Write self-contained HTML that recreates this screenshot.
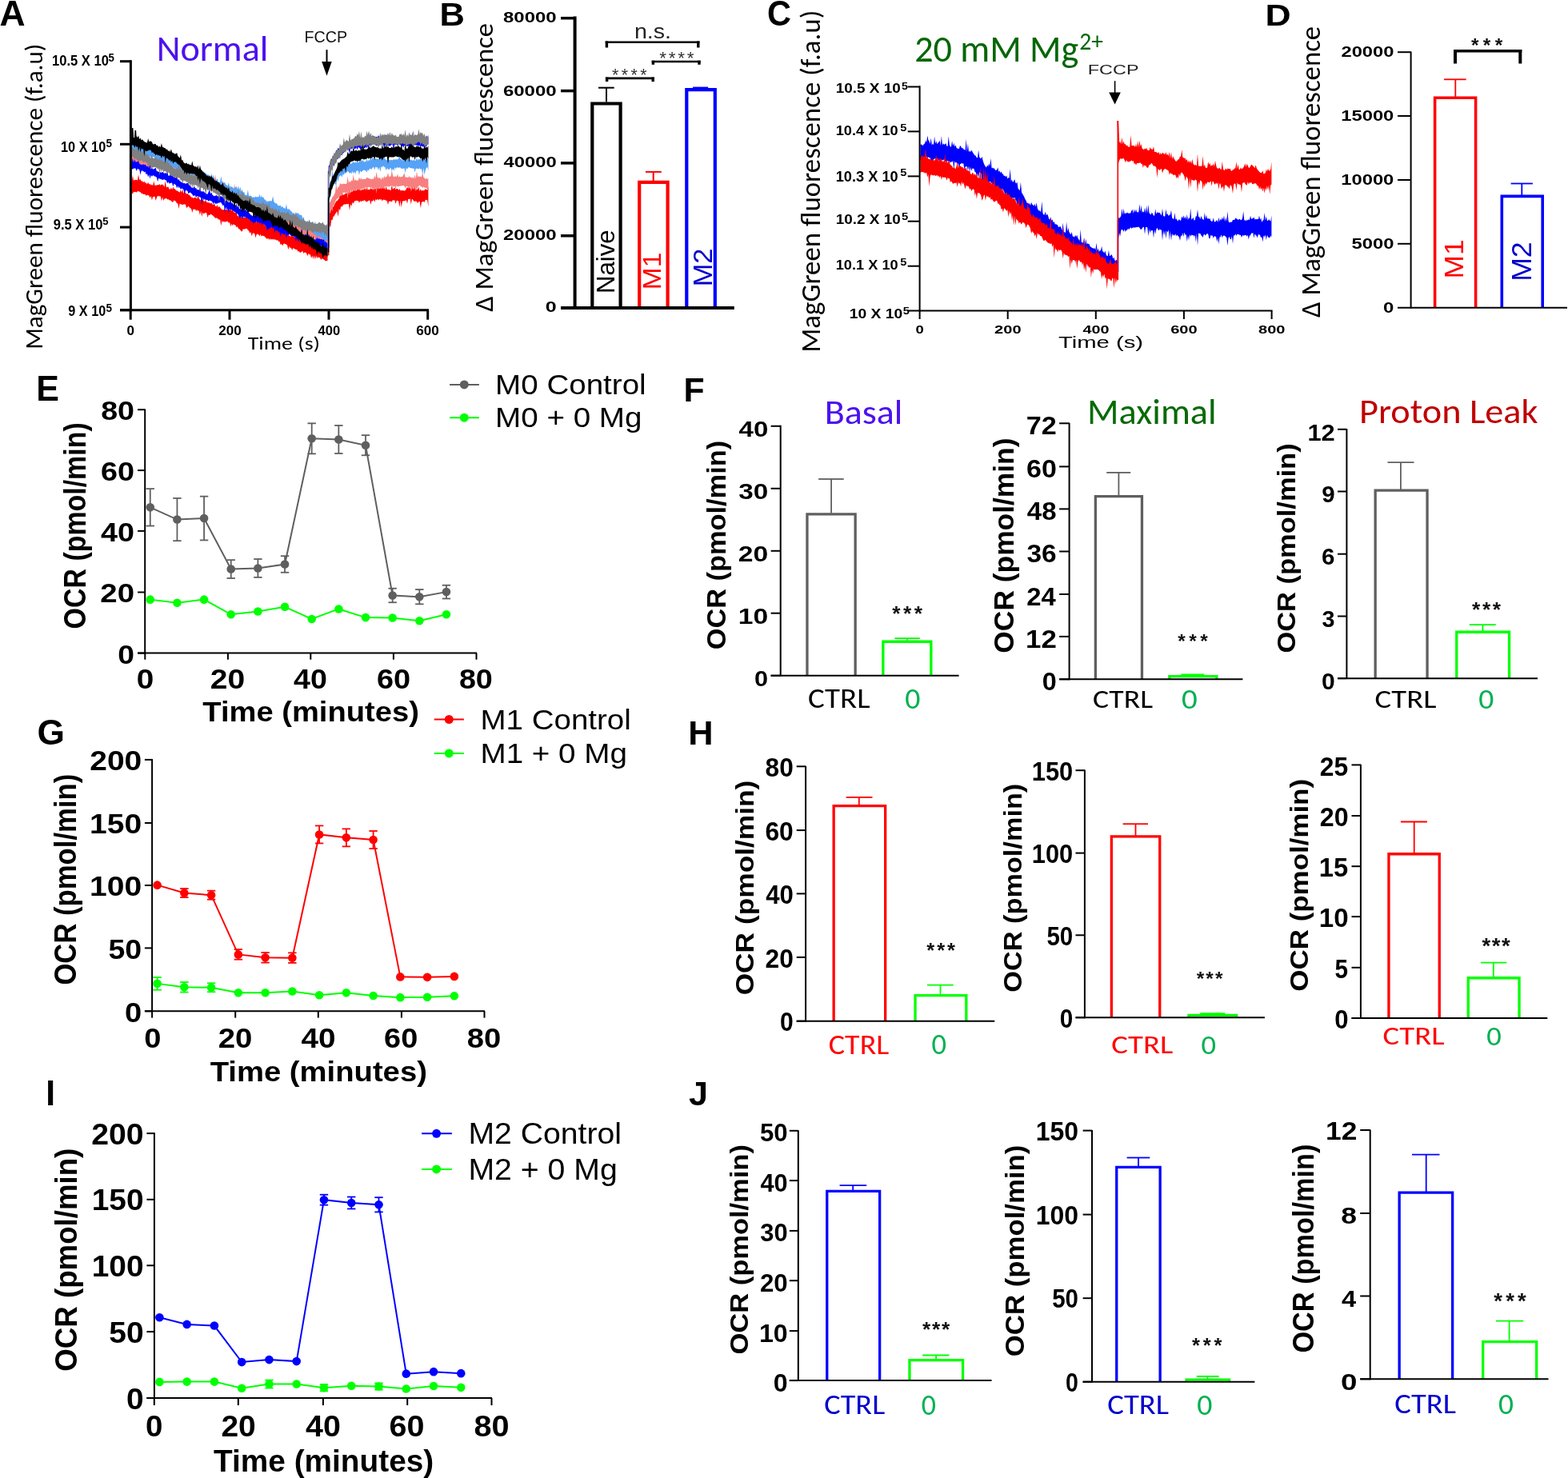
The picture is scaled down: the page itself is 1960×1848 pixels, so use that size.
<!DOCTYPE html>
<html><head><meta charset="utf-8"><title>Figure</title>
<style>html,body{margin:0;padding:0;background:#fff;}svg{display:block;}</style>
</head><body>
<svg xmlns="http://www.w3.org/2000/svg" width="1960" height="1848" viewBox="0 0 1960 1848">
<rect x="0" y="0" width="1960" height="1848" fill="#fff"/>
<text x="-0.61" y="32" style="font-family:'Liberation Sans', Arial, sans-serif;font-weight:bold;font-size:44.48px" fill="#000" textLength="32.08" lengthAdjust="spacingAndGlyphs">A</text>
<text x="195.67" y="76.16" style="font-family:Carlito, Calibri, 'Liberation Sans', sans-serif;font-weight:normal;font-size:45.89px" fill="#4c12ee" textLength="139.64" lengthAdjust="spacingAndGlyphs">Normal</text>
<text x="380.59" y="52.51" style="font-family:'Liberation Sans', Arial, sans-serif;font-weight:normal;font-size:19.92px" fill="#111" textLength="53.55" lengthAdjust="spacingAndGlyphs">FCCP</text>
<line x1="408.5" y1="62.2" x2="408.5" y2="78" stroke="#000" stroke-width="2" stroke-linecap="butt"/>
<polygon points="402.2,77 414.7,77 408.5,94.7" fill="#000"/>
<polygon points="163.5,226.23 164.7,227.24 165.9,219.4 167.1,226.1 168.3,224.82 169.5,224.93 170.7,224.86 171.9,225.62 173.1,218.13 174.3,225.05 175.5,224 176.7,226.73 177.9,226.29 179.1,228.34 180.3,226.57 181.5,228.76 182.7,228.53 183.9,230.39 185.1,227.81 186.3,230.57 187.5,229.64 188.7,231.65 189.9,230.53 191.1,232.36 192.3,226.14 193.5,231.88 194.7,231.53 195.9,231.65 197.1,231.09 198.3,231.41 199.5,230.02 200.7,232.07 201.9,230.44 203.1,230.67 204.3,231.46 205.5,233.89 206.7,225.69 207.9,234.42 209.1,233.68 210.3,233.5 211.5,236.35 212.7,236.97 213.9,234.51 215.1,237.16 216.3,233.79 217.5,236 218.7,236.16 219.9,238.07 221.1,238.54 222.3,238.78 223.5,239.89 224.7,240.51 225.9,237.25 227.1,241.02 228.3,236.48 229.5,242.34 230.7,238.03 231.9,241.21 233.1,242.41 234.3,242.08 235.5,243.22 236.7,243.82 237.9,245.02 239.1,246.71 240.3,246.66 241.5,247.77 242.7,247.61 243.9,246.39 245.1,247.83 246.3,248.51 247.5,244.58 248.7,247.84 249.9,249.61 251.1,250.4 252.3,247.59 253.5,249.46 254.7,251.49 255.9,251.88 257.1,250.36 258.3,252.7 259.5,253.26 260.7,253.27 261.9,253.46 263.1,254.42 264.3,253.54 265.5,255.29 266.7,256.08 267.9,254.17 269.1,257.45 270.3,258.61 271.5,255.9 272.7,259.59 273.9,258 275.1,259.15 276.3,261.12 277.5,261.92 278.7,262.61 279.9,262.06 281.1,261.81 282.3,262.8 283.5,262.21 284.7,262.34 285.9,261.56 287.1,263.32 288.3,257.77 289.5,263.74 290.7,262.88 291.9,264.55 293.1,265.95 294.3,266.31 295.5,264.47 296.7,269.94 297.9,270.16 299.1,270.78 300.3,271.41 301.5,272.07 302.7,268.01 303.9,272.05 305.1,272.04 306.3,271.92 307.5,272.07 308.7,269.9 309.9,269.99 311.1,273.94 312.3,275.65 313.5,274.85 314.7,274.33 315.9,277.2 317.1,275.04 318.3,277.17 319.5,277.31 320.7,277.9 321.9,276.47 323.1,278.95 324.3,270.42 325.5,276.23 326.7,274.02 327.9,279.38 329.1,276.46 330.3,281.39 331.5,280.79 332.7,283.03 333.9,281.83 335.1,283.47 336.3,281.99 337.5,282.78 338.7,280.51 339.9,284.93 341.1,283.54 342.3,285.13 343.5,283.77 344.7,286.03 345.9,285.84 347.1,285.77 348.3,281.72 349.5,288.24 350.7,285.93 351.9,289.89 353.1,288.98 354.3,290.25 355.5,289.97 356.7,291.49 357.9,288.18 359.1,291.88 360.3,292.96 361.5,294.73 362.7,295.15 363.9,295.75 365.1,289.94 366.3,295.98 367.5,295.56 368.7,296.92 369.9,297.5 371.1,298.28 372.3,293.21 373.5,299.43 374.7,300.25 375.9,300.13 377.1,296.99 378.3,299.97 379.5,299.63 380.7,301.27 381.9,293.15 383.1,301.83 384.3,302.44 385.5,303.52 386.7,298.4 387.9,304.32 389.1,303.92 390.3,305.11 391.5,302.81 392.7,304.66 393.9,304.26 395.1,306.23 396.3,305.84 397.5,306.87 398.7,308.02 399.9,307.21 401.1,309.05 402.3,308.67 403.5,310.34 404.7,311.07 405.9,308.41 407.1,312.05 408.3,312.61 409.5,312.82 409.5,326.12 408.3,326.11 407.1,326.46 405.9,325.17 404.7,324.59 403.5,323.65 402.3,323.23 401.1,325.06 399.9,321.74 398.7,322.52 397.5,320.91 396.3,323.3 395.1,319.56 393.9,324.55 392.7,319.58 391.5,323.72 390.3,319.51 389.1,322.96 387.9,318.3 386.7,318.23 385.5,316.9 384.3,320.15 383.1,316.62 381.9,315.67 380.7,315.39 379.5,317.02 378.3,313.66 377.1,314.72 375.9,315.87 374.7,315.43 373.5,314.14 372.3,314.3 371.1,311.81 369.9,312.54 368.7,311.02 367.5,311.11 366.3,310.01 365.1,312.89 363.9,309.45 362.7,310.19 361.5,307.96 360.3,312.26 359.1,306.6 357.9,305.72 356.7,305.11 355.5,304.56 354.3,304.98 353.1,307.38 351.9,304.87 350.7,306.2 349.5,302.05 348.3,301.9 347.1,300.12 345.9,300.77 344.7,299.53 343.5,299.63 342.3,298.94 341.1,299.7 339.9,298.52 338.7,300.1 337.5,297.94 336.3,299.92 335.1,297.61 333.9,298.96 332.7,297.77 331.5,296.45 330.3,295.24 329.1,295.12 327.9,294.49 326.7,295.49 325.5,292.81 324.3,295.49 323.1,292.96 321.9,292.6 320.7,293.1 319.5,297.61 318.3,292.12 317.1,291.42 315.9,291.43 314.7,295.49 313.5,289.98 312.3,291.72 311.1,288.42 309.9,287.93 308.7,285.71 307.5,285.95 306.3,285.92 305.1,287.02 303.9,285.91 302.7,289.62 301.5,289.18 300.3,287.5 299.1,286.26 297.9,285.78 296.7,283.06 295.5,284.53 294.3,281.22 293.1,281.42 291.9,280.02 290.7,282.33 289.5,279.8 288.3,283.36 287.1,277.76 285.9,279.19 284.7,276.33 283.5,277.61 282.3,276.48 281.1,278.23 279.9,276.15 278.7,277.91 277.5,275.83 276.3,282.19 275.1,274.32 273.9,275.09 272.7,273.55 271.5,273.35 270.3,271.99 269.1,272.88 267.9,271.36 266.7,270.03 265.5,268.99 264.3,268.3 263.1,267.76 261.9,269.33 260.7,268.52 259.5,272.15 258.3,266.57 257.1,265.82 255.9,266.27 254.7,267.65 253.5,265.46 252.3,271.03 251.1,263.44 249.9,268.93 248.7,263.27 247.5,263.83 246.3,262.25 245.1,263.89 243.9,261.35 242.7,261.93 241.5,261.18 240.3,266.08 239.1,261.08 237.9,260.2 236.7,259.32 235.5,257.5 234.3,258.99 233.1,260 231.9,255.58 230.7,255.51 229.5,255.58 228.3,256.06 227.1,255.71 225.9,255.13 224.7,254.46 223.5,260.91 222.3,254.33 221.1,254.62 219.9,251.77 218.7,251.32 217.5,250.37 216.3,252.85 215.1,252.61 213.9,251.06 212.7,250.27 211.5,250.29 210.3,248.98 209.1,249.61 207.9,247.75 206.7,248.52 205.5,248.4 204.3,250.95 203.1,246.31 201.9,251.21 200.7,245.39 199.5,245.22 198.3,245.4 197.1,244.79 195.9,246.99 194.7,250.9 193.5,245.41 192.3,245.9 191.1,246.04 189.9,250.45 188.7,245 187.5,247.55 186.3,244.48 185.1,244.2 183.9,243.4 182.7,245.05 181.5,242.9 180.3,242.75 179.1,243.11 177.9,241.73 176.7,242 175.5,240.09 174.3,239.81 173.1,239.32 171.9,239.04 170.7,240.69 169.5,239.86 168.3,240.31 167.1,239.65 165.9,242.55 164.7,240.91 163.5,244.54" fill="#ff0000"/>
<polygon points="410.6,267.27 411.8,265.61 413,263.9 414.2,261.89 415.4,258.85 416.6,258.66 417.8,256.44 419,253.91 420.2,251.59 421.4,251.22 422.6,249.57 423.8,248.36 425,242.64 426.2,245.71 427.4,236.55 428.6,244.08 429.8,243.4 431,242.77 432.2,241.36 433.4,242.31 434.6,239.11 435.8,241.69 437,233.72 438.2,241.58 439.4,237.5 440.6,239.9 441.8,236.21 443,239.17 444.2,234.28 445.4,238.53 446.6,237.02 447.8,236.27 449,229.92 450.2,238.28 451.4,236.9 452.6,237.67 453.8,236.21 455,237.47 456.2,234.3 457.4,238.02 458.6,233.81 459.8,237.65 461,236.38 462.2,237.39 463.4,234.97 464.6,236.41 465.8,236.45 467,236.72 468.2,235.84 469.4,236.15 470.6,233.56 471.8,235.62 473,234.74 474.2,235.88 475.4,234.47 476.6,236.78 477.8,228.86 479,236.41 480.2,233.37 481.4,237.59 482.6,232.27 483.8,237.23 485,236.67 486.2,236.98 487.4,237.6 488.6,238.17 489.8,230.86 491,237.12 492.2,235.21 493.4,235.06 494.6,236.97 495.8,236.06 497,235.91 498.2,237.92 499.4,235.89 500.6,238.19 501.8,238.23 503,238.03 504.2,238.32 505.4,238.57 506.6,238.22 507.8,236.29 509,233.73 510.2,235.8 511.4,233.32 512.6,235.67 513.8,234.54 515,236.3 516.2,233.08 517.4,237.41 518.6,230.84 519.8,238.89 521,235.55 522.2,237.62 523.4,233.3 524.6,239.3 525.8,236 527,239.01 528.2,237.81 529.4,238.49 530.6,237.72 531.8,236.05 533,236.91 534.2,237.55 535.4,233.37 535.4,258.44 534.2,250.29 533,249.99 531.8,249.81 530.6,252.94 529.4,252.03 528.2,252.16 527,252.66 525.8,260.29 524.6,251.92 523.4,251.91 522.2,254.2 521,252.08 519.8,251.47 518.6,251.65 517.4,251.77 516.2,249.7 515,248.55 513.8,255.71 512.6,248.25 511.4,249.19 510.2,248.67 509,254.83 507.8,249.9 506.6,251.23 505.4,251.31 504.2,251.33 503,251.7 501.8,259.57 500.6,250.47 499.4,258.89 498.2,251.55 497,251.05 495.8,250.67 494.6,254.96 493.4,250.33 492.2,250.71 491,249.76 489.8,252.8 488.6,251.3 487.4,252.29 486.2,251.18 485,256.32 483.8,250.63 482.6,250.97 481.4,249.85 480.2,249.93 479,249.57 477.8,251.42 476.6,249.1 475.4,249.76 474.2,248.73 473,250.45 471.8,248.6 470.6,250.56 469.4,248.92 468.2,252.7 467,249.22 465.8,251.95 464.6,250.72 463.4,256.01 462.2,250.51 461,250.65 459.8,251.54 458.6,252.19 457.4,252.29 456.2,250.6 455,250.3 453.8,251.67 452.6,250.7 451.4,252.49 450.2,250.71 449,253.74 447.8,250.93 446.6,250.88 445.4,250.87 444.2,251.37 443,251.4 441.8,254.69 440.6,252.81 439.4,258.07 438.2,254.93 437,263.05 435.8,254.47 434.6,255.58 433.4,254.72 432.2,255.74 431,255.37 429.8,255.85 428.6,256.66 427.4,258.65 426.2,257.95 425,263.48 423.8,260.8 422.6,271.02 421.4,264.07 420.2,266.05 419,267.38 417.8,270.37 416.6,270.79 415.4,275.45 414.2,274.78 413,284.74 411.8,281.29 410.6,282.88" fill="#ff0000"/>
<line x1="410.6" y1="319.29" x2="410.6" y2="275.37" stroke="#ff0000" stroke-width="1.5" stroke-linecap="butt"/>
<polygon points="163.5,193.14 164.7,191.75 165.9,192.33 167.1,193.11 168.3,193.79 169.5,194.22 170.7,195.87 171.9,194.43 173.1,191.26 174.3,196.58 175.5,195.04 176.7,195.68 177.9,195.36 179.1,197.16 180.3,197.07 181.5,198.03 182.7,199.16 183.9,199.76 185.1,197.08 186.3,199.55 187.5,197.04 188.7,198.54 189.9,196.97 191.1,198.52 192.3,198.36 193.5,196.81 194.7,192.52 195.9,199.1 197.1,198.68 198.3,201.14 199.5,200.45 200.7,201.4 201.9,200.39 203.1,200.6 204.3,200.25 205.5,199.64 206.7,198.05 207.9,201.31 209.1,196.42 210.3,201.3 211.5,199.89 212.7,204 213.9,204.64 215.1,205.51 216.3,201.4 217.5,208.56 218.7,209.97 219.9,210.68 221.1,211.63 222.3,212.24 223.5,211.23 224.7,210.81 225.9,211.72 227.1,211.53 228.3,210.33 229.5,212.28 230.7,211.72 231.9,213.62 233.1,213.75 234.3,214.83 235.5,213.46 236.7,216.47 237.9,212.54 239.1,217.81 240.3,218.26 241.5,219.52 242.7,216.97 243.9,219.98 245.1,220.59 246.3,220.51 247.5,221.44 248.7,221.9 249.9,220.59 251.1,221.84 252.3,217.21 253.5,223.66 254.7,223.3 255.9,223.79 257.1,220.69 258.3,224.86 259.5,220.36 260.7,225.13 261.9,226.32 263.1,227 264.3,226.71 265.5,226.14 266.7,218 267.9,226.91 269.1,217.92 270.3,227.35 271.5,226.71 272.7,226.61 273.9,228.76 275.1,231.16 276.3,231.71 277.5,233.1 278.7,224.91 279.9,233.7 281.1,231.86 282.3,235.51 283.5,236.01 284.7,237.46 285.9,236.92 287.1,237.1 288.3,234.87 289.5,237.32 290.7,236.18 291.9,238.15 293.1,229.65 294.3,237.89 295.5,235.55 296.7,240.45 297.9,240.93 299.1,242.53 300.3,241.37 301.5,245.06 302.7,245.65 303.9,246.51 305.1,244.66 306.3,246.38 307.5,245.85 308.7,245.95 309.9,248.67 311.1,250.09 312.3,249.8 313.5,250.55 314.7,250.2 315.9,250.83 317.1,247.05 318.3,251.8 319.5,252.37 320.7,253.05 321.9,252.3 323.1,252.26 324.3,252.99 325.5,252.51 326.7,250.39 327.9,254.6 329.1,251.71 330.3,257.07 331.5,254.31 332.7,258.42 333.9,255.52 335.1,258.63 336.3,257.82 337.5,257.22 338.7,255.32 339.9,260.31 341.1,259.93 342.3,263.93 343.5,264.82 344.7,265.7 345.9,265.33 347.1,267.02 348.3,266.59 349.5,267.27 350.7,267.98 351.9,268.64 353.1,266.38 354.3,268.9 355.5,269.65 356.7,270.48 357.9,269.16 359.1,272.29 360.3,271.12 361.5,272.6 362.7,273.39 363.9,275.35 365.1,270.47 366.3,277.49 367.5,278.76 368.7,279.64 369.9,279.16 371.1,280.83 372.3,276.8 373.5,281.45 374.7,277.49 375.9,279.95 377.1,281.98 378.3,284.98 379.5,285.72 380.7,286.16 381.9,286.51 383.1,287.27 384.3,288.44 385.5,288.59 386.7,283.59 387.9,288.95 389.1,287.83 390.3,288.96 391.5,287.28 392.7,288.62 393.9,287.18 395.1,288.56 396.3,286.76 397.5,289.71 398.7,290.07 399.9,290.24 401.1,283.87 402.3,291.93 403.5,290.35 404.7,292.69 405.9,289.61 407.1,294.33 408.3,292.4 409.5,294.34 409.5,303.94 408.3,304.52 407.1,303.51 405.9,303.9 404.7,302.18 403.5,301.83 402.3,300.69 401.1,300.71 399.9,299.98 398.7,300.08 397.5,299.07 396.3,303 395.1,298.44 393.9,300.88 392.7,297.28 391.5,298.41 390.3,298.73 389.1,301.11 387.9,298.04 386.7,302.42 385.5,298.39 384.3,298.65 383.1,298.84 381.9,296.32 380.7,295.98 379.5,296.45 378.3,293.78 377.1,293.61 375.9,291.37 374.7,293.46 373.5,290.82 372.3,290.48 371.1,290.91 369.9,291.26 368.7,289.25 367.5,288.09 366.3,286.91 365.1,287.99 363.9,285.29 362.7,284.03 361.5,283.45 360.3,281.85 359.1,283.12 357.9,280.86 356.7,280.98 355.5,280.13 354.3,278.77 353.1,278.92 351.9,277.8 350.7,277.85 349.5,277.9 348.3,278.17 347.1,276.43 345.9,275.39 344.7,275 343.5,273.95 342.3,272.88 341.1,272.32 339.9,269.96 338.7,271.66 337.5,268.58 336.3,268.73 335.1,267.39 333.9,267.51 332.7,267.33 331.5,266.89 330.3,267.68 329.1,266.34 327.9,265.63 326.7,265.88 325.5,264.24 324.3,265.07 323.1,263.97 321.9,268.48 320.7,262.12 319.5,261.8 318.3,261.99 317.1,261.3 315.9,260.16 314.7,262.36 313.5,259.51 312.3,259.42 311.1,258.71 309.9,259.55 308.7,258.05 307.5,257.48 306.3,258.63 305.1,256.72 303.9,255.93 302.7,259.74 301.5,256.14 300.3,255.3 299.1,252.67 297.9,253.06 296.7,249.43 295.5,250.46 294.3,247.94 293.1,247.41 291.9,248.32 290.7,248.1 289.5,247.13 288.3,253.04 287.1,248.8 285.9,246.76 284.7,246.35 283.5,250.96 282.3,245.89 281.1,246 279.9,244.15 278.7,246.81 277.5,241.85 276.3,241.08 275.1,242.62 273.9,245.85 272.7,237.94 271.5,238.59 270.3,236.51 269.1,235.81 267.9,235.68 266.7,237.77 265.5,235.97 264.3,240.91 263.1,236.69 261.9,236.43 260.7,235.88 259.5,236.46 258.3,234.12 257.1,233.88 255.9,233.38 254.7,234.75 253.5,233.78 252.3,233.58 251.1,233.3 249.9,233.07 248.7,231.41 247.5,236.22 246.3,230.98 245.1,230.67 243.9,229.87 242.7,230.13 241.5,228.62 240.3,230.26 239.1,226.97 237.9,235.28 236.7,226.03 235.5,226.06 234.3,224.01 233.1,225.33 231.9,222.48 230.7,222.8 229.5,221.8 228.3,223.53 227.1,221.04 225.9,221.02 224.7,221.72 223.5,222.68 222.3,221.75 221.1,223.75 219.9,220.83 218.7,222.96 217.5,217.51 216.3,221.62 215.1,215.04 213.9,218.41 212.7,213.27 211.5,215.96 210.3,211.97 209.1,216.67 207.9,210.12 206.7,210.54 205.5,209.07 204.3,214.33 203.1,209.81 201.9,210.94 200.7,210.29 199.5,210.13 198.3,211.2 197.1,211.69 195.9,209.41 194.7,208.16 193.5,208.09 192.3,208.08 191.1,208.28 189.9,209.09 188.7,209.42 187.5,210.44 186.3,211.52 185.1,217.82 183.9,210.63 182.7,216.23 181.5,207.33 180.3,210.09 179.1,206.66 177.9,207.33 176.7,207.11 175.5,207.05 174.3,206.18 173.1,213.54 171.9,206.01 170.7,208.01 169.5,204.32 168.3,208.51 167.1,202.67 165.9,202.53 164.7,201.58 163.5,203.07" fill="#f77f7f"/>
<polygon points="410.6,255.1 411.8,253.64 413,251.66 414.2,249.58 415.4,246.38 416.6,245.52 417.8,243.3 419,240.54 420.2,230.28 421.4,237.39 422.6,233.16 423.8,234.02 425,229.36 426.2,229.66 427.4,230.38 428.6,229.96 429.8,229.44 431,229.98 432.2,229.94 433.4,229.41 434.6,220.52 435.8,228.83 437,226.52 438.2,227.63 439.4,225.37 440.6,226.36 441.8,218.11 443,226.6 444.2,224.13 445.4,225.45 446.6,225.68 447.8,225.6 449,221.46 450.2,224.7 451.4,222.15 452.6,224.59 453.8,223.82 455,224.28 456.2,224.08 457.4,223.81 458.6,221.75 459.8,222.49 461,223.02 462.2,223.36 463.4,224.1 464.6,224.17 465.8,223.5 467,223.9 468.2,219.75 469.4,222.88 470.6,214.76 471.8,221.68 473,222.65 474.2,222.27 475.4,222.65 476.6,224.88 477.8,220.81 479,224.34 480.2,219.61 481.4,222.41 482.6,220.76 483.8,220.65 485,215.78 486.2,221.36 487.4,220.46 488.6,220.49 489.8,212.5 491,219.62 492.2,221.41 493.4,220.5 494.6,220.51 495.8,220.89 497,217.4 498.2,221.71 499.4,220.2 500.6,221.83 501.8,220.76 503,221.28 504.2,218.95 505.4,216.14 506.6,221.73 507.8,221.6 509,221.69 510.2,222.22 511.4,219.91 512.6,222.3 513.8,221.26 515,223.33 516.2,220.77 517.4,223.86 518.6,218.53 519.8,223.65 521,213.9 522.2,221.67 523.4,219.73 524.6,221.54 525.8,220.36 527,221.54 528.2,216.01 529.4,221.38 530.6,222.46 531.8,223.99 533,222.81 534.2,223.97 535.4,223.1 535.4,239.07 534.2,236.06 533,235.34 531.8,234.5 530.6,234.86 529.4,233.4 528.2,234.98 527,233.16 525.8,233.3 524.6,231.6 523.4,232.47 522.2,233.91 521,237.03 519.8,234.27 518.6,234.61 517.4,234.61 516.2,235.77 515,236.62 513.8,239.58 512.6,233.09 511.4,234.81 510.2,233.94 509,233 507.8,232.87 506.6,235.38 505.4,232.48 504.2,232.07 503,232.21 501.8,232.5 500.6,232.58 499.4,232.67 498.2,233.17 497,233.44 495.8,231.76 494.6,236.39 493.4,232.15 492.2,234.09 491,232.6 489.8,232.16 488.6,231.9 487.4,233.16 486.2,233.52 485,233.24 483.8,232.91 482.6,232.73 481.4,233.04 480.2,234.46 479,235.76 477.8,235.31 476.6,235.97 475.4,234.5 474.2,234.51 473,237.17 471.8,233.76 470.6,242.34 469.4,234.11 468.2,238.1 467,235.24 465.8,237.12 464.6,234.41 463.4,234.7 462.2,234.58 461,233.48 459.8,234.56 458.6,234.61 457.4,234.35 456.2,234.51 455,235.19 453.8,236.62 452.6,235.24 451.4,239.11 450.2,235.79 449,238.28 447.8,236.64 446.6,237.04 445.4,236.64 444.2,239.27 443,237.04 441.8,237.28 440.6,237.48 439.4,239.92 438.2,238.01 437,244 435.8,239.11 434.6,248.72 433.4,240.37 432.2,241.04 431,240.65 429.8,240.65 428.6,240.7 427.4,244.75 426.2,242.93 425,243.18 423.8,245.63 422.6,248.6 421.4,247.93 420.2,249.89 419,251.7 417.8,256.46 416.6,256.85 415.4,264.51 414.2,260.17 413,267.19 411.8,264.56 410.6,274.6" fill="#f77f7f"/>
<line x1="410.6" y1="299.42" x2="410.6" y2="261.79" stroke="#f77f7f" stroke-width="1.5" stroke-linecap="butt"/>
<polygon points="163.5,203.43 164.7,203.41 165.9,197.65 167.1,203.26 168.3,199.16 169.5,202.38 170.7,202.51 171.9,201.88 173.1,200.67 174.3,204.69 175.5,205.4 176.7,205.77 177.9,205.95 179.1,205.37 180.3,206.37 181.5,205.62 182.7,207.3 183.9,208.51 185.1,207.25 186.3,210.57 187.5,202.44 188.7,211.73 189.9,209.56 191.1,211.7 192.3,211.16 193.5,210.77 194.7,209.51 195.9,214.14 197.1,214.09 198.3,215.14 199.5,214.52 200.7,215.62 201.9,215.76 203.1,214.71 204.3,216.1 205.5,217.12 206.7,215.7 207.9,217.56 209.1,210.45 210.3,219.48 211.5,220.03 212.7,217.85 213.9,219.93 215.1,218.59 216.3,220.41 217.5,221.54 218.7,221.92 219.9,222.44 221.1,215.61 222.3,225.28 223.5,223.77 224.7,226.61 225.9,226.65 227.1,228.22 228.3,228.15 229.5,229.16 230.7,228.8 231.9,229.91 233.1,229.1 234.3,229.17 235.5,227.47 236.7,232.05 237.9,232.11 239.1,234.46 240.3,234.33 241.5,235.4 242.7,232.23 243.9,235.47 245.1,234.9 246.3,237.47 247.5,236.69 248.7,237.93 249.9,232.43 251.1,239.33 252.3,239.26 253.5,239.47 254.7,239.32 255.9,241.09 257.1,241.15 258.3,242.61 259.5,242.83 260.7,239.96 261.9,236.78 263.1,242.13 264.3,240.49 265.5,243.45 266.7,244.66 267.9,245.05 269.1,245.21 270.3,243.87 271.5,245.23 272.7,245.34 273.9,245 275.1,245.54 276.3,245.31 277.5,246.52 278.7,243.28 279.9,248.71 281.1,249.88 282.3,251.14 283.5,250.25 284.7,252.24 285.9,252.84 287.1,253.02 288.3,249.89 289.5,254.19 290.7,253.65 291.9,256.1 293.1,256.02 294.3,257.25 295.5,254.55 296.7,259.22 297.9,257.05 299.1,261.24 300.3,261.01 301.5,262.09 302.7,260.82 303.9,262.59 305.1,261.56 306.3,263.14 307.5,259.13 308.7,264.45 309.9,262.64 311.1,266.26 312.3,267.12 313.5,268.67 314.7,269.15 315.9,270.39 317.1,266.86 318.3,269.99 319.5,266.9 320.7,270.06 321.9,267.24 323.1,269.65 324.3,270.01 325.5,270.63 326.7,264.63 327.9,271.09 329.1,268.9 330.3,271.85 331.5,268.01 332.7,275 333.9,274.06 335.1,274.87 336.3,275.13 337.5,277.06 338.7,275.73 339.9,277.07 341.1,275.57 342.3,277.76 343.5,277.93 344.7,279.03 345.9,279.89 347.1,280.4 348.3,280.3 349.5,281.13 350.7,274.9 351.9,281.8 353.1,280.79 354.3,282.99 355.5,282.4 356.7,284 357.9,284.14 359.1,283.01 360.3,285.15 361.5,285.35 362.7,285.85 363.9,286.27 365.1,282.3 366.3,286.48 367.5,286.78 368.7,287.97 369.9,288.77 371.1,289.17 372.3,289.93 373.5,291.33 374.7,290.88 375.9,293.06 377.1,284.6 378.3,293.7 379.5,293.12 380.7,294.11 381.9,292.42 383.1,294.06 384.3,294.83 385.5,295.51 386.7,293.16 387.9,297.46 389.1,296.44 390.3,299.13 391.5,296.1 392.7,299.58 393.9,299.35 395.1,299.44 396.3,296.35 397.5,299.24 398.7,297.86 399.9,299.19 401.1,299.01 402.3,299.09 403.5,300.14 404.7,299.28 405.9,298.78 407.1,302.65 408.3,303.02 409.5,304.63 409.5,313.59 408.3,311.88 407.1,311.2 405.9,316.19 404.7,308.79 403.5,307.76 402.3,307.72 401.1,307.45 399.9,307.89 398.7,308.13 397.5,306.86 396.3,307 395.1,308.31 393.9,307.91 392.7,307.41 391.5,308.28 390.3,306.36 389.1,308.8 387.9,306.14 386.7,307.14 385.5,303.56 384.3,306.56 383.1,303.77 381.9,302.69 380.7,301.67 379.5,305.04 378.3,301.68 377.1,302.35 375.9,302.14 374.7,299.8 373.5,302.47 372.3,300.32 371.1,297.28 369.9,302.14 368.7,295.96 367.5,296.93 366.3,294.79 365.1,295.18 363.9,294.99 362.7,293.84 361.5,292.83 360.3,294.38 359.1,293.72 357.9,297.84 356.7,291.6 355.5,294.01 354.3,292.17 353.1,292.53 351.9,290.96 350.7,297.22 349.5,289.92 348.3,290.44 347.1,288.19 345.9,289.07 344.7,286.38 343.5,291.37 342.3,284.82 341.1,285.65 339.9,284.53 338.7,284.51 337.5,284.69 336.3,286.07 335.1,287.01 333.9,288.08 332.7,282.79 331.5,282 330.3,280.76 329.1,279.58 327.9,281.23 326.7,279.56 325.5,278.59 324.3,279.27 323.1,278.07 321.9,278.36 320.7,277.19 319.5,277.96 318.3,277.69 317.1,279.53 315.9,277.69 314.7,277.36 313.5,276.2 312.3,275.66 311.1,273.92 309.9,273.42 308.7,271.75 307.5,272.85 306.3,270.99 305.1,271.64 303.9,270.45 302.7,273.4 301.5,270.38 300.3,273.02 299.1,271.28 297.9,269.05 296.7,266.77 295.5,267.52 294.3,265.34 293.1,265.15 291.9,263.54 290.7,263.88 289.5,262.12 288.3,262.07 287.1,261.09 285.9,266.18 284.7,260.61 283.5,263.49 282.3,258.53 281.1,266.36 279.9,256.07 278.7,257.62 277.5,254.97 276.3,253.23 275.1,252.82 273.9,254.08 272.7,253.13 271.5,255.02 270.3,254.29 269.1,254.97 267.9,252.65 266.7,255.28 265.5,252.59 264.3,251.38 263.1,250.97 261.9,250.48 260.7,251.82 259.5,250.3 258.3,249.68 257.1,250.63 255.9,248.31 254.7,250.15 253.5,247.49 252.3,256 251.1,246.67 249.9,246.83 248.7,245.87 247.5,245.52 246.3,244.88 245.1,247.13 243.9,244.07 242.7,244.64 241.5,244.88 240.3,243.02 239.1,241.78 237.9,240.47 236.7,240.89 235.5,242.35 234.3,238.4 233.1,238.34 231.9,237.95 230.7,242.99 229.5,236.89 228.3,236.28 227.1,235.35 225.9,237.04 224.7,233.97 223.5,234.92 222.3,232.49 221.1,235.46 219.9,230.97 218.7,230.83 217.5,229.47 216.3,233.15 215.1,228.77 213.9,228.43 212.7,229.17 211.5,229.61 210.3,227.31 209.1,229.58 207.9,225.54 206.7,225.36 205.5,224.21 204.3,224.43 203.1,224.9 201.9,224.15 200.7,223.68 199.5,223.68 198.3,222.51 197.1,227.21 195.9,221.97 194.7,220.76 193.5,220.65 192.3,219.53 191.1,219.13 189.9,220.72 188.7,219.1 187.5,223.39 186.3,218.35 185.1,221.62 183.9,216.95 182.7,218.62 181.5,214.51 180.3,215.49 179.1,213.74 177.9,213.51 176.7,213.41 175.5,218.71 174.3,212.08 173.1,211.57 171.9,210.84 170.7,214.01 169.5,210.46 168.3,210.51 167.1,210.48 165.9,211.69 164.7,211.04 163.5,212.65" fill="#0000ff"/>
<polygon points="410.6,208.49 411.8,205.77 413,201.2 414.2,199.21 415.4,196.64 416.6,194.72 417.8,191.91 419,192.23 420.2,187.29 421.4,189.37 422.6,184.59 423.8,186.14 425,186.22 426.2,184.47 427.4,182.98 428.6,182.84 429.8,181.55 431,180.01 432.2,176.92 433.4,178.7 434.6,176.29 435.8,177.5 437,177.3 438.2,176.61 439.4,174.84 440.6,175.05 441.8,173.98 443,175.9 444.2,175.07 445.4,174.62 446.6,166.54 447.8,175.38 449,176.03 450.2,176.44 451.4,168.79 452.6,175.39 453.8,176.38 455,175.99 456.2,174.73 457.4,173.77 458.6,173.41 459.8,172.79 461,165.48 462.2,171.25 463.4,166.32 464.6,171.97 465.8,172.03 467,171.52 468.2,171.1 469.4,171.52 470.6,170.73 471.8,171.69 473,169.12 474.2,171.54 475.4,171.69 476.6,171.71 477.8,171.37 479,170.94 480.2,171.27 481.4,169.65 482.6,168.09 483.8,172.39 485,172.38 486.2,172.14 487.4,169.91 488.6,171.86 489.8,171.69 491,172.13 492.2,172.15 493.4,171.73 494.6,171.58 495.8,171.88 497,171.7 498.2,171.84 499.4,170.85 500.6,171.59 501.8,172.26 503,173.29 504.2,170.36 505.4,172.35 506.6,172.47 507.8,173.57 509,173.36 510.2,173.53 511.4,171.88 512.6,173.32 513.8,172.37 515,172.56 516.2,163.42 517.4,172.02 518.6,170.73 519.8,171.63 521,171.51 522.2,173.37 523.4,171.9 524.6,173.06 525.8,170.87 527,171.98 528.2,172.06 529.4,174.09 530.6,171.99 531.8,173.22 533,169.21 534.2,171.44 535.4,170.44 535.4,181.08 534.2,180.17 533,183.41 531.8,182.83 530.6,187.17 529.4,183.07 528.2,183.45 527,182.33 525.8,183.29 524.6,182.08 523.4,182.6 522.2,182.12 521,181.73 519.8,181.05 518.6,181.78 517.4,180.39 516.2,186.49 515,181.32 513.8,187.92 512.6,182.39 511.4,184.49 510.2,182 509,183.29 507.8,181.92 506.6,182.29 505.4,181.81 504.2,184.64 503,181.93 501.8,183.44 500.6,181.11 499.4,180.61 498.2,180.34 497,182.63 495.8,180.59 494.6,181.05 493.4,180.25 492.2,188.39 491,181.77 489.8,180.79 488.6,181.28 487.4,183.06 486.2,181.87 485,182.77 483.8,181.5 482.6,183.79 481.4,180.7 480.2,186.23 479,180.17 477.8,180.31 476.6,180.49 475.4,180.4 474.2,180.69 473,182.77 471.8,181.39 470.6,182.49 469.4,181.14 468.2,180.21 467,180.22 465.8,180.23 464.6,181.21 463.4,182.87 462.2,180.82 461,186.13 459.8,182.74 458.6,185.18 457.4,183.36 456.2,185.51 455,184.7 453.8,185.2 452.6,185.62 451.4,188.11 450.2,185.67 449,184.85 447.8,183.87 446.6,187.42 445.4,184.13 444.2,186.25 443,185.7 441.8,190.9 440.6,184.9 439.4,186.07 438.2,185.49 437,192.85 435.8,186.88 434.6,188.13 433.4,186.84 432.2,187.74 431,189.56 429.8,191.06 428.6,191.82 427.4,194.42 426.2,193.37 425,195.37 423.8,196.23 422.6,198.84 421.4,198.41 420.2,202.01 419,200.54 417.8,208.43 416.6,203.6 415.4,205.85 414.2,209.37 413,218.07 411.8,214.48 410.6,218.47" fill="#0000ff"/>
<line x1="410.6" y1="309.28" x2="410.6" y2="213.79" stroke="#0000ff" stroke-width="1.5" stroke-linecap="butt"/>
<polygon points="163.5,177.89 164.7,179.93 165.9,178.73 167.1,180.79 168.3,181.1 169.5,181.81 170.7,180.94 171.9,180.89 173.1,181.05 174.3,182.04 175.5,182.3 176.7,182.58 177.9,178.64 179.1,182.81 180.3,182.4 181.5,183.98 182.7,182.91 183.9,185.45 185.1,185.8 186.3,186.11 187.5,183.65 188.7,185.31 189.9,186.6 191.1,185.48 192.3,185 193.5,188.6 194.7,189.88 195.9,191.22 197.1,191.62 198.3,191.87 199.5,186.91 200.7,190.78 201.9,191.24 203.1,191.43 204.3,192.16 205.5,193.96 206.7,188.94 207.9,196.04 209.1,195.83 210.3,195.67 211.5,194.73 212.7,197.05 213.9,198.74 215.1,198.83 216.3,199.5 217.5,200.53 218.7,200.66 219.9,200.11 221.1,199.12 222.3,201.44 223.5,201.01 224.7,201.99 225.9,193.4 227.1,202.42 228.3,203.29 229.5,205.2 230.7,205.51 231.9,205.43 233.1,206.77 234.3,206.67 235.5,203.7 236.7,208.71 237.9,209.04 239.1,209.35 240.3,210.21 241.5,210.17 242.7,210.73 243.9,210.57 245.1,211.1 246.3,211.36 247.5,211.73 248.7,213.79 249.9,211.6 251.1,213.8 252.3,214.22 253.5,214.1 254.7,214.41 255.9,216.27 257.1,216.34 258.3,217.9 259.5,218.47 260.7,218.46 261.9,219.58 263.1,220.58 264.3,216.91 265.5,222.01 266.7,218.94 267.9,224.13 269.1,225.14 270.3,225.56 271.5,223.01 272.7,226.86 273.9,227.88 275.1,227.87 276.3,219.92 277.5,227.24 278.7,228.23 279.9,228.5 281.1,228.11 282.3,230.75 283.5,231.47 284.7,232.34 285.9,228.03 287.1,234.08 288.3,232.69 289.5,233.71 290.7,233.8 291.9,235.74 293.1,235.56 294.3,234.02 295.5,232.96 296.7,236.46 297.9,232.31 299.1,237.68 300.3,233.39 301.5,239.08 302.7,238.95 303.9,240.91 305.1,239.85 306.3,243.43 307.5,243.93 308.7,243.84 309.9,237.3 311.1,245.25 312.3,244.4 313.5,244.84 314.7,245.71 315.9,246.91 317.1,246.18 318.3,246.9 319.5,245.29 320.7,246.83 321.9,245.65 323.1,247.09 324.3,242.58 325.5,247.15 326.7,244.3 327.9,247.2 329.1,245.9 330.3,248.99 331.5,249.8 332.7,251.01 333.9,251.96 335.1,251.79 336.3,251.54 337.5,251.06 338.7,251.42 339.9,251.01 341.1,244.99 342.3,252.07 343.5,253.4 344.7,254.38 345.9,254 347.1,256.67 348.3,257.07 349.5,257.38 350.7,256.38 351.9,259.5 353.1,257.48 354.3,260.26 355.5,260 356.7,261.3 357.9,255 359.1,261.53 360.3,261.46 361.5,261.23 362.7,263.07 363.9,264.1 365.1,265.33 366.3,267.03 367.5,266.39 368.7,268.28 369.9,265.08 371.1,267.53 372.3,265.8 373.5,267.66 374.7,268.81 375.9,268.81 377.1,269 378.3,272.8 379.5,274.27 380.7,276.06 381.9,276.1 383.1,277.45 384.3,275.79 385.5,277.13 386.7,277.18 387.9,277.96 389.1,279.22 390.3,281.79 391.5,282.83 392.7,281.55 393.9,276.15 395.1,283.53 396.3,281.87 397.5,284.5 398.7,284.53 399.9,286.14 401.1,286.59 402.3,287.28 403.5,286.01 404.7,287.63 405.9,288.2 407.1,290.72 408.3,291.21 409.5,292.45 409.5,301.11 408.3,300.49 407.1,299.32 405.9,303.39 404.7,297.84 403.5,300.32 402.3,296.66 401.1,297.39 399.9,294.56 398.7,296.52 397.5,294.39 396.3,297.13 395.1,292.31 393.9,293.43 392.7,292.6 391.5,291.05 390.3,291.53 389.1,288.47 387.9,287.03 386.7,288.47 385.5,286.37 384.3,286.05 383.1,286.24 381.9,287.55 380.7,286.07 379.5,285.8 378.3,283.59 377.1,281.53 375.9,278.13 374.7,278.5 373.5,276.43 372.3,277.36 371.1,276.63 369.9,276.68 368.7,278.68 367.5,278.39 366.3,275.55 365.1,275.44 363.9,272.82 362.7,271.34 361.5,270.47 360.3,271.57 359.1,270.1 357.9,273.37 356.7,272.26 355.5,270.43 354.3,269.23 353.1,273.45 351.9,268.89 350.7,275.91 349.5,267.22 348.3,269.46 347.1,265.44 345.9,264.89 344.7,263.34 343.5,262.76 342.3,261.36 341.1,264.66 339.9,260.29 338.7,260.9 337.5,261.06 336.3,260.82 335.1,261.64 333.9,267.08 332.7,260.88 331.5,263.52 330.3,259.55 329.1,258.06 327.9,258.13 326.7,260.8 325.5,256.08 324.3,256.27 323.1,255.97 321.9,255.35 320.7,255.26 319.5,255.93 318.3,255.41 317.1,258.89 315.9,255.43 314.7,255.91 313.5,254.57 312.3,254.44 311.1,255.21 309.9,262.23 308.7,253.5 307.5,252.6 306.3,251.73 305.1,251.17 303.9,250.4 302.7,251.74 301.5,248.55 300.3,250.24 299.1,246.7 297.9,249.02 296.7,245.45 295.5,248.94 294.3,246.11 293.1,246.11 291.9,244.59 290.7,244.7 289.5,243.37 288.3,243.5 287.1,243.09 285.9,244.22 284.7,241.9 283.5,242.99 282.3,239.37 281.1,239.78 279.9,237.99 278.7,237.65 277.5,238.6 276.3,238.61 275.1,237.16 273.9,238.67 272.7,236.41 271.5,236.55 270.3,235.07 269.1,233.94 267.9,232.61 266.7,239.21 265.5,232.36 264.3,230.42 263.1,229.14 261.9,227.89 260.7,227.78 259.5,227.26 258.3,226.04 257.1,234.49 255.9,224.64 254.7,225.75 253.5,223.7 252.3,224.42 251.1,222.91 249.9,226 248.7,222.29 247.5,222.43 246.3,220.95 245.1,226.82 243.9,222.22 242.7,219.14 241.5,218.65 240.3,219.61 239.1,218.47 237.9,223.13 236.7,217.12 235.5,221.04 234.3,217.43 233.1,224.37 231.9,215.42 230.7,216.19 229.5,213.71 228.3,215 227.1,211.46 225.9,215.28 224.7,211.34 223.5,212.23 222.3,211.29 221.1,214.77 219.9,210.35 218.7,211.41 217.5,209.15 216.3,208.75 215.1,208.19 213.9,211.74 212.7,206.01 211.5,212.21 210.3,207.39 209.1,208.92 207.9,204.18 206.7,205.48 205.5,202.81 204.3,202.51 203.1,201.16 201.9,206.14 200.7,200.05 199.5,208.45 198.3,200.83 197.1,201.24 195.9,199.63 194.7,200.96 193.5,197.37 192.3,196.26 191.1,196.06 189.9,197.55 188.7,196.89 187.5,195.47 186.3,196.67 185.1,195.1 183.9,193.85 182.7,193.9 181.5,195.37 180.3,192.2 179.1,191.81 177.9,192.42 176.7,191.42 175.5,194.04 174.3,191.07 173.1,191.69 171.9,191.18 170.7,199 169.5,190.35 168.3,193.92 167.1,191.64 165.9,193.7 164.7,190.83 163.5,190.59" fill="#56a2f7"/>
<polygon points="410.6,234.89 411.8,231.64 413,226.45 414.2,224.7 415.4,213.86 416.6,219.78 417.8,217.6 419,216.31 420.2,214.49 421.4,213.39 422.6,208.22 423.8,211.28 425,210.57 426.2,208.86 427.4,207.9 428.6,207.63 429.8,202.89 431,205.22 432.2,201.02 433.4,205.09 434.6,202.03 435.8,204.56 437,204.46 438.2,204.96 439.4,204.59 440.6,203.21 441.8,202.21 443,203.85 444.2,202.15 445.4,204.2 446.6,197.49 447.8,203.99 449,201.39 450.2,202.58 451.4,198.61 452.6,201.85 453.8,199.67 455,202.91 456.2,201.49 457.4,202.53 458.6,198.41 459.8,202.34 461,199.49 462.2,201.22 463.4,193.43 464.6,200.22 465.8,196.26 467,198.83 468.2,198.97 469.4,198.76 470.6,198.31 471.8,198.84 473,198.88 474.2,198.75 475.4,189.91 476.6,198.15 477.8,193.74 479,197.86 480.2,191.49 481.4,199.23 482.6,199.62 483.8,200.79 485,192.1 486.2,199.71 487.4,200.4 488.6,199.63 489.8,200.17 491,200.32 492.2,199.05 493.4,199.75 494.6,199.22 495.8,199.16 497,199.57 498.2,197.91 499.4,194.39 500.6,198.97 501.8,198.67 503,200.53 504.2,200.19 505.4,200.63 506.6,191.83 507.8,200.11 509,199.21 510.2,199.73 511.4,199.8 512.6,199.87 513.8,199.62 515,200.83 516.2,200.22 517.4,200.32 518.6,200.46 519.8,201.04 521,196.95 522.2,200.78 523.4,198.48 524.6,199.85 525.8,198.37 527,199.23 528.2,192.67 529.4,200.67 530.6,197.36 531.8,200.22 533,198.79 534.2,198.34 535.4,195.65 535.4,213.37 534.2,208.99 533,209.66 531.8,212.74 530.6,218.98 529.4,210 528.2,218.8 527,210.86 525.8,212.19 524.6,210.08 523.4,211.16 522.2,211.21 521,210.52 519.8,210.87 518.6,215.55 517.4,210.34 516.2,211.02 515,210.3 513.8,210.3 512.6,209.99 511.4,209.08 510.2,209.6 509,211.8 507.8,209.81 506.6,216.16 505.4,210.31 504.2,210.84 503,210.75 501.8,211.22 500.6,209.58 499.4,209.32 498.2,209.94 497,209.2 495.8,209.27 494.6,211.37 493.4,209.2 492.2,213.85 491,210.63 489.8,214.04 488.6,210 487.4,210.5 486.2,212.21 485,211.61 483.8,210.31 482.6,213.24 481.4,208.95 480.2,208.87 479,207.33 477.8,209.21 476.6,208.07 475.4,215 474.2,208.95 473,212.89 471.8,208.95 470.6,209.57 469.4,208.38 468.2,212.44 467,208.76 465.8,209.62 464.6,211.52 463.4,211.51 462.2,210.59 461,213.65 459.8,211.68 458.6,215.71 457.4,213.13 456.2,213.37 455,212.51 453.8,212.91 452.6,214.23 451.4,215.16 450.2,213.34 449,218.88 447.8,213.21 446.6,213.76 445.4,213.54 444.2,217.94 443,214.15 441.8,217.14 440.6,213.77 439.4,217.41 438.2,215.14 437,217.28 435.8,214.84 434.6,214.32 433.4,215.06 432.2,217.11 431,216.12 429.8,218.84 428.6,217.85 427.4,221.67 426.2,218.92 425,219.88 423.8,221.03 422.6,227.29 421.4,223.12 420.2,232.12 419,229.9 417.8,228.91 416.6,230.24 415.4,236.98 414.2,235.55 413,247.13 411.8,242.47 410.6,244.83" fill="#56a2f7"/>
<line x1="410.6" y1="297.04" x2="410.6" y2="239.77" stroke="#56a2f7" stroke-width="1.5" stroke-linecap="butt"/>
<polygon points="163.5,183.62 164.7,184.11 165.9,184.37 167.1,186.25 168.3,185.74 169.5,187.71 170.7,183.74 171.9,189.21 173.1,187.46 174.3,190.09 175.5,190.01 176.7,188.07 177.9,190.15 179.1,190.78 180.3,188.05 181.5,189.23 182.7,192.62 183.9,193.46 185.1,193.58 186.3,195.96 187.5,196.56 188.7,197.76 189.9,193.87 191.1,198.01 192.3,197.79 193.5,198.25 194.7,195.97 195.9,198.18 197.1,199.2 198.3,199.97 199.5,197.4 200.7,200.7 201.9,198.58 203.1,201.67 204.3,201.63 205.5,202.23 206.7,202.84 207.9,202.83 209.1,200.26 210.3,204.25 211.5,202.91 212.7,207.02 213.9,206.17 215.1,207.97 216.3,209.64 217.5,210.76 218.7,211.3 219.9,211.67 221.1,209.67 222.3,211.72 223.5,203.57 224.7,212.41 225.9,209.38 227.1,213.75 228.3,212.51 229.5,213.9 230.7,214.25 231.9,216.42 233.1,216.7 234.3,217.2 235.5,216.31 236.7,217.89 237.9,218.43 239.1,219.4 240.3,211.26 241.5,220.66 242.7,218.43 243.9,220.49 245.1,218.66 246.3,221.31 247.5,219.95 248.7,223 249.9,222.6 251.1,224.31 252.3,218.85 253.5,224.35 254.7,222.86 255.9,224.13 257.1,225.96 258.3,226.71 259.5,223.52 260.7,227.08 261.9,218.67 263.1,225.77 264.3,219.49 265.5,228.58 266.7,225.97 267.9,230.71 269.1,222.29 270.3,230.22 271.5,228.14 272.7,232.43 273.9,231.27 275.1,232.89 276.3,232.49 277.5,234.49 278.7,235.2 279.9,235.5 281.1,228.91 282.3,238.18 283.5,239.1 284.7,239.69 285.9,232.04 287.1,240.41 288.3,238.83 289.5,240.78 290.7,239.2 291.9,241.65 293.1,239.38 294.3,242.83 295.5,241.7 296.7,242.59 297.9,236.17 299.1,244.05 300.3,243.11 301.5,244.16 302.7,236.27 303.9,242.37 305.1,245.6 306.3,244.95 307.5,245.75 308.7,245.72 309.9,246.08 311.1,246.65 312.3,245.19 313.5,248.6 314.7,245.97 315.9,251.08 317.1,249.11 318.3,253.18 319.5,253.26 320.7,253.59 321.9,253.52 323.1,253.38 324.3,254.19 325.5,255.06 326.7,254.24 327.9,254.78 329.1,250.99 330.3,256.49 331.5,253.82 332.7,256.77 333.9,254.49 335.1,258.11 336.3,252.44 337.5,259.9 338.7,259.53 339.9,261.59 341.1,259.55 342.3,262.2 343.5,259.91 344.7,263.31 345.9,261.31 347.1,266.07 348.3,261.87 349.5,264.55 350.7,266.33 351.9,265.43 353.1,265.36 354.3,266.33 355.5,264.69 356.7,267.11 357.9,266.72 359.1,265.07 360.3,265.27 361.5,268.16 362.7,268.02 363.9,269.14 365.1,268.75 366.3,269.52 367.5,265.33 368.7,270.76 369.9,265.61 371.1,271.98 372.3,269.83 373.5,272.98 374.7,273.94 375.9,275.31 377.1,274.59 378.3,276 379.5,270.74 380.7,276.87 381.9,276.64 383.1,277.62 384.3,277.7 385.5,277.86 386.7,274.15 387.9,278.03 389.1,278.14 390.3,277.05 391.5,278.36 392.7,279.4 393.9,279.65 395.1,279.73 396.3,279.86 397.5,279.5 398.7,277.52 399.9,278.58 401.1,279.18 402.3,279.14 403.5,277.43 404.7,280.24 405.9,281.04 407.1,282.17 408.3,280.09 409.5,282.65 409.5,292.85 408.3,296.28 407.1,292.08 405.9,294.99 404.7,290.05 403.5,291.02 402.3,289.04 401.1,293.56 399.9,289.51 398.7,291.76 397.5,289.26 396.3,290.67 395.1,289.76 393.9,289.18 392.7,289.08 391.5,291.34 390.3,289.54 389.1,289.46 387.9,288.47 386.7,288.42 385.5,287.72 384.3,296.63 383.1,288.29 381.9,288.71 380.7,287.14 379.5,288.09 378.3,287.02 377.1,286.49 375.9,285.29 374.7,284.47 373.5,283.65 372.3,283.95 371.1,281.89 369.9,281.92 368.7,281.4 367.5,283.43 366.3,280.6 365.1,282.39 363.9,279.07 362.7,280.29 361.5,277.78 360.3,277.17 359.1,277.06 357.9,278.8 356.7,277.25 355.5,278.72 354.3,278.58 353.1,276.46 351.9,275.92 350.7,276.47 349.5,276.86 348.3,277.5 347.1,275.65 345.9,275.09 344.7,274.65 343.5,274.36 342.3,271.88 341.1,271.46 339.9,271.56 338.7,271.73 337.5,271.19 336.3,268.72 335.1,267.81 333.9,271.54 332.7,267.35 331.5,268.3 330.3,266.37 329.1,269.36 327.9,266.45 326.7,267.77 325.5,265.12 324.3,264.82 323.1,265.33 321.9,263.54 320.7,265.05 319.5,263.31 318.3,262.94 317.1,262.49 315.9,261.3 314.7,262.37 313.5,258.25 312.3,260.83 311.1,257.59 309.9,256.33 308.7,255.92 307.5,257.73 306.3,257.74 305.1,264.28 303.9,256.29 302.7,256.22 301.5,254.42 300.3,254.55 299.1,253.86 297.9,256.19 296.7,253.36 295.5,254.55 294.3,252.63 293.1,253.29 291.9,252.46 290.7,251.1 289.5,250.82 288.3,250.79 287.1,250.63 285.9,254.21 284.7,249.93 283.5,250.22 282.3,248 281.1,256.51 279.9,246.5 278.7,247.43 277.5,244.52 276.3,244.06 275.1,243.38 273.9,251.68 272.7,243.24 271.5,243.95 270.3,242.15 269.1,241.65 267.9,240.38 266.7,241.24 265.5,238.61 264.3,238.02 263.1,239.19 261.9,237.26 260.7,237.38 259.5,238.37 258.3,236.29 257.1,244.93 255.9,235.63 254.7,238.4 253.5,235.54 252.3,234.79 251.1,235.03 249.9,240.06 248.7,232.52 247.5,234.65 246.3,231.29 245.1,232.37 243.9,230.42 242.7,232.9 241.5,230.14 240.3,234.87 239.1,229.61 237.9,231.7 236.7,228.7 235.5,230.96 234.3,227.15 233.1,227.78 231.9,226.54 230.7,226.11 229.5,225.59 228.3,229.23 227.1,225.04 225.9,225.69 224.7,222.92 223.5,221.86 222.3,221.56 221.1,223.69 219.9,221.29 218.7,221.88 217.5,220.99 216.3,221.41 215.1,219.67 213.9,219.84 212.7,218.17 211.5,216.38 210.3,215.31 209.1,218.11 207.9,215.54 206.7,214.08 205.5,213.64 204.3,215.97 203.1,211.27 201.9,215.28 200.7,210.64 199.5,219.4 198.3,210.08 197.1,211.04 195.9,209.48 194.7,209.42 193.5,208.83 192.3,209.54 191.1,208.85 189.9,211.75 188.7,207.51 187.5,207.18 186.3,205.66 185.1,208.51 183.9,203.16 182.7,203.43 181.5,202.22 180.3,202.45 179.1,203.26 177.9,201.35 176.7,200.14 175.5,201.18 174.3,201.04 173.1,203.2 171.9,199.81 170.7,199.75 169.5,197.54 168.3,199.73 167.1,196.59 165.9,196.42 164.7,194.9 163.5,200.31" fill="#808080"/>
<polygon points="410.6,210.18 411.8,208.53 413,197.52 414.2,201.27 415.4,194.81 416.6,195.28 417.8,190.21 419,192.52 420.2,189.31 421.4,187.18 422.6,187.4 423.8,186.29 425,178.94 426.2,182.57 427.4,181.85 428.6,180.82 429.8,171.89 431,178.5 432.2,175.98 433.4,175.03 434.6,175.9 435.8,176.9 437,167.32 438.2,175.74 439.4,174.29 440.6,174.05 441.8,173.15 443,172.3 444.2,169.85 445.4,170.71 446.6,168.04 447.8,168.9 449,163.83 450.2,172.76 451.4,164.17 452.6,172.44 453.8,170.92 455,172.38 456.2,169.55 457.4,170.67 458.6,163.82 459.8,169.29 461,163.36 462.2,169.33 463.4,167.91 464.6,170.13 465.8,168.64 467,169.9 468.2,169.98 469.4,171.1 470.6,171.89 471.8,171.67 473,171.17 474.2,171.45 475.4,166.11 476.6,170.29 477.8,167.37 479,169.7 480.2,167.04 481.4,169.56 482.6,169.66 483.8,168.94 485,165.96 486.2,169.18 487.4,164.79 488.6,169.78 489.8,165.93 491,168.76 492.2,168.97 493.4,169.9 494.6,168.3 495.8,170.88 497,171.34 498.2,171.55 499.4,167.73 500.6,167.96 501.8,166.91 503,169.73 504.2,166.98 505.4,169.7 506.6,162.09 507.8,171.46 509,167.5 510.2,170.67 511.4,165.18 512.6,168.81 513.8,168.26 515,169.15 516.2,165.44 517.4,170.33 518.6,167.47 519.8,168.88 521,168.65 522.2,168.2 523.4,161.36 524.6,168.07 525.8,164.95 527,166.83 528.2,166.24 529.4,169.85 530.6,166.97 531.8,171.59 533,171.15 534.2,171.01 535.4,168.44 535.4,180.62 534.2,180.55 533,181.88 531.8,182.43 530.6,182.54 529.4,179.97 528.2,180.7 527,178.03 525.8,182.02 524.6,177.9 523.4,177.77 522.2,177.54 521,179.75 519.8,179.31 518.6,181.34 517.4,180.03 516.2,188.71 515,180.46 513.8,180.77 512.6,179.94 511.4,180.3 510.2,180.63 509,181.28 507.8,181.75 506.6,183.9 505.4,179.74 504.2,180.08 503,178.83 501.8,180.66 500.6,179.33 499.4,180.94 498.2,180.67 497,180.65 495.8,180.41 494.6,180.28 493.4,179.38 492.2,179.65 491,181.25 489.8,180.61 488.6,179.97 487.4,179.71 486.2,179.5 485,183.77 483.8,180.14 482.6,183.79 481.4,178.89 480.2,179.29 479,178.92 477.8,183.8 476.6,179.76 475.4,182.63 474.2,181.33 473,184.71 471.8,181.76 470.6,181.5 469.4,180.56 468.2,180.77 467,180.63 465.8,180.5 464.6,180.15 463.4,185.25 462.2,178.87 461,184.21 459.8,180.7 458.6,183.74 457.4,180.24 456.2,182.77 455,181.81 453.8,190.98 452.6,181.85 451.4,184.12 450.2,181.79 449,182.26 447.8,182.53 446.6,182.53 445.4,183.79 444.2,182.43 443,183.28 441.8,189.51 440.6,184.57 439.4,184.16 438.2,185.04 437,186.77 435.8,186.61 434.6,188.65 433.4,186.71 432.2,191.03 431,188.64 429.8,190.27 428.6,190.8 427.4,193.65 426.2,193.24 425,198.92 423.8,195.96 422.6,197.3 421.4,198.9 420.2,204.91 419,203.86 417.8,204.46 416.6,206.84 415.4,215.03 414.2,211.74 413,222.56 411.8,218.49 410.6,225.02" fill="#808080"/>
<line x1="410.6" y1="287.76" x2="410.6" y2="217.51" stroke="#808080" stroke-width="1.5" stroke-linecap="butt"/>
<polygon points="163.5,171.39 164.7,171.14 165.9,170.94 167.1,172.2 168.3,171.97 169.5,172.28 170.7,169.85 171.9,172.21 173.1,169.25 174.3,174.21 175.5,172.3 176.7,175.57 177.9,174.32 179.1,175.81 180.3,177.37 181.5,177.58 182.7,178.32 183.9,178.56 185.1,172.95 186.3,177.29 187.5,176.46 188.7,176.57 189.9,177.69 191.1,180.33 192.3,180.51 193.5,179.65 194.7,180.25 195.9,182.15 197.1,181.47 198.3,184.36 199.5,182.31 200.7,184.16 201.9,179.09 203.1,183.76 204.3,184.19 205.5,185.12 206.7,185.15 207.9,186.99 209.1,186.6 210.3,189.22 211.5,187.95 212.7,190.05 213.9,186.15 215.1,190.5 216.3,191.12 217.5,191.65 218.7,192.51 219.9,192.31 221.1,190.93 222.3,195.08 223.5,196.25 224.7,197.87 225.9,193.6 227.1,200.56 228.3,200.07 229.5,202.99 230.7,204.01 231.9,204.42 233.1,203.29 234.3,205.34 235.5,204.91 236.7,205.79 237.9,205.88 239.1,206.71 240.3,201.15 241.5,207 242.7,207.68 243.9,208.58 245.1,208.06 246.3,209.78 247.5,206.4 248.7,211.98 249.9,206.5 251.1,211.76 252.3,212.74 253.5,215.1 254.7,215.5 255.9,216.87 257.1,218.11 258.3,219.63 259.5,219.59 260.7,220.65 261.9,219.94 263.1,221.65 264.3,219.81 265.5,222.58 266.7,222.68 267.9,224.92 269.1,226.16 270.3,226.02 271.5,227.04 272.7,228.14 273.9,227.94 275.1,230.56 276.3,231.01 277.5,230.78 278.7,228.25 279.9,233.16 281.1,233.13 282.3,235.16 283.5,234.12 284.7,236.89 285.9,234.36 287.1,238.75 288.3,239.59 289.5,240.79 290.7,238.25 291.9,242.8 293.1,240.23 294.3,243.11 295.5,240.95 296.7,244.78 297.9,243.92 299.1,246.65 300.3,247.52 301.5,249.42 302.7,249.54 303.9,251.51 305.1,251.07 306.3,251.05 307.5,249.7 308.7,252.02 309.9,250.29 311.1,254.12 312.3,247.87 313.5,255.41 314.7,255.37 315.9,256.5 317.1,256.27 318.3,257.3 319.5,258.46 320.7,259.37 321.9,258.89 323.1,259.04 324.3,259.46 325.5,260.17 326.7,262.08 327.9,263.67 329.1,261.43 330.3,265.24 331.5,261.93 332.7,264.76 333.9,257.5 335.1,265.67 336.3,266.3 337.5,266.91 338.7,268.02 339.9,268.99 341.1,265.94 342.3,269.88 343.5,271.78 344.7,271.53 345.9,272.66 347.1,272.11 348.3,268.57 349.5,272.61 350.7,268.76 351.9,274.19 353.1,271.71 354.3,275.65 355.5,275.04 356.7,274.59 357.9,277.18 359.1,277.74 360.3,280.7 361.5,281.24 362.7,274.6 363.9,283.2 365.1,275.48 366.3,283.62 367.5,284.36 368.7,285.3 369.9,282.05 371.1,286.53 372.3,286.84 373.5,288.44 374.7,289.59 375.9,290.87 377.1,287.31 378.3,293.07 379.5,293.51 380.7,294.69 381.9,293.89 383.1,294.66 384.3,286.21 385.5,294.41 386.7,295.82 387.9,296.37 389.1,295.01 390.3,298.46 391.5,295.35 392.7,301.6 393.9,301.8 395.1,302.38 396.3,302.31 397.5,304.63 398.7,302.73 399.9,306.09 401.1,307.63 402.3,307.41 403.5,303.43 404.7,308.35 405.9,308.06 407.1,309.37 408.3,309.88 409.5,309.68 409.5,320.93 408.3,319.64 407.1,319.12 405.9,319.59 404.7,319.39 403.5,322.95 402.3,317.01 401.1,316.69 399.9,316.44 398.7,315.79 397.5,313.78 396.3,319.54 395.1,312.17 393.9,312.44 392.7,310.91 391.5,312.27 390.3,308.91 389.1,310.99 387.9,306.09 386.7,309.54 385.5,305.13 384.3,305.11 383.1,305.17 381.9,305.77 380.7,304.22 379.5,304.17 378.3,302.78 377.1,304.64 375.9,301.75 374.7,299.53 373.5,298.7 372.3,299.55 371.1,296.27 369.9,295.36 368.7,294.69 367.5,295.54 366.3,294.2 365.1,294.33 363.9,292.48 362.7,292.24 361.5,290.77 360.3,293.22 359.1,288.78 357.9,288.81 356.7,287.09 355.5,287.36 354.3,286.34 353.1,285.85 351.9,283.4 350.7,284.22 349.5,283.91 348.3,284.96 347.1,282.02 345.9,283.01 344.7,281.68 343.5,282.79 342.3,281.41 341.1,284.69 339.9,280.19 338.7,277.53 337.5,276.64 336.3,275.89 335.1,274.92 333.9,276.11 332.7,275.18 331.5,277.2 330.3,275.53 329.1,277.92 327.9,273.49 326.7,273.73 325.5,271.42 324.3,273.64 323.1,269.9 321.9,269.97 320.7,269.95 319.5,273.63 318.3,268.1 317.1,272.73 315.9,266.04 314.7,265.43 313.5,265.1 312.3,264.65 311.1,264.68 309.9,266.62 308.7,262.66 307.5,262.16 306.3,260.83 305.1,264.38 303.9,261.48 302.7,265.64 301.5,260.53 300.3,261.71 299.1,256.29 297.9,258.39 296.7,254.26 295.5,254.48 294.3,253.65 293.1,262.01 291.9,253.02 290.7,253.43 289.5,250.52 288.3,252.79 287.1,249.83 285.9,251.09 284.7,247.54 283.5,254.36 282.3,244.6 281.1,243.64 279.9,243.04 278.7,244.84 277.5,241.25 276.3,243.73 275.1,239.83 273.9,239.42 272.7,237.83 271.5,237.16 270.3,237.79 269.1,235.84 267.9,235.4 266.7,236.25 265.5,232.11 264.3,239.92 263.1,232.36 261.9,230.35 260.7,230.26 259.5,236.37 258.3,230.88 257.1,228.8 255.9,227.72 254.7,226.8 253.5,226.24 252.3,225.08 251.1,222.79 249.9,230.81 248.7,221.75 247.5,225.9 246.3,219.85 245.1,219.96 243.9,218.21 242.7,217.32 241.5,217.38 240.3,216.95 239.1,217.01 237.9,216.95 236.7,217.8 235.5,216.32 234.3,216.27 233.1,218.36 231.9,214.49 230.7,217.77 229.5,212.87 228.3,212.89 227.1,210.55 225.9,209.05 224.7,207.02 223.5,205.87 222.3,205.24 221.1,204.34 219.9,202.23 218.7,202.65 217.5,202.37 216.3,204.93 215.1,200.25 213.9,203.35 212.7,199.52 211.5,201.29 210.3,198.79 209.1,198.3 207.9,197.02 206.7,204.46 205.5,194.41 204.3,196.4 203.1,194.24 201.9,198.29 200.7,194.73 199.5,194.83 198.3,194 197.1,194.19 195.9,192.46 194.7,194.44 193.5,192.38 192.3,191.79 191.1,190.05 189.9,191.27 188.7,187.86 187.5,187.5 186.3,187.87 185.1,188.54 183.9,188.42 182.7,189.43 181.5,187.62 180.3,195.75 179.1,186.07 177.9,186.68 176.7,185.1 175.5,190.38 174.3,183.62 173.1,189.74 171.9,183.06 170.7,184.15 169.5,181.77 168.3,185.03 167.1,181.71 165.9,181.56 164.7,181.27 163.5,182.83" fill="#000000"/>
<polygon points="410.6,234.51 411.8,235.24 413,227.73 414.2,225.76 415.4,220.53 416.6,219.76 417.8,217.15 419,214.23 420.2,211.94 421.4,209.36 422.6,202.49 423.8,203.97 425,202.47 426.2,201.15 427.4,199.81 428.6,199.25 429.8,198.49 431,197.82 432.2,196.59 433.4,195.4 434.6,189.57 435.8,192.47 437,192.04 438.2,189.51 439.4,188.37 440.6,189.13 441.8,185.66 443,188.93 444.2,187.9 445.4,187.72 446.6,188.71 447.8,188.2 449,187.75 450.2,188.39 451.4,184.17 452.6,187.13 453.8,180.73 455,187.04 456.2,186.36 457.4,187.36 458.6,186.2 459.8,185.74 461,182.97 462.2,184.32 463.4,184.88 464.6,184.09 465.8,182.93 467,182.02 468.2,183.83 469.4,183.84 470.6,184.55 471.8,183.98 473,184.86 474.2,185.78 475.4,185.28 476.6,186.36 477.8,180.99 479,185.84 480.2,183.13 481.4,183.71 482.6,181.47 483.8,184.37 485,182.64 486.2,184.71 487.4,184.98 488.6,184.94 489.8,183.17 491,184.91 492.2,184.1 493.4,184.58 494.6,183.06 495.8,183.54 497,182.8 498.2,182.34 499.4,183.6 500.6,184.69 501.8,180.05 503,187.14 504.2,186.63 505.4,188.64 506.6,179.29 507.8,185.3 509,186.29 510.2,184.07 511.4,181.5 512.6,182.42 513.8,179.04 515,182.72 516.2,181.28 517.4,183.64 518.6,183.45 519.8,184.24 521,182.07 522.2,183.32 523.4,182.66 524.6,184.27 525.8,182.25 527,185.57 528.2,185.59 529.4,186.04 530.6,182.73 531.8,184.91 533,183.45 534.2,184.73 535.4,181.93 535.4,198.22 534.2,196.02 533,204.82 531.8,197.06 530.6,200.45 529.4,198.9 528.2,202.26 527,197.47 525.8,198.86 524.6,196.98 523.4,195.85 522.2,195.88 521,196.91 519.8,195.74 518.6,200.2 517.4,195.96 516.2,196.66 515,196.69 513.8,195.2 512.6,196.01 511.4,203.09 510.2,197.09 509,199.99 507.8,198.88 506.6,202.4 505.4,200.07 504.2,200.31 503,199.3 501.8,197.99 500.6,196.91 499.4,196.05 498.2,196.37 497,196.36 495.8,195.63 494.6,195.34 493.4,195.97 492.2,196.45 491,196.4 489.8,196.42 488.6,196.59 487.4,196.35 486.2,196.74 485,204.9 483.8,195.83 482.6,196.05 481.4,196.25 480.2,196.49 479,197.54 477.8,200.66 476.6,197.87 475.4,198.53 474.2,199.61 473,196.85 471.8,197.09 470.6,196.76 469.4,195.68 468.2,200.13 467,195.95 465.8,196.39 464.6,197.33 463.4,198.73 462.2,196.95 461,199.1 459.8,197.13 458.6,198.26 457.4,199.16 456.2,199.09 455,199.74 453.8,198.64 452.6,198.69 451.4,198.99 450.2,201.41 449,201.22 447.8,201.05 446.6,202.04 445.4,200.78 444.2,201.65 443,200.18 441.8,201.39 440.6,201.52 439.4,202.29 438.2,202.3 437,205.16 435.8,205 434.6,208.9 433.4,207.28 432.2,216.13 431,209.55 429.8,211.18 428.6,210.46 427.4,215.12 426.2,212.9 425,215.61 423.8,216.08 422.6,218.27 421.4,220.64 420.2,226.48 419,226.63 417.8,229.53 416.6,231.7 415.4,235.12 414.2,237.92 413,245.17 411.8,247.4 410.6,252.33" fill="#000000"/>
<line x1="410.6" y1="315.59" x2="410.6" y2="246.61" stroke="#000000" stroke-width="1.5" stroke-linecap="butt"/>
<polyline points="164.5,178 165.6,160 166.6,176 168.5,178 169.3,163 170.2,177" fill="none" stroke="#000" stroke-width="1.6" stroke-linejoin="miter"/>
<line x1="163.4" y1="75.2" x2="163.4" y2="389.2" stroke="#000" stroke-width="3" stroke-linecap="butt"/>
<line x1="150" y1="387.7" x2="536" y2="387.7" stroke="#000" stroke-width="3" stroke-linecap="butt"/>
<line x1="150" y1="76.7" x2="163.4" y2="76.7" stroke="#000" stroke-width="3" stroke-linecap="butt"/>
<line x1="150" y1="180.3" x2="163.4" y2="180.3" stroke="#000" stroke-width="3" stroke-linecap="butt"/>
<line x1="150" y1="284.1" x2="163.4" y2="284.1" stroke="#000" stroke-width="3" stroke-linecap="butt"/>
<line x1="150" y1="387.7" x2="163.4" y2="387.7" stroke="#000" stroke-width="3" stroke-linecap="butt"/>
<line x1="163.2" y1="387.7" x2="163.2" y2="399.7" stroke="#000" stroke-width="3" stroke-linecap="butt"/>
<line x1="287" y1="387.7" x2="287" y2="399.7" stroke="#000" stroke-width="3" stroke-linecap="butt"/>
<line x1="411" y1="387.7" x2="411" y2="399.7" stroke="#000" stroke-width="3" stroke-linecap="butt"/>
<line x1="534.7" y1="387.7" x2="534.7" y2="399.7" stroke="#000" stroke-width="3" stroke-linecap="butt"/>
<text x="64.96" y="81.82" style="font-family:'Liberation Sans', Arial, sans-serif;font-weight:bold;font-size:18.36px" fill="#000" textLength="71.03" lengthAdjust="spacingAndGlyphs">10.5 X 10</text>
<text x="135.59" y="77.06" style="font-family:'Liberation Sans', Arial, sans-serif;font-weight:bold;font-size:14.76px" fill="#000" textLength="7.38" lengthAdjust="spacingAndGlyphs">5</text>
<text x="75.97" y="189.82" style="font-family:'Liberation Sans', Arial, sans-serif;font-weight:bold;font-size:18.36px" fill="#000" textLength="56.3" lengthAdjust="spacingAndGlyphs">10 X 10</text>
<text x="132.59" y="183.96" style="font-family:'Liberation Sans', Arial, sans-serif;font-weight:bold;font-size:14.33px" fill="#000" textLength="7.49" lengthAdjust="spacingAndGlyphs">5</text>
<text x="66.73" y="286.83" style="font-family:'Liberation Sans', Arial, sans-serif;font-weight:bold;font-size:17.8px" fill="#000" textLength="61.65" lengthAdjust="spacingAndGlyphs">9.5 X 10</text>
<text x="128.2" y="280.97" style="font-family:'Liberation Sans', Arial, sans-serif;font-weight:bold;font-size:13.19px" fill="#000" textLength="7.27" lengthAdjust="spacingAndGlyphs">5</text>
<text x="85.34" y="395.02" style="font-family:'Liberation Sans', Arial, sans-serif;font-weight:bold;font-size:18.64px" fill="#000" textLength="46.93" lengthAdjust="spacingAndGlyphs">9 X 10</text>
<text x="132.59" y="389.56" style="font-family:'Liberation Sans', Arial, sans-serif;font-weight:bold;font-size:14.05px" fill="#000" textLength="7.49" lengthAdjust="spacingAndGlyphs">5</text>
<text x="158.63" y="419.44" style="font-family:'Liberation Sans', Arial, sans-serif;font-weight:bold;font-size:16.67px" fill="#000" textLength="9.47" lengthAdjust="spacingAndGlyphs">0</text>
<text x="273.31" y="419.44" style="font-family:'Liberation Sans', Arial, sans-serif;font-weight:bold;font-size:16.67px" fill="#000" textLength="28.49" lengthAdjust="spacingAndGlyphs">200</text>
<text x="397.55" y="419.44" style="font-family:'Liberation Sans', Arial, sans-serif;font-weight:bold;font-size:16.67px" fill="#000" textLength="27.63" lengthAdjust="spacingAndGlyphs">400</text>
<text x="520.37" y="419.44" style="font-family:'Liberation Sans', Arial, sans-serif;font-weight:bold;font-size:16.67px" fill="#000" textLength="28.53" lengthAdjust="spacingAndGlyphs">600</text>
<text x="309.67" y="437.39" style="font-family:Carlito, Calibri, 'Liberation Sans', sans-serif;font-weight:normal;font-size:22.41px" fill="#000" textLength="90.37" lengthAdjust="spacingAndGlyphs">Time (s)</text>
<text transform="translate(53.18 436.82) rotate(-90)" style="font-family:Carlito, Calibri, 'Liberation Sans', sans-serif;font-weight:normal;font-size:29.78px" fill="#000" textLength="382.08" lengthAdjust="spacingAndGlyphs">MagGreen fluorescence (f.a.u)</text>
<text x="549.59" y="32" style="font-family:'Liberation Sans', Arial, sans-serif;font-weight:bold;font-size:40.26px" fill="#000" textLength="31.38" lengthAdjust="spacingAndGlyphs">B</text>
<polyline points="740.3,385 740.3,129.5 775.6,129.5 775.6,385" fill="none" stroke="#000" stroke-width="4.2" stroke-linejoin="miter"/>
<polyline points="799.2,385 799.2,227.9 834.6,227.9 834.6,385" fill="none" stroke="#ff0000" stroke-width="4.2" stroke-linejoin="miter"/>
<polyline points="858.3,385 858.3,112.1 893.8,112.1 893.8,385" fill="none" stroke="#0000ff" stroke-width="4.2" stroke-linejoin="miter"/>
<line x1="758" y1="127.5" x2="758" y2="109.7" stroke="#000" stroke-width="2" stroke-linecap="butt"/>
<line x1="748" y1="109.7" x2="767.7" y2="109.7" stroke="#000" stroke-width="2" stroke-linecap="butt"/>
<line x1="816.7" y1="226" x2="816.7" y2="214.9" stroke="#ff0000" stroke-width="2" stroke-linecap="butt"/>
<line x1="806.9" y1="214.9" x2="826.8" y2="214.9" stroke="#ff0000" stroke-width="2" stroke-linecap="butt"/>
<line x1="866" y1="109.6" x2="885.2" y2="109.6" stroke="#0000ff" stroke-width="2" stroke-linecap="butt"/>
<line x1="718.6" y1="20.5" x2="718.6" y2="386.9" stroke="#000" stroke-width="4" stroke-linecap="butt"/>
<line x1="701" y1="384.9" x2="917.8" y2="384.9" stroke="#000" stroke-width="4" stroke-linecap="butt"/>
<line x1="701" y1="22.7" x2="718.6" y2="22.7" stroke="#000" stroke-width="3.5" stroke-linecap="butt"/>
<line x1="701" y1="113.6" x2="718.6" y2="113.6" stroke="#000" stroke-width="3.5" stroke-linecap="butt"/>
<line x1="701" y1="203.9" x2="718.6" y2="203.9" stroke="#000" stroke-width="3.5" stroke-linecap="butt"/>
<line x1="701" y1="294.8" x2="718.6" y2="294.8" stroke="#000" stroke-width="3.5" stroke-linecap="butt"/>
<text x="629.04" y="27.92" style="font-family:'Liberation Sans', Arial, sans-serif;font-weight:bold;font-size:18.36px" fill="#000" textLength="66.64" lengthAdjust="spacingAndGlyphs">80000</text>
<text x="628.92" y="119.92" style="font-family:'Liberation Sans', Arial, sans-serif;font-weight:bold;font-size:18.36px" fill="#000" textLength="66.76" lengthAdjust="spacingAndGlyphs">60000</text>
<text x="629.44" y="209.02" style="font-family:'Liberation Sans', Arial, sans-serif;font-weight:bold;font-size:18.36px" fill="#000" textLength="66.24" lengthAdjust="spacingAndGlyphs">40000</text>
<text x="628.97" y="299.92" style="font-family:'Liberation Sans', Arial, sans-serif;font-weight:bold;font-size:18.36px" fill="#000" textLength="66.72" lengthAdjust="spacingAndGlyphs">20000</text>
<text x="681.81" y="390.02" style="font-family:'Liberation Sans', Arial, sans-serif;font-weight:bold;font-size:18.36px" fill="#000" textLength="13.92" lengthAdjust="spacingAndGlyphs">0</text>
<text transform="translate(616.41 389.82) rotate(-90)" style="font-family:Carlito, Calibri, 'Liberation Sans', sans-serif;font-weight:normal;font-size:33.71px" fill="#000" textLength="360.76" lengthAdjust="spacingAndGlyphs">Δ MagGreen fluorescence</text>
<text transform="translate(768.19 366.96) rotate(-90)" style="font-family:'Liberation Sans', Arial, sans-serif;font-weight:normal;font-size:31.32px" fill="#000" textLength="79.64" lengthAdjust="spacingAndGlyphs">Naive</text>
<text transform="translate(826.3 362.14) rotate(-90)" style="font-family:'Liberation Sans', Arial, sans-serif;font-weight:normal;font-size:32.12px" fill="#ff0000" textLength="46.48" lengthAdjust="spacingAndGlyphs">M1</text>
<text transform="translate(889.5 358.33) rotate(-90)" style="font-family:'Liberation Sans', Arial, sans-serif;font-weight:normal;font-size:32.37px" fill="#0000cc" textLength="47.86" lengthAdjust="spacingAndGlyphs">M2</text>
<line x1="756.7" y1="52.8" x2="874.5" y2="52.8" stroke="#000" stroke-width="2.6" stroke-linecap="butt"/>
<line x1="758.4" y1="51.5" x2="758.4" y2="59.5" stroke="#000" stroke-width="3.4" stroke-linecap="butt"/>
<line x1="872.8" y1="51.5" x2="872.8" y2="59.5" stroke="#000" stroke-width="3.4" stroke-linecap="butt"/>
<line x1="814.7" y1="77" x2="875.7" y2="77" stroke="#000" stroke-width="2.6" stroke-linecap="butt"/>
<line x1="816.4" y1="75.7" x2="816.4" y2="80.8" stroke="#000" stroke-width="3.4" stroke-linecap="butt"/>
<line x1="874" y1="75.7" x2="874" y2="80.8" stroke="#000" stroke-width="3.4" stroke-linecap="butt"/>
<line x1="756.9" y1="97.9" x2="817.9" y2="97.9" stroke="#000" stroke-width="2.6" stroke-linecap="butt"/>
<line x1="758.6" y1="96.6" x2="758.6" y2="102.1" stroke="#000" stroke-width="3.4" stroke-linecap="butt"/>
<line x1="816.2" y1="96.6" x2="816.2" y2="102.1" stroke="#000" stroke-width="3.4" stroke-linecap="butt"/>
<text x="792.9" y="48.26" style="font-family:'Liberation Sans', Arial, sans-serif;font-weight:normal;font-size:25.01px" fill="#222" textLength="46.11" lengthAdjust="spacingAndGlyphs">n.s.</text>
<text x="824.24" y="79.98" style="font-family:'Liberation Sans', Arial, sans-serif;font-weight:normal;font-size:22.5px" fill="#333" textLength="8.76" lengthAdjust="spacingAndGlyphs">*</text>
<text x="835.76" y="79.98" style="font-family:'Liberation Sans', Arial, sans-serif;font-weight:normal;font-size:22.5px" fill="#333" textLength="8.76" lengthAdjust="spacingAndGlyphs">*</text>
<text x="847.28" y="79.98" style="font-family:'Liberation Sans', Arial, sans-serif;font-weight:normal;font-size:22.5px" fill="#333" textLength="8.76" lengthAdjust="spacingAndGlyphs">*</text>
<text x="858.79" y="79.98" style="font-family:'Liberation Sans', Arial, sans-serif;font-weight:normal;font-size:22.5px" fill="#333" textLength="8.76" lengthAdjust="spacingAndGlyphs">*</text>
<text x="765.06" y="100.9" style="font-family:'Liberation Sans', Arial, sans-serif;font-weight:normal;font-size:21.36px" fill="#333" textLength="8.31" lengthAdjust="spacingAndGlyphs">*</text>
<text x="776.81" y="100.9" style="font-family:'Liberation Sans', Arial, sans-serif;font-weight:normal;font-size:21.36px" fill="#333" textLength="8.31" lengthAdjust="spacingAndGlyphs">*</text>
<text x="788.57" y="100.9" style="font-family:'Liberation Sans', Arial, sans-serif;font-weight:normal;font-size:21.36px" fill="#333" textLength="8.31" lengthAdjust="spacingAndGlyphs">*</text>
<text x="800.32" y="100.9" style="font-family:'Liberation Sans', Arial, sans-serif;font-weight:normal;font-size:21.36px" fill="#333" textLength="8.31" lengthAdjust="spacingAndGlyphs">*</text>
<text x="959" y="32.26" style="font-family:'Liberation Sans', Arial, sans-serif;font-weight:bold;font-size:44.77px" fill="#000" textLength="29.93" lengthAdjust="spacingAndGlyphs">C</text>
<text x="1143.13" y="76.54" style="font-family:Carlito, Calibri, 'Liberation Sans', sans-serif;font-weight:normal;font-size:46.91px" fill="#046604" textLength="205.18" lengthAdjust="spacingAndGlyphs">20 mM Mg</text>
<text x="1349.27" y="62.4" style="font-family:Carlito, Calibri, 'Liberation Sans', sans-serif;font-weight:normal;font-size:30.36px" fill="#046604" textLength="29.72" lengthAdjust="spacingAndGlyphs">2+</text>
<text x="1359.78" y="92.73" style="font-family:'Liberation Sans', Arial, sans-serif;font-weight:normal;font-size:17.37px" fill="#222" textLength="63.76" lengthAdjust="spacingAndGlyphs">FCCP</text>
<line x1="1393.6" y1="101.2" x2="1393.6" y2="116" stroke="#000" stroke-width="1.6" stroke-linecap="butt"/>
<polygon points="1386.2,115.4 1400.8,115.4 1393.6,130.4" fill="#000"/>
<polygon points="1150.5,181.35 1151.6,180.17 1152.7,181.38 1153.8,182.07 1154.9,180 1156,179.53 1157.1,175.57 1158.2,178.06 1159.3,169.56 1160.4,175.29 1161.5,176.53 1162.6,180.02 1163.7,172.4 1164.8,181.58 1165.9,179.21 1167,181.5 1168.1,170.48 1169.2,179.84 1170.3,176.26 1171.4,180.21 1172.5,178.55 1173.6,177.65 1174.7,175.61 1175.8,182.31 1176.9,170.02 1178,181.52 1179.1,179.29 1180.2,180.69 1181.3,180.2 1182.4,179.05 1183.5,182.66 1184.6,182.75 1185.7,170.13 1186.8,180.95 1187.9,183.6 1189,183.6 1190.1,176.07 1191.2,182.66 1192.3,178.41 1193.4,183.61 1194.5,181.27 1195.6,184.78 1196.7,185.66 1197.8,185.63 1198.9,186.01 1200,181.94 1201.1,183.05 1202.2,185.25 1203.3,185.04 1204.4,186.54 1205.5,187.15 1206.6,187.73 1207.7,173.74 1208.8,189.65 1209.9,179.59 1211,190.19 1212.1,188.21 1213.2,190.22 1214.3,187.52 1215.4,189.44 1216.5,191.58 1217.6,193.05 1218.7,194.5 1219.8,194.8 1220.9,197.3 1222,197.25 1223.1,187.51 1224.2,196.32 1225.3,197.83 1226.4,198.31 1227.5,195.74 1228.6,200.84 1229.7,203.88 1230.8,206.46 1231.9,208.17 1233,209.46 1234.1,206.17 1235.2,208.38 1236.3,204.29 1237.4,207.7 1238.5,197.85 1239.6,210.45 1240.7,209.39 1241.8,210.74 1242.9,210.34 1244,212.7 1245.1,212.63 1246.2,212.17 1247.3,209.17 1248.4,215.09 1249.5,213.29 1250.6,216.29 1251.7,214.49 1252.8,217.39 1253.9,217.58 1255,220.21 1256.1,219.4 1257.2,221.13 1258.3,219.44 1259.4,223.78 1260.5,221.8 1261.6,223 1262.7,210.99 1263.8,226.65 1264.9,224.49 1266,227.9 1267.1,226.43 1268.2,224.08 1269.3,228.31 1270.4,229.53 1271.5,227.38 1272.6,235.42 1273.7,237.08 1274.8,238.35 1275.9,227.47 1277,240.13 1278.1,242.56 1279.2,244.13 1280.3,246.21 1281.4,249.05 1282.5,250.74 1283.6,253.86 1284.7,253.85 1285.8,254.78 1286.9,254.26 1288,257.11 1289.1,252.8 1290.2,255.39 1291.3,256.45 1292.4,257.38 1293.5,254.83 1294.6,258.74 1295.7,253.27 1296.8,260.48 1297.9,262.69 1299,263.47 1300.1,263.59 1301.2,265.62 1302.3,251.61 1303.4,265.94 1304.5,268.52 1305.6,268.49 1306.7,264.52 1307.8,269.75 1308.9,267.29 1310,269.61 1311.1,273.53 1312.2,274.83 1313.3,271.44 1314.4,275.65 1315.5,274.19 1316.6,278.53 1317.7,276.99 1318.8,280.6 1319.9,280.22 1321,280.81 1322.1,281.46 1323.2,284.23 1324.3,283.53 1325.4,282.94 1326.5,285.02 1327.6,287.99 1328.7,278.44 1329.8,290.15 1330.9,290.31 1332,291.01 1333.1,277.27 1334.2,289.62 1335.3,284.87 1336.4,290.1 1337.5,291.64 1338.6,293.37 1339.7,289.9 1340.8,295.47 1341.9,295.77 1343,296.77 1344.1,293.77 1345.2,296.15 1346.3,293.77 1347.4,297.67 1348.5,299.51 1349.6,301.15 1350.7,286.75 1351.8,303.32 1352.9,302.86 1354,304.03 1355.1,297.27 1356.2,305.46 1357.3,298.74 1358.4,305.56 1359.5,303.97 1360.6,305.34 1361.7,305.35 1362.8,308.81 1363.9,308.44 1365,310.36 1366.1,310.04 1367.2,310.93 1368.3,310.02 1369.4,312.52 1370.5,303.55 1371.6,313.84 1372.7,310.5 1373.8,314.96 1374.9,312.91 1376,313.15 1377.1,307.85 1378.2,314.33 1379.3,314.71 1380.4,316.49 1381.5,313.5 1382.6,318.25 1383.7,319.91 1384.8,320.2 1385.9,312.76 1387,319.96 1388.1,319.73 1389.2,318.05 1390.3,319.68 1391.4,323.58 1392.5,321.75 1393.6,325.65 1394.7,326.08 1395.8,324.59 1396.9,327.12 1396.9,349.02 1395.8,346.28 1394.7,347.04 1393.6,343.26 1392.5,345.06 1391.4,342.01 1390.3,343.93 1389.2,339.59 1388.1,343.59 1387,339.4 1385.9,337.96 1384.8,338.99 1383.7,336.99 1382.6,337.02 1381.5,344.55 1380.4,334.18 1379.3,335.16 1378.2,331.76 1377.1,331.9 1376,334.71 1374.9,339.44 1373.8,333.5 1372.7,337.44 1371.6,336.64 1370.5,332.11 1369.4,330.88 1368.3,329.56 1367.2,328.72 1366.1,341.06 1365,328.58 1363.9,340.43 1362.8,326.68 1361.7,329.1 1360.6,325.45 1359.5,333.89 1358.4,322.76 1357.3,334.97 1356.2,323.12 1355.1,326.05 1354,323 1352.9,323.04 1351.8,321.43 1350.7,326.33 1349.6,318.99 1348.5,318.38 1347.4,316.43 1346.3,325.58 1345.2,316.67 1344.1,330.57 1343,315.09 1341.9,320.87 1340.8,314.06 1339.7,314.35 1338.6,310.77 1337.5,309.45 1336.4,308.23 1335.3,321.65 1334.2,308.17 1333.1,308.49 1332,310.48 1330.9,315.61 1329.8,307.94 1328.7,307.35 1327.6,305.61 1326.5,309.63 1325.4,305.21 1324.3,312.73 1323.2,303.3 1322.1,309.13 1321,300.79 1319.9,311.35 1318.8,298.75 1317.7,306.81 1316.6,296.15 1315.5,301.24 1314.4,296.19 1313.3,294.6 1312.2,292.01 1311.1,292.84 1310,289.73 1308.9,295.18 1307.8,288.06 1306.7,291.04 1305.6,287.57 1304.5,289.46 1303.4,286.31 1302.3,286.87 1301.2,284.85 1300.1,287.17 1299,282.22 1297.9,289.91 1296.8,280.02 1295.7,284.6 1294.6,276.49 1293.5,291.07 1292.4,275.3 1291.3,275.18 1290.2,275.91 1289.1,274.79 1288,275 1286.9,282.16 1285.8,275.16 1284.7,276.64 1283.6,272.43 1282.5,271.35 1281.4,268.53 1280.3,267.15 1279.2,262.61 1278.1,265.74 1277,259.31 1275.9,258.45 1274.8,258.74 1273.7,258.19 1272.6,254.25 1271.5,266.11 1270.4,251.09 1269.3,249.74 1268.2,246.49 1267.1,248.7 1266,246.46 1264.9,250.66 1263.8,246.2 1262.7,252.05 1261.6,243.62 1260.5,248.09 1259.4,244.3 1258.3,241.54 1257.2,241.77 1256.1,244.43 1255,238.52 1253.9,237.21 1252.8,235.48 1251.7,250.21 1250.6,235 1249.5,241.13 1248.4,233.17 1247.3,245.89 1246.2,232.39 1245.1,238.81 1244,231.53 1242.9,235.94 1241.8,229.96 1240.7,236.91 1239.6,228.89 1238.5,227.67 1237.4,226.5 1236.3,234.11 1235.2,226.91 1234.1,238.55 1233,227.13 1231.9,234.02 1230.8,225.12 1229.7,234.14 1228.6,224.21 1227.5,233.22 1226.4,216.7 1225.3,216.59 1224.2,215.19 1223.1,223.06 1222,216.6 1220.9,220.92 1219.8,215.27 1218.7,215.23 1217.6,211.44 1216.5,210.41 1215.4,210.69 1214.3,213.76 1213.2,209.11 1212.1,214.61 1211,207.52 1209.9,213.49 1208.8,207.72 1207.7,208.76 1206.6,207.99 1205.5,214.58 1204.4,204.1 1203.3,204.96 1202.2,203.42 1201.1,204.91 1200,205.18 1198.9,211.44 1197.8,203.81 1196.7,206.38 1195.6,202.64 1194.5,203.63 1193.4,201.46 1192.3,212.84 1191.2,200.69 1190.1,202.85 1189,202 1187.9,203.71 1186.8,201.54 1185.7,201.97 1184.6,201.03 1183.5,201.51 1182.4,201.38 1181.3,207.53 1180.2,199.02 1179.1,200.23 1178,200.14 1176.9,199.78 1175.8,200.32 1174.7,202.59 1173.6,199.16 1172.5,210.61 1171.4,197.55 1170.3,202.45 1169.2,197.93 1168.1,198.52 1167,199.4 1165.9,200.58 1164.8,201.33 1163.7,201.15 1162.6,197.15 1161.5,197.34 1160.4,196.23 1159.3,197.57 1158.2,195.57 1157.1,209.7 1156,198.93 1154.9,200.93 1153.8,201.63 1152.7,199.24 1151.6,200.73 1150.5,199.93" fill="#0000ff"/>
<polygon points="1398,272.25 1399.1,272.82 1400.2,271.8 1401.3,270.09 1402.4,260.62 1403.5,268.78 1404.6,260.7 1405.7,267.82 1406.8,266.3 1407.9,266.91 1409,265.31 1410.1,267.05 1411.2,266.2 1412.3,267.01 1413.4,265.93 1414.5,263.25 1415.6,262.08 1416.7,266.88 1417.8,261.17 1418.9,265.77 1420,261.55 1421.1,265.53 1422.2,264.92 1423.3,265.65 1424.4,255.05 1425.5,264.72 1426.6,256.83 1427.7,265.79 1428.8,264.22 1429.9,265.79 1431,259.51 1432.1,266.73 1433.2,257 1434.3,266.65 1435.4,255.82 1436.5,266.23 1437.6,267.56 1438.7,268.47 1439.8,265.39 1440.9,267.4 1442,269.55 1443.1,269.71 1444.2,261.31 1445.3,267.61 1446.4,265.46 1447.5,265.61 1448.6,266.14 1449.7,265.73 1450.8,267.69 1451.9,269.46 1453,260.72 1454.1,269.69 1455.2,270.8 1456.3,270.23 1457.4,261.57 1458.5,268.22 1459.6,267.16 1460.7,269.96 1461.8,268.67 1462.9,268.26 1464,262.54 1465.1,272.23 1466.2,273.52 1467.3,274.07 1468.4,266 1469.5,274.51 1470.6,273.14 1471.7,276.12 1472.8,275.9 1473.9,273.79 1475,275.74 1476.1,275.68 1477.2,270.22 1478.3,273.24 1479.4,269.21 1480.5,273.49 1481.6,270.31 1482.7,274.15 1483.8,268.09 1484.9,275.16 1486,271.73 1487.1,273.83 1488.2,260.15 1489.3,274.52 1490.4,273.78 1491.5,271.87 1492.6,275.53 1493.7,275.32 1494.8,270.15 1495.9,270.52 1497,261.74 1498.1,271.08 1499.2,271.02 1500.3,274.34 1501.4,270.01 1502.5,272.9 1503.6,274.51 1504.7,275.1 1505.8,265.78 1506.9,273.93 1508,268.76 1509.1,273.78 1510.2,272.85 1511.3,274.09 1512.4,273.12 1513.5,276.27 1514.6,276.75 1515.7,276.85 1516.8,272.15 1517.9,277.43 1519,277.4 1520.1,275.95 1521.2,275.27 1522.3,278.03 1523.4,271.74 1524.5,277.09 1525.6,273.55 1526.7,275.39 1527.8,271.53 1528.9,275.12 1530,269.3 1531.1,277.13 1532.2,272.02 1533.3,276.68 1534.4,264.15 1535.5,276.28 1536.6,278.51 1537.7,277.83 1538.8,277.46 1539.9,277.83 1541,274.86 1542.1,275.11 1543.2,274.97 1544.3,272.48 1545.4,273.14 1546.5,273.75 1547.6,275.05 1548.7,274.28 1549.8,273.72 1550.9,275.24 1552,275 1553.1,272.54 1554.2,264 1555.3,275.65 1556.4,275.07 1557.5,276.46 1558.6,274.53 1559.7,275.65 1560.8,274.02 1561.9,275.28 1563,269.72 1564.1,273.87 1565.2,273.2 1566.3,272.88 1567.4,271.38 1568.5,274.51 1569.6,273.99 1570.7,274.28 1571.8,273.81 1572.9,274.32 1574,269.57 1575.1,274.82 1576.2,272.54 1577.3,278.03 1578.4,275.5 1579.5,275.15 1580.6,265.96 1581.7,275.77 1582.8,270.38 1583.9,275.85 1585,276.02 1586.1,274.12 1587.2,275.86 1588.3,276.65 1589.4,269.14 1589.4,296.51 1588.3,294.39 1587.2,297.39 1586.1,296.88 1585,296.5 1583.9,293.65 1582.8,300.25 1581.7,293.58 1580.6,296.18 1579.5,294.55 1578.4,302.4 1577.3,296.31 1576.2,297.28 1575.1,294.34 1574,293.37 1572.9,292.98 1571.8,297.49 1570.7,294.69 1569.6,294.36 1568.5,292.24 1567.4,297.83 1566.3,290.92 1565.2,291.72 1564.1,291.49 1563,294.55 1561.9,294.48 1560.8,299.51 1559.7,293.71 1558.6,295.75 1557.5,293.81 1556.4,294.06 1555.3,294.37 1554.2,294.79 1553.1,293.92 1552,297.3 1550.9,293.64 1549.8,294.07 1548.7,292.91 1547.6,293.18 1546.5,292.62 1545.4,295.02 1544.3,292.18 1543.2,295.03 1542.1,293.99 1541,304.8 1539.9,295.35 1538.8,299.51 1537.7,298.86 1536.6,296.08 1535.5,297.87 1534.4,307.2 1533.3,296.92 1532.2,296.32 1531.1,294.86 1530,294.65 1528.9,294.44 1527.8,297.56 1526.7,293.34 1525.6,296.57 1524.5,296.35 1523.4,305.23 1522.3,297.14 1521.2,302.53 1520.1,295.91 1519,295.66 1517.9,294.89 1516.8,298.03 1515.7,294.51 1514.6,294.8 1513.5,293.72 1512.4,298.4 1511.3,297.95 1510.2,292.7 1509.1,292.05 1508,292.63 1506.9,294.86 1505.8,292.95 1504.7,293.32 1503.6,297.11 1502.5,295.15 1501.4,294.32 1500.3,291.84 1499.2,291.96 1498.1,291.62 1497,307.37 1495.9,292.08 1494.8,302.48 1493.7,293.78 1492.6,295.94 1491.5,293.68 1490.4,294.28 1489.3,293.57 1488.2,295.96 1487.1,293.12 1486,300.5 1484.9,293.88 1483.8,302.13 1482.7,293.28 1481.6,293.7 1480.5,290.52 1479.4,296.34 1478.3,291 1477.2,295.82 1476.1,294.35 1475,300.91 1473.9,296.35 1472.8,295.62 1471.7,293.52 1470.6,295.4 1469.5,292.17 1468.4,294.91 1467.3,293.03 1466.2,294.95 1465.1,291.65 1464,300.97 1462.9,288.39 1461.8,300.56 1460.7,287.2 1459.6,290.77 1458.5,288.49 1457.4,298.56 1456.3,288.13 1455.2,294.41 1454.1,287.94 1453,300.91 1451.9,287.23 1450.8,287.63 1449.7,286.16 1448.6,288.16 1447.5,287.07 1446.4,284.79 1445.3,286.95 1444.2,292.79 1443.1,287.21 1442,297.71 1440.9,287.51 1439.8,289.11 1438.7,287.26 1437.6,291.82 1436.5,286.03 1435.4,295.43 1434.3,284.62 1433.2,284.1 1432.1,284.02 1431,293.02 1429.9,283.72 1428.8,283.89 1427.7,285.56 1426.6,287.08 1425.5,286.47 1424.4,284.83 1423.3,283.65 1422.2,283.64 1421.1,284.14 1420,283.88 1418.9,284.79 1417.8,284.34 1416.7,284.78 1415.6,284.54 1414.5,285.99 1413.4,284.2 1412.3,285.15 1411.2,287.31 1410.1,285.61 1409,287.77 1407.9,287.7 1406.8,289.95 1405.7,286.62 1404.6,289.86 1403.5,287.74 1402.4,286.71 1401.3,288.02 1400.2,295.68 1399.1,290.67 1398,297.99" fill="#0000ff"/>
<line x1="1397.5" y1="340" x2="1397.5" y2="275" stroke="#0000ff" stroke-width="1.6" stroke-linecap="butt"/>
<polygon points="1150.5,192.15 1151.6,196.81 1152.7,193.86 1153.8,196.46 1154.9,195.28 1156,195.54 1157.1,185.73 1158.2,196.99 1159.3,196.19 1160.4,198.85 1161.5,198.76 1162.6,199.16 1163.7,198.93 1164.8,200.57 1165.9,198.38 1167,200.18 1168.1,200.78 1169.2,199.26 1170.3,193.99 1171.4,200.33 1172.5,197.11 1173.6,202.14 1174.7,197.81 1175.8,199 1176.9,198.62 1178,202.8 1179.1,200.43 1180.2,203.23 1181.3,191.66 1182.4,204 1183.5,198.66 1184.6,204.24 1185.7,200.37 1186.8,202.81 1187.9,206.05 1189,206.66 1190.1,207.46 1191.2,210.35 1192.3,208.29 1193.4,210.32 1194.5,211.18 1195.6,208.09 1196.7,202.38 1197.8,210.24 1198.9,206.66 1200,207.29 1201.1,207.98 1202.2,209.07 1203.3,208.76 1204.4,210.52 1205.5,211.62 1206.6,211 1207.7,209.4 1208.8,213.61 1209.9,212.65 1211,214.15 1212.1,212.96 1213.2,217.54 1214.3,218.07 1215.4,216.05 1216.5,216.24 1217.6,219.35 1218.7,216.78 1219.8,219.67 1220.9,216.94 1222,222.4 1223.1,221.66 1224.2,223.18 1225.3,209.19 1226.4,223.5 1227.5,223.82 1228.6,224.65 1229.7,209.41 1230.8,224.82 1231.9,210.78 1233,226.7 1234.1,215.36 1235.2,227.18 1236.3,226.52 1237.4,228.28 1238.5,227.9 1239.6,230.77 1240.7,225.92 1241.8,232.47 1242.9,219.13 1244,233.62 1245.1,232.65 1246.2,232.73 1247.3,230.99 1248.4,233.7 1249.5,235.1 1250.6,235.75 1251.7,236.05 1252.8,239.79 1253.9,235.12 1255,242.03 1256.1,242.01 1257.2,241.48 1258.3,240.59 1259.4,244.43 1260.5,243.33 1261.6,242.2 1262.7,245.91 1263.8,246.44 1264.9,247.32 1266,249.19 1267.1,247.44 1268.2,249.05 1269.3,249.23 1270.4,254.92 1271.5,252.32 1272.6,257.01 1273.7,245.8 1274.8,259.14 1275.9,256.1 1277,255.52 1278.1,247.94 1279.2,254.91 1280.3,259.68 1281.4,261.02 1282.5,261.45 1283.6,262.02 1284.7,253.36 1285.8,260.38 1286.9,259.36 1288,266.8 1289.1,269.27 1290.2,271.22 1291.3,267.36 1292.4,270.57 1293.5,271.07 1294.6,272.86 1295.7,271.29 1296.8,272.23 1297.9,273.88 1299,274.73 1300.1,271.39 1301.2,277.69 1302.3,278.26 1303.4,279.21 1304.5,278.4 1305.6,279.41 1306.7,280.91 1307.8,281.41 1308.9,279.43 1310,286.01 1311.1,284.2 1312.2,286.08 1313.3,270.55 1314.4,286.45 1315.5,286.11 1316.6,287 1317.7,285.68 1318.8,291.74 1319.9,291.49 1321,293.86 1322.1,289.08 1323.2,293.31 1324.3,291.19 1325.4,294.48 1326.5,293.27 1327.6,296.39 1328.7,283.27 1329.8,295.84 1330.9,294.4 1332,298.79 1333.1,296.9 1334.2,299.64 1335.3,295.82 1336.4,301.3 1337.5,300.86 1338.6,303.52 1339.7,303.47 1340.8,306.7 1341.9,297.66 1343,307.49 1344.1,303.17 1345.2,307.74 1346.3,303.35 1347.4,307.45 1348.5,304.52 1349.6,306.28 1350.7,306.19 1351.8,307.04 1352.9,303.47 1354,309.65 1355.1,296.92 1356.2,311.67 1357.3,311.23 1358.4,307.01 1359.5,309.62 1360.6,312.92 1361.7,310.04 1362.8,316.36 1363.9,313.79 1365,315.9 1366.1,316.38 1367.2,317.77 1368.3,316.04 1369.4,318.79 1370.5,310.69 1371.6,317.66 1372.7,314.14 1373.8,317.9 1374.9,319.75 1376,322.38 1377.1,320.95 1378.2,321.5 1379.3,321.8 1380.4,324.45 1381.5,321.11 1382.6,327.36 1383.7,328.81 1384.8,329.75 1385.9,329.79 1387,327.51 1388.1,323.16 1389.2,329.31 1390.3,330.05 1391.4,329.94 1392.5,329.47 1393.6,328.58 1394.7,325.44 1395.8,331.16 1396.9,329.41 1396.9,352.76 1395.8,348.84 1394.7,355.16 1393.6,346.74 1392.5,360.39 1391.4,347.64 1390.3,348.06 1389.2,351.72 1388.1,350.5 1387,348.78 1385.9,349.12 1384.8,347.91 1383.7,361.86 1382.6,346.94 1381.5,348.25 1380.4,342.27 1379.3,346.8 1378.2,343.24 1377.1,348.95 1376,340.84 1374.9,339.1 1373.8,338.3 1372.7,336.23 1371.6,335.58 1370.5,337.53 1369.4,336.49 1368.3,337.84 1367.2,336.04 1366.1,342.33 1365,336.41 1363.9,347.53 1362.8,333.62 1361.7,334.97 1360.6,333.24 1359.5,330.53 1358.4,330.36 1357.3,341.03 1356.2,331.23 1355.1,338.21 1354,328.05 1352.9,331.74 1351.8,326.78 1350.7,328.43 1349.6,326.2 1348.5,324.96 1347.4,326.88 1346.3,336.23 1345.2,325.08 1344.1,326.79 1343,325.25 1341.9,325.08 1340.8,325.2 1339.7,330.18 1338.6,323.89 1337.5,336.35 1336.4,319.97 1335.3,321.32 1334.2,319.31 1333.1,319.13 1332,318.59 1330.9,318.75 1329.8,315.93 1328.7,323.55 1327.6,314.88 1326.5,312.76 1325.4,312.34 1324.3,313.73 1323.2,311.39 1322.1,315.4 1321,312.05 1319.9,312.53 1318.8,309.12 1317.7,322.76 1316.6,305.82 1315.5,309.04 1314.4,303.94 1313.3,305.14 1312.2,304.28 1311.1,304.36 1310,303.53 1308.9,302.69 1307.8,301.14 1306.7,299.65 1305.6,300.97 1304.5,300.99 1303.4,298.8 1302.3,295.91 1301.2,295.12 1300.1,295.06 1299,292.43 1297.9,293.4 1296.8,290.69 1295.7,299.18 1294.6,292.32 1293.5,295.6 1292.4,291.52 1291.3,290.48 1290.2,288.9 1289.1,292.05 1288,285.63 1286.9,283.35 1285.8,281.58 1284.7,280.45 1283.6,281.73 1282.5,285.37 1281.4,280.44 1280.3,279.03 1279.2,278.37 1278.1,278.05 1277,280.71 1275.9,279.36 1274.8,277.27 1273.7,279.49 1272.6,275.94 1271.5,275.36 1270.4,273.19 1269.3,281.74 1268.2,269.65 1267.1,282.3 1266,268.74 1264.9,275.59 1263.8,265.05 1262.7,268.68 1261.6,263.13 1260.5,271.85 1259.4,261.94 1258.3,263.97 1257.2,262.32 1256.1,260.97 1255,260.13 1253.9,265.81 1252.8,260.54 1251.7,262.19 1250.6,257.32 1249.5,256.27 1248.4,254.5 1247.3,254.71 1246.2,250.87 1245.1,250.94 1244,251.79 1242.9,252.7 1241.8,251.87 1240.7,249.63 1239.6,248.67 1238.5,249.67 1237.4,246.11 1236.3,247.67 1235.2,245.13 1234.1,246.2 1233,244.24 1231.9,250.93 1230.8,243.31 1229.7,244.8 1228.6,248.31 1227.5,250.97 1226.4,244.63 1225.3,242.68 1224.2,241.26 1223.1,241.54 1222,241.01 1220.9,248.97 1219.8,240.55 1218.7,244.93 1217.6,236.97 1216.5,236.22 1215.4,236.88 1214.3,238.88 1213.2,235.24 1212.1,237.28 1211,233.54 1209.9,232.57 1208.8,233.09 1207.7,231.28 1206.6,236.45 1205.5,232.41 1204.4,228.31 1203.3,230.8 1202.2,226.67 1201.1,233.44 1200,228.49 1198.9,230.09 1197.8,227.62 1196.7,234.05 1195.6,228.29 1194.5,229.07 1193.4,228.76 1192.3,228.95 1191.2,229.99 1190.1,228.12 1189,226.2 1187.9,228.14 1186.8,222.84 1185.7,223.71 1184.6,221.97 1183.5,225.86 1182.4,222.33 1181.3,221.85 1180.2,221.84 1179.1,222.07 1178,220.73 1176.9,225.1 1175.8,219.75 1174.7,222.37 1173.6,219.97 1172.5,220.76 1171.4,218.71 1170.3,219.8 1169.2,219.99 1168.1,218.61 1167,219.66 1165.9,219.04 1164.8,218.67 1163.7,218.22 1162.6,220.66 1161.5,233.29 1160.4,218.04 1159.3,221.78 1158.2,215.73 1157.1,216.51 1156,216.59 1154.9,215.39 1153.8,215.18 1152.7,215.11 1151.6,215.09 1150.5,216.57" fill="#ff0000"/>
<polygon points="1398,178.81 1399.1,177.98 1400.2,177 1401.3,180.36 1402.4,171.66 1403.5,179.88 1404.6,176.16 1405.7,180.67 1406.8,179.73 1407.9,182.52 1409,181.3 1410.1,183.83 1411.2,183.56 1412.3,183.96 1413.4,168.67 1414.5,182.06 1415.6,182.1 1416.7,182.01 1417.8,181.97 1418.9,183.89 1420,180.02 1421.1,184.56 1422.2,175.91 1423.3,184.3 1424.4,175.58 1425.5,183.06 1426.6,180.2 1427.7,185.69 1428.8,186.36 1429.9,187.25 1431,185.2 1432.1,186.82 1433.2,184.84 1434.3,187.69 1435.4,187.88 1436.5,187.88 1437.6,184.02 1438.7,186.49 1439.8,186.21 1440.9,187.2 1442,182.94 1443.1,189.95 1444.2,190.02 1445.3,190.05 1446.4,190.95 1447.5,191.46 1448.6,190.12 1449.7,193.57 1450.8,190.64 1451.9,193.41 1453,190.58 1454.1,191.67 1455.2,192.2 1456.3,193.14 1457.4,189.88 1458.5,194.08 1459.6,192.54 1460.7,195.23 1461.8,189.74 1462.9,197.92 1464,190.04 1465.1,199.05 1466.2,194.89 1467.3,198.04 1468.4,199.5 1469.5,201.61 1470.6,201.8 1471.7,200.49 1472.8,199.34 1473.9,198.95 1475,195.18 1476.1,196.2 1477.2,186.91 1478.3,196.6 1479.4,197.36 1480.5,198.1 1481.6,197.58 1482.7,200.81 1483.8,199.04 1484.9,203.49 1486,200.36 1487.1,203.83 1488.2,200.43 1489.3,204.75 1490.4,198.65 1491.5,204.63 1492.6,206.28 1493.7,206.58 1494.8,205.98 1495.9,207.49 1497,192.08 1498.1,207.7 1499.2,207.44 1500.3,207.75 1501.4,207.83 1502.5,207.18 1503.6,194.74 1504.7,208.38 1505.8,205.82 1506.9,209.6 1508,210.36 1509.1,209.43 1510.2,201.97 1511.3,205.96 1512.4,203.76 1513.5,207.88 1514.6,206.14 1515.7,207.25 1516.8,204.31 1517.9,208.44 1519,200.79 1520.1,206.73 1521.2,210.3 1522.3,210.54 1523.4,210.65 1524.5,209.66 1525.6,211.47 1526.7,212.1 1527.8,201.63 1528.9,210.9 1530,212.94 1531.1,212.5 1532.2,210.23 1533.3,212.47 1534.4,210.4 1535.5,210.99 1536.6,211.21 1537.7,210.77 1538.8,213.45 1539.9,213.87 1541,212.02 1542.1,212.28 1543.2,210.27 1544.3,210.81 1545.4,202.05 1546.5,210.97 1547.6,205.34 1548.7,211.8 1549.8,212.06 1550.9,209.6 1552,211.35 1553.1,210.69 1554.2,209.51 1555.3,207.5 1556.4,204.33 1557.5,208.66 1558.6,204.72 1559.7,206.99 1560.8,209.42 1561.9,210.09 1563,207.75 1564.1,205.77 1565.2,206.55 1566.3,207.52 1567.4,208.75 1568.5,210.3 1569.6,206.3 1570.7,210 1571.8,212.05 1572.9,212.97 1574,214.83 1575.1,215.42 1576.2,216.59 1577.3,215.61 1578.4,213.25 1579.5,217.43 1580.6,216.97 1581.7,216.62 1582.8,211.8 1583.9,214.43 1585,210.74 1586.1,213.13 1587.2,213.68 1588.3,211.41 1589.4,202.3 1589.4,230.79 1588.3,231.59 1587.2,243.15 1586.1,231.56 1585,238.04 1583.9,232.18 1582.8,238.18 1581.7,234.8 1580.6,241.81 1579.5,234.71 1578.4,239.71 1577.3,234.6 1576.2,237.49 1575.1,233.13 1574,237.2 1572.9,232.08 1571.8,232.74 1570.7,230.42 1569.6,229.05 1568.5,229.56 1567.4,229.47 1566.3,230.37 1565.2,229.95 1564.1,227.39 1563,229.17 1561.9,227.65 1560.8,230.82 1559.7,227.24 1558.6,231.88 1557.5,230.98 1556.4,229.68 1555.3,227.39 1554.2,228.65 1553.1,229.03 1552,240.73 1550.9,230.91 1549.8,231.35 1548.7,230.1 1547.6,230.43 1546.5,228.25 1545.4,237.97 1544.3,229.79 1543.2,229.62 1542.1,230.9 1541,242.36 1539.9,234.76 1538.8,231.59 1537.7,231.81 1536.6,236.62 1535.5,233.63 1534.4,233.56 1533.3,231.64 1532.2,231.48 1531.1,231.32 1530,239.92 1528.9,232.68 1527.8,234.3 1526.7,236.01 1525.6,229.55 1524.5,229.83 1523.4,236.9 1522.3,228.03 1521.2,230.41 1520.1,228.27 1519,230.84 1517.9,229.91 1516.8,227.27 1515.7,226.46 1514.6,232.83 1513.5,226.36 1512.4,227.62 1511.3,228.45 1510.2,227.52 1509.1,227.73 1508,230.98 1506.9,228.27 1505.8,234.2 1504.7,229.18 1503.6,237.7 1502.5,227.76 1501.4,226.23 1500.3,225.23 1499.2,231.85 1498.1,226.88 1497,240.58 1495.9,225.97 1494.8,224.54 1493.7,225.06 1492.6,226.22 1491.5,225.13 1490.4,225.37 1489.3,224.23 1488.2,235.03 1487.1,222.08 1486,237.24 1484.9,223.5 1483.8,221.96 1482.7,220.59 1481.6,226.85 1480.5,220.87 1479.4,218.24 1478.3,216.83 1477.2,215.44 1476.1,215.9 1475,221.07 1473.9,216.8 1472.8,223.4 1471.7,220.47 1470.6,223.44 1469.5,219.2 1468.4,218.14 1467.3,219.09 1466.2,218.81 1465.1,216.93 1464,217.74 1462.9,215.52 1461.8,218.8 1460.7,213.71 1459.6,212.74 1458.5,212.3 1457.4,211.39 1456.3,211.1 1455.2,211.68 1454.1,212.96 1453,216.75 1451.9,210.99 1450.8,211.51 1449.7,212.9 1448.6,212.03 1447.5,210.97 1446.4,222.5 1445.3,209.58 1444.2,208.37 1443.1,207.23 1442,207.79 1440.9,205.91 1439.8,203.99 1438.7,204.53 1437.6,206.39 1436.5,205.7 1435.4,209.55 1434.3,209.72 1433.2,209.33 1432.1,206.46 1431,207.94 1429.9,205.84 1428.8,209.95 1427.7,204.94 1426.6,204.89 1425.5,203.16 1424.4,203.83 1423.3,203.67 1422.2,204.28 1421.1,203.98 1420,206.75 1418.9,203.85 1417.8,205.49 1416.7,200.67 1415.6,202.08 1414.5,200.23 1413.4,201.55 1412.3,201.79 1411.2,202.53 1410.1,202.3 1409,201.66 1407.9,199.91 1406.8,203.19 1405.7,200.32 1404.6,198.24 1403.5,197.74 1402.4,199.06 1401.3,198.21 1400.2,198.43 1399.1,200.86 1398,204.34" fill="#ff0000"/>
<line x1="1397.3" y1="350" x2="1397.3" y2="151" stroke="#ff0000" stroke-width="1.6" stroke-linecap="butt"/>
<line x1="1397.3" y1="151" x2="1398.6" y2="185" stroke="#ff0000" stroke-width="1.6" stroke-linecap="butt"/>
<line x1="1149.6" y1="107.2" x2="1149.6" y2="389.4" stroke="#000" stroke-width="2" stroke-linecap="butt"/>
<line x1="1134.7" y1="388.4" x2="1590.5" y2="388.4" stroke="#000" stroke-width="2" stroke-linecap="butt"/>
<line x1="1134.7" y1="108.5" x2="1149.6" y2="108.5" stroke="#000" stroke-width="2" stroke-linecap="butt"/>
<line x1="1134.7" y1="164.4" x2="1149.6" y2="164.4" stroke="#000" stroke-width="2" stroke-linecap="butt"/>
<line x1="1134.7" y1="220.4" x2="1149.6" y2="220.4" stroke="#000" stroke-width="2" stroke-linecap="butt"/>
<line x1="1134.7" y1="276.7" x2="1149.6" y2="276.7" stroke="#000" stroke-width="2" stroke-linecap="butt"/>
<line x1="1134.7" y1="332.7" x2="1149.6" y2="332.7" stroke="#000" stroke-width="2" stroke-linecap="butt"/>
<line x1="1149.6" y1="388.4" x2="1149.6" y2="399" stroke="#000" stroke-width="2" stroke-linecap="butt"/>
<line x1="1259.7" y1="388.4" x2="1259.7" y2="399" stroke="#000" stroke-width="2" stroke-linecap="butt"/>
<line x1="1369.8" y1="388.4" x2="1369.8" y2="399" stroke="#000" stroke-width="2" stroke-linecap="butt"/>
<line x1="1479.9" y1="388.4" x2="1479.9" y2="399" stroke="#000" stroke-width="2" stroke-linecap="butt"/>
<line x1="1589.6" y1="388.4" x2="1589.6" y2="399" stroke="#000" stroke-width="2" stroke-linecap="butt"/>
<text x="1044.71" y="115.94" style="font-family:'Liberation Sans', Arial, sans-serif;font-weight:bold;font-size:16.53px" fill="#000" textLength="81.17" lengthAdjust="spacingAndGlyphs">10.5 X 10</text>
<text x="1126.96" y="111.58" style="font-family:'Liberation Sans', Arial, sans-serif;font-weight:bold;font-size:12.61px" fill="#000" textLength="7.94" lengthAdjust="spacingAndGlyphs">5</text>
<text x="1044.75" y="169.24" style="font-family:'Liberation Sans', Arial, sans-serif;font-weight:bold;font-size:16.67px" fill="#000" textLength="77.89" lengthAdjust="spacingAndGlyphs">10.4 X 10</text>
<text x="1125.25" y="163.98" style="font-family:'Liberation Sans', Arial, sans-serif;font-weight:bold;font-size:12.76px" fill="#000" textLength="8.16" lengthAdjust="spacingAndGlyphs">5</text>
<text x="1044.75" y="226.5" style="font-family:'Liberation Sans', Arial, sans-serif;font-weight:bold;font-size:17.76px" fill="#000" textLength="77.89" lengthAdjust="spacingAndGlyphs">10.3 X 10</text>
<text x="1125.25" y="220.48" style="font-family:'Liberation Sans', Arial, sans-serif;font-weight:bold;font-size:12.33px" fill="#000" textLength="8.16" lengthAdjust="spacingAndGlyphs">5</text>
<text x="1044.71" y="279.94" style="font-family:'Liberation Sans', Arial, sans-serif;font-weight:bold;font-size:16.53px" fill="#000" textLength="81.17" lengthAdjust="spacingAndGlyphs">10.2 X 10</text>
<text x="1126.94" y="274.68" style="font-family:'Liberation Sans', Arial, sans-serif;font-weight:bold;font-size:12.18px" fill="#000" textLength="8.27" lengthAdjust="spacingAndGlyphs">5</text>
<text x="1044.75" y="336.93" style="font-family:'Liberation Sans', Arial, sans-serif;font-weight:bold;font-size:17.09px" fill="#000" textLength="77.89" lengthAdjust="spacingAndGlyphs">10.1 X 10</text>
<text x="1125.25" y="331.68" style="font-family:'Liberation Sans', Arial, sans-serif;font-weight:bold;font-size:12.18px" fill="#000" textLength="8.16" lengthAdjust="spacingAndGlyphs">5</text>
<text x="1061.68" y="398.23" style="font-family:'Liberation Sans', Arial, sans-serif;font-weight:bold;font-size:17.37px" fill="#000" textLength="66.51" lengthAdjust="spacingAndGlyphs">10 X 10</text>
<text x="1128.75" y="393.28" style="font-family:'Liberation Sans', Arial, sans-serif;font-weight:bold;font-size:12.18px" fill="#000" textLength="8.16" lengthAdjust="spacingAndGlyphs">5</text>
<text x="1144.47" y="417.36" style="font-family:'Liberation Sans', Arial, sans-serif;font-weight:bold;font-size:14.27px" fill="#000" textLength="10.29" lengthAdjust="spacingAndGlyphs">0</text>
<text x="1243.1" y="417.36" style="font-family:'Liberation Sans', Arial, sans-serif;font-weight:bold;font-size:14.27px" fill="#000" textLength="33.52" lengthAdjust="spacingAndGlyphs">200</text>
<text x="1353.5" y="417.36" style="font-family:'Liberation Sans', Arial, sans-serif;font-weight:bold;font-size:14.27px" fill="#000" textLength="33.11" lengthAdjust="spacingAndGlyphs">400</text>
<text x="1463.16" y="417.36" style="font-family:'Liberation Sans', Arial, sans-serif;font-weight:bold;font-size:14.27px" fill="#000" textLength="33.56" lengthAdjust="spacingAndGlyphs">600</text>
<text x="1573.06" y="417.36" style="font-family:'Liberation Sans', Arial, sans-serif;font-weight:bold;font-size:14.27px" fill="#000" textLength="33.46" lengthAdjust="spacingAndGlyphs">800</text>
<text x="1322.95" y="435.37" style="font-family:'Liberation Sans', Arial, sans-serif;font-weight:normal;font-size:19.96px" fill="#000" textLength="106.15" lengthAdjust="spacingAndGlyphs">Time (s)</text>
<text transform="translate(1024.86 440.52) rotate(-90)" style="font-family:Carlito, Calibri, 'Liberation Sans', sans-serif;font-weight:normal;font-size:33.99px" fill="#000" textLength="427.75" lengthAdjust="spacingAndGlyphs">MagGreen fluorescence (f.a.u)</text>
<text x="1581.52" y="31.8" style="font-family:'Liberation Sans', Arial, sans-serif;font-weight:bold;font-size:36.34px" fill="#000" textLength="32.15" lengthAdjust="spacingAndGlyphs">D</text>
<polyline points="1793.6,385 1793.6,122.3 1844.6,122.3 1844.6,385" fill="none" stroke="#ff0000" stroke-width="3.6" stroke-linejoin="miter"/>
<polyline points="1877.3,385 1877.3,245.4 1928.2,245.4 1928.2,385" fill="none" stroke="#0000ff" stroke-width="3.6" stroke-linejoin="miter"/>
<line x1="1819.3" y1="121" x2="1819.3" y2="99.3" stroke="#ff0000" stroke-width="1.8" stroke-linecap="butt"/>
<line x1="1805" y1="99.3" x2="1832.7" y2="99.3" stroke="#ff0000" stroke-width="1.8" stroke-linecap="butt"/>
<line x1="1902.3" y1="244" x2="1902.3" y2="229.5" stroke="#0000ff" stroke-width="1.8" stroke-linecap="butt"/>
<line x1="1888.6" y1="229.5" x2="1915.9" y2="229.5" stroke="#0000ff" stroke-width="1.8" stroke-linecap="butt"/>
<line x1="1763.6" y1="64.4" x2="1763.6" y2="385.8" stroke="#000" stroke-width="2" stroke-linecap="butt"/>
<line x1="1747" y1="384.8" x2="1959" y2="384.8" stroke="#000" stroke-width="2" stroke-linecap="butt"/>
<line x1="1747" y1="65.2" x2="1763.6" y2="65.2" stroke="#000" stroke-width="2" stroke-linecap="butt"/>
<line x1="1747" y1="145" x2="1763.6" y2="145" stroke="#000" stroke-width="2" stroke-linecap="butt"/>
<line x1="1747" y1="225" x2="1763.6" y2="225" stroke="#000" stroke-width="2" stroke-linecap="butt"/>
<line x1="1747" y1="304.8" x2="1763.6" y2="304.8" stroke="#000" stroke-width="2" stroke-linecap="butt"/>
<line x1="1817" y1="63.8" x2="1902.3" y2="63.8" stroke="#000" stroke-width="3.6" stroke-linecap="butt"/>
<line x1="1819" y1="62" x2="1819" y2="79.5" stroke="#000" stroke-width="4" stroke-linecap="butt"/>
<line x1="1900.3" y1="62" x2="1900.3" y2="79.5" stroke="#000" stroke-width="4" stroke-linecap="butt"/>
<text x="1838.93" y="64.53" style="font-family:'Liberation Sans', Arial, sans-serif;font-weight:bold;font-size:24.46px" fill="#111" textLength="9.52" lengthAdjust="spacingAndGlyphs">*</text>
<text x="1853.82" y="64.53" style="font-family:'Liberation Sans', Arial, sans-serif;font-weight:bold;font-size:24.46px" fill="#111" textLength="9.52" lengthAdjust="spacingAndGlyphs">*</text>
<text x="1868.71" y="64.53" style="font-family:'Liberation Sans', Arial, sans-serif;font-weight:bold;font-size:24.46px" fill="#111" textLength="9.52" lengthAdjust="spacingAndGlyphs">*</text>
<text x="1676.48" y="70.93" style="font-family:'Liberation Sans', Arial, sans-serif;font-weight:bold;font-size:17.66px" fill="#000" textLength="65.89" lengthAdjust="spacingAndGlyphs">20000</text>
<text x="1676.2" y="150.93" style="font-family:'Liberation Sans', Arial, sans-serif;font-weight:bold;font-size:17.66px" fill="#000" textLength="66.18" lengthAdjust="spacingAndGlyphs">15000</text>
<text x="1676.2" y="230.93" style="font-family:'Liberation Sans', Arial, sans-serif;font-weight:bold;font-size:17.66px" fill="#000" textLength="66.18" lengthAdjust="spacingAndGlyphs">10000</text>
<text x="1689.47" y="310.73" style="font-family:'Liberation Sans', Arial, sans-serif;font-weight:bold;font-size:17.66px" fill="#000" textLength="52.91" lengthAdjust="spacingAndGlyphs">5000</text>
<text x="1729.05" y="390.73" style="font-family:'Liberation Sans', Arial, sans-serif;font-weight:bold;font-size:17.66px" fill="#000" textLength="13.33" lengthAdjust="spacingAndGlyphs">0</text>
<text transform="translate(1828.9 348.39) rotate(-90)" style="font-family:'Liberation Sans', Arial, sans-serif;font-weight:normal;font-size:33.14px" fill="#ff0000" textLength="49.02" lengthAdjust="spacingAndGlyphs">M1</text>
<text transform="translate(1914.1 351.82) rotate(-90)" style="font-family:'Liberation Sans', Arial, sans-serif;font-weight:normal;font-size:34.23px" fill="#0000cc" textLength="49.52" lengthAdjust="spacingAndGlyphs">M2</text>
<text transform="translate(1650.25 397.02) rotate(-90)" style="font-family:Carlito, Calibri, 'Liberation Sans', sans-serif;font-weight:normal;font-size:34.06px" fill="#000" textLength="364.17" lengthAdjust="spacingAndGlyphs">Δ MagGreen fluorescence</text>
<line x1="187.77" y1="611.13" x2="187.77" y2="657.55" stroke="#5f5f5f" stroke-width="1.8" stroke-linecap="butt"/>
<line x1="182.57" y1="611.13" x2="192.97" y2="611.13" stroke="#5f5f5f" stroke-width="1.8" stroke-linecap="butt"/>
<line x1="182.57" y1="657.55" x2="192.97" y2="657.55" stroke="#5f5f5f" stroke-width="1.8" stroke-linecap="butt"/>
<line x1="221.43" y1="622.93" x2="221.43" y2="676.2" stroke="#5f5f5f" stroke-width="1.8" stroke-linecap="butt"/>
<line x1="216.23" y1="622.93" x2="226.63" y2="622.93" stroke="#5f5f5f" stroke-width="1.8" stroke-linecap="butt"/>
<line x1="216.23" y1="676.2" x2="226.63" y2="676.2" stroke="#5f5f5f" stroke-width="1.8" stroke-linecap="butt"/>
<line x1="255.08" y1="620.64" x2="255.08" y2="675.43" stroke="#5f5f5f" stroke-width="1.8" stroke-linecap="butt"/>
<line x1="249.88" y1="620.64" x2="260.28" y2="620.64" stroke="#5f5f5f" stroke-width="1.8" stroke-linecap="butt"/>
<line x1="249.88" y1="675.43" x2="260.28" y2="675.43" stroke="#5f5f5f" stroke-width="1.8" stroke-linecap="butt"/>
<line x1="288.73" y1="700.17" x2="288.73" y2="723" stroke="#5f5f5f" stroke-width="1.8" stroke-linecap="butt"/>
<line x1="283.53" y1="700.17" x2="293.93" y2="700.17" stroke="#5f5f5f" stroke-width="1.8" stroke-linecap="butt"/>
<line x1="283.53" y1="723" x2="293.93" y2="723" stroke="#5f5f5f" stroke-width="1.8" stroke-linecap="butt"/>
<line x1="322.39" y1="699.03" x2="322.39" y2="721.86" stroke="#5f5f5f" stroke-width="1.8" stroke-linecap="butt"/>
<line x1="317.19" y1="699.03" x2="327.59" y2="699.03" stroke="#5f5f5f" stroke-width="1.8" stroke-linecap="butt"/>
<line x1="317.19" y1="721.86" x2="327.59" y2="721.86" stroke="#5f5f5f" stroke-width="1.8" stroke-linecap="butt"/>
<line x1="356.04" y1="695.22" x2="356.04" y2="715.77" stroke="#5f5f5f" stroke-width="1.8" stroke-linecap="butt"/>
<line x1="350.84" y1="695.22" x2="361.24" y2="695.22" stroke="#5f5f5f" stroke-width="1.8" stroke-linecap="butt"/>
<line x1="350.84" y1="715.77" x2="361.24" y2="715.77" stroke="#5f5f5f" stroke-width="1.8" stroke-linecap="butt"/>
<line x1="389.69" y1="529.32" x2="389.69" y2="567.37" stroke="#5f5f5f" stroke-width="1.8" stroke-linecap="butt"/>
<line x1="384.49" y1="529.32" x2="394.89" y2="529.32" stroke="#5f5f5f" stroke-width="1.8" stroke-linecap="butt"/>
<line x1="384.49" y1="567.37" x2="394.89" y2="567.37" stroke="#5f5f5f" stroke-width="1.8" stroke-linecap="butt"/>
<line x1="423.35" y1="531.99" x2="423.35" y2="566.99" stroke="#5f5f5f" stroke-width="1.8" stroke-linecap="butt"/>
<line x1="418.15" y1="531.99" x2="428.55" y2="531.99" stroke="#5f5f5f" stroke-width="1.8" stroke-linecap="butt"/>
<line x1="418.15" y1="566.99" x2="428.55" y2="566.99" stroke="#5f5f5f" stroke-width="1.8" stroke-linecap="butt"/>
<line x1="457" y1="544.16" x2="457" y2="569.28" stroke="#5f5f5f" stroke-width="1.8" stroke-linecap="butt"/>
<line x1="451.8" y1="544.16" x2="462.2" y2="544.16" stroke="#5f5f5f" stroke-width="1.8" stroke-linecap="butt"/>
<line x1="451.8" y1="569.28" x2="462.2" y2="569.28" stroke="#5f5f5f" stroke-width="1.8" stroke-linecap="butt"/>
<line x1="490.66" y1="735.74" x2="490.66" y2="753.25" stroke="#5f5f5f" stroke-width="1.8" stroke-linecap="butt"/>
<line x1="485.46" y1="735.74" x2="495.86" y2="735.74" stroke="#5f5f5f" stroke-width="1.8" stroke-linecap="butt"/>
<line x1="485.46" y1="753.25" x2="495.86" y2="753.25" stroke="#5f5f5f" stroke-width="1.8" stroke-linecap="butt"/>
<line x1="524.31" y1="737.08" x2="524.31" y2="755.34" stroke="#5f5f5f" stroke-width="1.8" stroke-linecap="butt"/>
<line x1="519.11" y1="737.08" x2="529.51" y2="737.08" stroke="#5f5f5f" stroke-width="1.8" stroke-linecap="butt"/>
<line x1="519.11" y1="755.34" x2="529.51" y2="755.34" stroke="#5f5f5f" stroke-width="1.8" stroke-linecap="butt"/>
<line x1="557.96" y1="731.75" x2="557.96" y2="748.49" stroke="#5f5f5f" stroke-width="1.8" stroke-linecap="butt"/>
<line x1="552.76" y1="731.75" x2="563.16" y2="731.75" stroke="#5f5f5f" stroke-width="1.8" stroke-linecap="butt"/>
<line x1="552.76" y1="748.49" x2="563.16" y2="748.49" stroke="#5f5f5f" stroke-width="1.8" stroke-linecap="butt"/>
<polyline points="187.77,634.34 221.43,649.56 255.08,648.04 288.73,711.58 322.39,710.44 356.04,705.49 389.69,548.35 423.35,549.49 457,556.72 490.66,744.5 524.31,746.21 557.96,740.12" fill="none" stroke="#5f5f5f" stroke-width="2" stroke-linejoin="miter"/>
<circle cx="187.77" cy="634.34" r="5.3" fill="#5f5f5f"/>
<circle cx="221.43" cy="649.56" r="5.3" fill="#5f5f5f"/>
<circle cx="255.08" cy="648.04" r="5.3" fill="#5f5f5f"/>
<circle cx="288.73" cy="711.58" r="5.3" fill="#5f5f5f"/>
<circle cx="322.39" cy="710.44" r="5.3" fill="#5f5f5f"/>
<circle cx="356.04" cy="705.49" r="5.3" fill="#5f5f5f"/>
<circle cx="389.69" cy="548.35" r="5.3" fill="#5f5f5f"/>
<circle cx="423.35" cy="549.49" r="5.3" fill="#5f5f5f"/>
<circle cx="457" cy="556.72" r="5.3" fill="#5f5f5f"/>
<circle cx="490.66" cy="744.5" r="5.3" fill="#5f5f5f"/>
<circle cx="524.31" cy="746.21" r="5.3" fill="#5f5f5f"/>
<circle cx="557.96" cy="740.12" r="5.3" fill="#5f5f5f"/>
<polyline points="187.77,749.63 221.43,753.82 255.08,749.63 288.73,768.28 322.39,764.47 356.04,758.76 389.69,773.98 423.35,761.43 457,772.08 490.66,772.46 524.31,776.27 557.96,768.28" fill="none" stroke="#00ff00" stroke-width="2" stroke-linejoin="miter"/>
<circle cx="187.77" cy="749.63" r="5.3" fill="#00ff00"/>
<circle cx="221.43" cy="753.82" r="5.3" fill="#00ff00"/>
<circle cx="255.08" cy="749.63" r="5.3" fill="#00ff00"/>
<circle cx="288.73" cy="768.28" r="5.3" fill="#00ff00"/>
<circle cx="322.39" cy="764.47" r="5.3" fill="#00ff00"/>
<circle cx="356.04" cy="758.76" r="5.3" fill="#00ff00"/>
<circle cx="389.69" cy="773.98" r="5.3" fill="#00ff00"/>
<circle cx="423.35" cy="761.43" r="5.3" fill="#00ff00"/>
<circle cx="457" cy="772.08" r="5.3" fill="#00ff00"/>
<circle cx="490.66" cy="772.46" r="5.3" fill="#00ff00"/>
<circle cx="524.31" cy="776.27" r="5.3" fill="#00ff00"/>
<circle cx="557.96" cy="768.28" r="5.3" fill="#00ff00"/>
<line x1="181.2" y1="511.4" x2="181.2" y2="817.5" stroke="#000" stroke-width="2" stroke-linecap="butt"/>
<line x1="172.1" y1="816.6" x2="596" y2="816.6" stroke="#000" stroke-width="2" stroke-linecap="butt"/>
<line x1="172.1" y1="512.2" x2="181.2" y2="512.2" stroke="#000" stroke-width="2" stroke-linecap="butt"/>
<line x1="172.1" y1="588.1" x2="181.2" y2="588.1" stroke="#000" stroke-width="2" stroke-linecap="butt"/>
<line x1="172.1" y1="663.9" x2="181.2" y2="663.9" stroke="#000" stroke-width="2" stroke-linecap="butt"/>
<line x1="172.1" y1="740.5" x2="181.2" y2="740.5" stroke="#000" stroke-width="2" stroke-linecap="butt"/>
<line x1="172.1" y1="816.6" x2="181.2" y2="816.6" stroke="#000" stroke-width="2" stroke-linecap="butt"/>
<line x1="181.3" y1="816.6" x2="181.3" y2="824.7" stroke="#000" stroke-width="2" stroke-linecap="butt"/>
<line x1="284.9" y1="816.6" x2="284.9" y2="824.7" stroke="#000" stroke-width="2" stroke-linecap="butt"/>
<line x1="388.3" y1="816.6" x2="388.3" y2="824.7" stroke="#000" stroke-width="2" stroke-linecap="butt"/>
<line x1="491.9" y1="816.6" x2="491.9" y2="824.7" stroke="#000" stroke-width="2" stroke-linecap="butt"/>
<line x1="595.5" y1="816.6" x2="595.5" y2="824.7" stroke="#000" stroke-width="2" stroke-linecap="butt"/>
<text x="126.21" y="525.17" style="font-family:'Liberation Sans', Arial, sans-serif;font-weight:bold;font-size:33.9px" fill="#000" textLength="41.84" lengthAdjust="spacingAndGlyphs">80</text>
<text x="126.02" y="601.07" style="font-family:'Liberation Sans', Arial, sans-serif;font-weight:bold;font-size:33.9px" fill="#000" textLength="42.03" lengthAdjust="spacingAndGlyphs">60</text>
<text x="126.13" y="676.87" style="font-family:'Liberation Sans', Arial, sans-serif;font-weight:bold;font-size:33.9px" fill="#000" textLength="41.92" lengthAdjust="spacingAndGlyphs">40</text>
<text x="125.37" y="753.47" style="font-family:'Liberation Sans', Arial, sans-serif;font-weight:bold;font-size:33.9px" fill="#000" textLength="42.71" lengthAdjust="spacingAndGlyphs">20</text>
<text x="147.33" y="829.57" style="font-family:'Liberation Sans', Arial, sans-serif;font-weight:bold;font-size:33.9px" fill="#000" textLength="20.7" lengthAdjust="spacingAndGlyphs">0</text>
<text x="170.67" y="861.46" style="font-family:'Liberation Sans', Arial, sans-serif;font-weight:bold;font-size:35.31px" fill="#000" textLength="21.52" lengthAdjust="spacingAndGlyphs">0</text>
<text x="262.75" y="861.46" style="font-family:'Liberation Sans', Arial, sans-serif;font-weight:bold;font-size:35.31px" fill="#000" textLength="43.35" lengthAdjust="spacingAndGlyphs">20</text>
<text x="367.13" y="861.46" style="font-family:'Liberation Sans', Arial, sans-serif;font-weight:bold;font-size:35.31px" fill="#000" textLength="41.81" lengthAdjust="spacingAndGlyphs">40</text>
<text x="470.91" y="861.46" style="font-family:'Liberation Sans', Arial, sans-serif;font-weight:bold;font-size:35.31px" fill="#000" textLength="42.14" lengthAdjust="spacingAndGlyphs">60</text>
<text x="573.9" y="861.46" style="font-family:'Liberation Sans', Arial, sans-serif;font-weight:bold;font-size:35.31px" fill="#000" textLength="41.94" lengthAdjust="spacingAndGlyphs">80</text>
<text x="253.37" y="902" style="font-family:'Liberation Sans', Arial, sans-serif;font-weight:bold;font-size:34.22px" fill="#000" textLength="270.52" lengthAdjust="spacingAndGlyphs">Time (minutes)</text>
<text transform="translate(107.19 786.39) rotate(-90)" style="font-family:'Liberation Sans', Arial, sans-serif;font-weight:bold;font-size:38.62px" fill="#000" textLength="258.08" lengthAdjust="spacingAndGlyphs">OCR (pmol/min)</text>
<text x="45.13" y="501.4" style="font-family:'Liberation Sans', Arial, sans-serif;font-weight:bold;font-size:43.61px" fill="#000" textLength="28.65" lengthAdjust="spacingAndGlyphs">E</text>
<line x1="562.1" y1="480.9" x2="598.9" y2="480.9" stroke="#5f5f5f" stroke-width="2" stroke-linecap="butt"/>
<circle cx="580.3" cy="480.9" r="5.5" fill="#5f5f5f"/>
<text x="619.14" y="493.27" style="font-family:'Liberation Sans', Arial, sans-serif;font-weight:normal;font-size:34.18px" fill="#000" textLength="188.54" lengthAdjust="spacingAndGlyphs">M0 Control</text>
<line x1="562.1" y1="522.2" x2="598.9" y2="522.2" stroke="#00ff00" stroke-width="2" stroke-linecap="butt"/>
<circle cx="580.3" cy="522.2" r="5.5" fill="#00ff00"/>
<text x="619.13" y="533.93" style="font-family:'Liberation Sans', Arial, sans-serif;font-weight:normal;font-size:34.56px" fill="#000" textLength="183.35" lengthAdjust="spacingAndGlyphs">M0 + 0 Mg</text>
<line x1="230.34" y1="1111.03" x2="230.34" y2="1122.03" stroke="#ff0000" stroke-width="1.8" stroke-linecap="butt"/>
<line x1="225.14" y1="1111.03" x2="235.54" y2="1111.03" stroke="#ff0000" stroke-width="1.8" stroke-linecap="butt"/>
<line x1="225.14" y1="1122.03" x2="235.54" y2="1122.03" stroke="#ff0000" stroke-width="1.8" stroke-linecap="butt"/>
<line x1="264.09" y1="1113.7" x2="264.09" y2="1124.71" stroke="#ff0000" stroke-width="1.8" stroke-linecap="butt"/>
<line x1="258.89" y1="1113.7" x2="269.29" y2="1113.7" stroke="#ff0000" stroke-width="1.8" stroke-linecap="butt"/>
<line x1="258.89" y1="1124.71" x2="269.29" y2="1124.71" stroke="#ff0000" stroke-width="1.8" stroke-linecap="butt"/>
<line x1="297.84" y1="1187.11" x2="297.84" y2="1199.69" stroke="#ff0000" stroke-width="1.8" stroke-linecap="butt"/>
<line x1="292.64" y1="1187.11" x2="303.04" y2="1187.11" stroke="#ff0000" stroke-width="1.8" stroke-linecap="butt"/>
<line x1="292.64" y1="1199.69" x2="303.04" y2="1199.69" stroke="#ff0000" stroke-width="1.8" stroke-linecap="butt"/>
<line x1="331.6" y1="1191.04" x2="331.6" y2="1203.62" stroke="#ff0000" stroke-width="1.8" stroke-linecap="butt"/>
<line x1="326.4" y1="1191.04" x2="336.8" y2="1191.04" stroke="#ff0000" stroke-width="1.8" stroke-linecap="butt"/>
<line x1="326.4" y1="1203.62" x2="336.8" y2="1203.62" stroke="#ff0000" stroke-width="1.8" stroke-linecap="butt"/>
<line x1="365.35" y1="1191.36" x2="365.35" y2="1203.94" stroke="#ff0000" stroke-width="1.8" stroke-linecap="butt"/>
<line x1="360.15" y1="1191.36" x2="370.55" y2="1191.36" stroke="#ff0000" stroke-width="1.8" stroke-linecap="butt"/>
<line x1="360.15" y1="1203.94" x2="370.55" y2="1203.94" stroke="#ff0000" stroke-width="1.8" stroke-linecap="butt"/>
<line x1="399.1" y1="1032.43" x2="399.1" y2="1054.44" stroke="#ff0000" stroke-width="1.8" stroke-linecap="butt"/>
<line x1="393.9" y1="1032.43" x2="404.3" y2="1032.43" stroke="#ff0000" stroke-width="1.8" stroke-linecap="butt"/>
<line x1="393.9" y1="1054.44" x2="404.3" y2="1054.44" stroke="#ff0000" stroke-width="1.8" stroke-linecap="butt"/>
<line x1="432.85" y1="1036.36" x2="432.85" y2="1058.37" stroke="#ff0000" stroke-width="1.8" stroke-linecap="butt"/>
<line x1="427.65" y1="1036.36" x2="438.05" y2="1036.36" stroke="#ff0000" stroke-width="1.8" stroke-linecap="butt"/>
<line x1="427.65" y1="1058.37" x2="438.05" y2="1058.37" stroke="#ff0000" stroke-width="1.8" stroke-linecap="butt"/>
<line x1="466.6" y1="1039.03" x2="466.6" y2="1061.04" stroke="#ff0000" stroke-width="1.8" stroke-linecap="butt"/>
<line x1="461.4" y1="1039.03" x2="471.8" y2="1039.03" stroke="#ff0000" stroke-width="1.8" stroke-linecap="butt"/>
<line x1="461.4" y1="1061.04" x2="471.8" y2="1061.04" stroke="#ff0000" stroke-width="1.8" stroke-linecap="butt"/>
<polyline points="196.59,1106.63 230.34,1116.53 264.09,1119.2 297.84,1193.4 331.6,1197.33 365.35,1197.65 399.1,1043.43 432.85,1047.36 466.6,1050.04 500.35,1221.38 534.1,1221.86 567.85,1220.91" fill="none" stroke="#ff0000" stroke-width="2" stroke-linejoin="miter"/>
<circle cx="196.59" cy="1106.63" r="5.3" fill="#ff0000"/>
<circle cx="230.34" cy="1116.53" r="5.3" fill="#ff0000"/>
<circle cx="264.09" cy="1119.2" r="5.3" fill="#ff0000"/>
<circle cx="297.84" cy="1193.4" r="5.3" fill="#ff0000"/>
<circle cx="331.6" cy="1197.33" r="5.3" fill="#ff0000"/>
<circle cx="365.35" cy="1197.65" r="5.3" fill="#ff0000"/>
<circle cx="399.1" cy="1043.43" r="5.3" fill="#ff0000"/>
<circle cx="432.85" cy="1047.36" r="5.3" fill="#ff0000"/>
<circle cx="466.6" cy="1050.04" r="5.3" fill="#ff0000"/>
<circle cx="500.35" cy="1221.38" r="5.3" fill="#ff0000"/>
<circle cx="534.1" cy="1221.86" r="5.3" fill="#ff0000"/>
<circle cx="567.85" cy="1220.91" r="5.3" fill="#ff0000"/>
<line x1="196.59" y1="1222.01" x2="196.59" y2="1237.73" stroke="#00ff00" stroke-width="1.8" stroke-linecap="butt"/>
<line x1="191.39" y1="1222.01" x2="201.79" y2="1222.01" stroke="#00ff00" stroke-width="1.8" stroke-linecap="butt"/>
<line x1="191.39" y1="1237.73" x2="201.79" y2="1237.73" stroke="#00ff00" stroke-width="1.8" stroke-linecap="butt"/>
<line x1="230.34" y1="1227.99" x2="230.34" y2="1240.56" stroke="#00ff00" stroke-width="1.8" stroke-linecap="butt"/>
<line x1="225.14" y1="1227.99" x2="235.54" y2="1227.99" stroke="#00ff00" stroke-width="1.8" stroke-linecap="butt"/>
<line x1="225.14" y1="1240.56" x2="235.54" y2="1240.56" stroke="#00ff00" stroke-width="1.8" stroke-linecap="butt"/>
<line x1="264.09" y1="1229.24" x2="264.09" y2="1240.25" stroke="#00ff00" stroke-width="1.8" stroke-linecap="butt"/>
<line x1="258.89" y1="1229.24" x2="269.29" y2="1229.24" stroke="#00ff00" stroke-width="1.8" stroke-linecap="butt"/>
<line x1="258.89" y1="1240.25" x2="269.29" y2="1240.25" stroke="#00ff00" stroke-width="1.8" stroke-linecap="butt"/>
<polyline points="196.59,1229.87 230.34,1234.27 264.09,1234.75 297.84,1241.19 331.6,1241.19 365.35,1239.46 399.1,1244.18 432.85,1241.19 466.6,1244.96 500.35,1247.17 534.1,1246.69 567.85,1245.28" fill="none" stroke="#00ff00" stroke-width="2" stroke-linejoin="miter"/>
<circle cx="196.59" cy="1229.87" r="5.3" fill="#00ff00"/>
<circle cx="230.34" cy="1234.27" r="5.3" fill="#00ff00"/>
<circle cx="264.09" cy="1234.75" r="5.3" fill="#00ff00"/>
<circle cx="297.84" cy="1241.19" r="5.3" fill="#00ff00"/>
<circle cx="331.6" cy="1241.19" r="5.3" fill="#00ff00"/>
<circle cx="365.35" cy="1239.46" r="5.3" fill="#00ff00"/>
<circle cx="399.1" cy="1244.18" r="5.3" fill="#00ff00"/>
<circle cx="432.85" cy="1241.19" r="5.3" fill="#00ff00"/>
<circle cx="466.6" cy="1244.96" r="5.3" fill="#00ff00"/>
<circle cx="500.35" cy="1247.17" r="5.3" fill="#00ff00"/>
<circle cx="534.1" cy="1246.69" r="5.3" fill="#00ff00"/>
<circle cx="567.85" cy="1245.28" r="5.3" fill="#00ff00"/>
<line x1="190.1" y1="949.1" x2="190.1" y2="1265.2" stroke="#000" stroke-width="2" stroke-linecap="butt"/>
<line x1="180.9" y1="1264.3" x2="606" y2="1264.3" stroke="#000" stroke-width="2" stroke-linecap="butt"/>
<line x1="180.9" y1="949.9" x2="190.1" y2="949.9" stroke="#000" stroke-width="2" stroke-linecap="butt"/>
<line x1="180.9" y1="1029" x2="190.1" y2="1029" stroke="#000" stroke-width="2" stroke-linecap="butt"/>
<line x1="180.9" y1="1107" x2="190.1" y2="1107" stroke="#000" stroke-width="2" stroke-linecap="butt"/>
<line x1="180.9" y1="1185.4" x2="190.1" y2="1185.4" stroke="#000" stroke-width="2" stroke-linecap="butt"/>
<line x1="180.9" y1="1264.3" x2="190.1" y2="1264.3" stroke="#000" stroke-width="2" stroke-linecap="butt"/>
<line x1="190.1" y1="1264.3" x2="190.1" y2="1272.6" stroke="#000" stroke-width="2" stroke-linecap="butt"/>
<line x1="294.2" y1="1264.3" x2="294.2" y2="1272.6" stroke="#000" stroke-width="2" stroke-linecap="butt"/>
<line x1="397.8" y1="1264.3" x2="397.8" y2="1272.6" stroke="#000" stroke-width="2" stroke-linecap="butt"/>
<line x1="501.9" y1="1264.3" x2="501.9" y2="1272.6" stroke="#000" stroke-width="2" stroke-linecap="butt"/>
<line x1="605.5" y1="1264.3" x2="605.5" y2="1272.6" stroke="#000" stroke-width="2" stroke-linecap="butt"/>
<text x="112.25" y="963.2" style="font-family:'Liberation Sans', Arial, sans-serif;font-weight:bold;font-size:35.73px" fill="#000" textLength="64.95" lengthAdjust="spacingAndGlyphs">200</text>
<text x="112.14" y="1042.3" style="font-family:'Liberation Sans', Arial, sans-serif;font-weight:bold;font-size:35.73px" fill="#000" textLength="65.06" lengthAdjust="spacingAndGlyphs">150</text>
<text x="112.14" y="1120.3" style="font-family:'Liberation Sans', Arial, sans-serif;font-weight:bold;font-size:35.73px" fill="#000" textLength="65.06" lengthAdjust="spacingAndGlyphs">100</text>
<text x="135.45" y="1198.7" style="font-family:'Liberation Sans', Arial, sans-serif;font-weight:bold;font-size:35.73px" fill="#000" textLength="41.69" lengthAdjust="spacingAndGlyphs">50</text>
<text x="155.99" y="1277.6" style="font-family:'Liberation Sans', Arial, sans-serif;font-weight:bold;font-size:35.73px" fill="#000" textLength="21.17" lengthAdjust="spacingAndGlyphs">0</text>
<text x="180.29" y="1310.45" style="font-family:'Liberation Sans', Arial, sans-serif;font-weight:bold;font-size:35.59px" fill="#000" textLength="21.17" lengthAdjust="spacingAndGlyphs">0</text>
<text x="272.77" y="1310.45" style="font-family:'Liberation Sans', Arial, sans-serif;font-weight:bold;font-size:35.59px" fill="#000" textLength="42.6" lengthAdjust="spacingAndGlyphs">20</text>
<text x="376.41" y="1310.45" style="font-family:'Liberation Sans', Arial, sans-serif;font-weight:bold;font-size:35.59px" fill="#000" textLength="43.07" lengthAdjust="spacingAndGlyphs">40</text>
<text x="480.11" y="1310.45" style="font-family:'Liberation Sans', Arial, sans-serif;font-weight:bold;font-size:35.59px" fill="#000" textLength="42.14" lengthAdjust="spacingAndGlyphs">60</text>
<text x="583.89" y="1310.45" style="font-family:'Liberation Sans', Arial, sans-serif;font-weight:bold;font-size:35.59px" fill="#000" textLength="42.48" lengthAdjust="spacingAndGlyphs">80</text>
<text x="262.67" y="1351.84" style="font-family:'Liberation Sans', Arial, sans-serif;font-weight:bold;font-size:34.97px" fill="#000" textLength="271.23" lengthAdjust="spacingAndGlyphs">Time (minutes)</text>
<text transform="translate(95.15 1231.62) rotate(-90)" style="font-family:'Liberation Sans', Arial, sans-serif;font-weight:bold;font-size:39.26px" fill="#000" textLength="263.85" lengthAdjust="spacingAndGlyphs">OCR (pmol/min)</text>
<text x="46.58" y="931.16" style="font-family:'Liberation Sans', Arial, sans-serif;font-weight:bold;font-size:44.77px" fill="#000" textLength="34.47" lengthAdjust="spacingAndGlyphs">G</text>
<line x1="542.7" y1="899.5" x2="579.9" y2="899.5" stroke="#ff0000" stroke-width="2" stroke-linecap="butt"/>
<circle cx="561.3" cy="899.5" r="5.5" fill="#ff0000"/>
<text x="600.54" y="912.36" style="font-family:'Liberation Sans', Arial, sans-serif;font-weight:normal;font-size:35.27px" fill="#000" textLength="188.23" lengthAdjust="spacingAndGlyphs">M1 Control</text>
<line x1="542.7" y1="941.9" x2="579.9" y2="941.9" stroke="#00ff00" stroke-width="2" stroke-linecap="butt"/>
<circle cx="561.3" cy="941.9" r="5.5" fill="#00ff00"/>
<text x="600.53" y="953.64" style="font-family:'Liberation Sans', Arial, sans-serif;font-weight:normal;font-size:35px" fill="#000" textLength="183.35" lengthAdjust="spacingAndGlyphs">M1 + 0 Mg</text>
<line x1="404.97" y1="1493.73" x2="404.97" y2="1506.64" stroke="#0000ff" stroke-width="1.8" stroke-linecap="butt"/>
<line x1="399.77" y1="1493.73" x2="410.17" y2="1493.73" stroke="#0000ff" stroke-width="1.8" stroke-linecap="butt"/>
<line x1="399.77" y1="1506.64" x2="410.17" y2="1506.64" stroke="#0000ff" stroke-width="1.8" stroke-linecap="butt"/>
<line x1="439.23" y1="1496.54" x2="439.23" y2="1511.43" stroke="#0000ff" stroke-width="1.8" stroke-linecap="butt"/>
<line x1="434.03" y1="1496.54" x2="444.43" y2="1496.54" stroke="#0000ff" stroke-width="1.8" stroke-linecap="butt"/>
<line x1="434.03" y1="1511.43" x2="444.43" y2="1511.43" stroke="#0000ff" stroke-width="1.8" stroke-linecap="butt"/>
<line x1="473.49" y1="1497.2" x2="473.49" y2="1515.41" stroke="#0000ff" stroke-width="1.8" stroke-linecap="butt"/>
<line x1="468.29" y1="1497.2" x2="478.69" y2="1497.2" stroke="#0000ff" stroke-width="1.8" stroke-linecap="butt"/>
<line x1="468.29" y1="1515.41" x2="478.69" y2="1515.41" stroke="#0000ff" stroke-width="1.8" stroke-linecap="butt"/>
<polyline points="199.39,1647.31 233.65,1655.92 267.92,1657.57 302.18,1703.08 336.44,1700.11 370.7,1702.09 404.97,1500.18 439.23,1503.99 473.49,1506.3 507.76,1717.65 542.02,1715.17 576.28,1717.15" fill="none" stroke="#0000ff" stroke-width="2" stroke-linejoin="miter"/>
<circle cx="199.39" cy="1647.31" r="5.3" fill="#0000ff"/>
<circle cx="233.65" cy="1655.92" r="5.3" fill="#0000ff"/>
<circle cx="267.92" cy="1657.57" r="5.3" fill="#0000ff"/>
<circle cx="302.18" cy="1703.08" r="5.3" fill="#0000ff"/>
<circle cx="336.44" cy="1700.11" r="5.3" fill="#0000ff"/>
<circle cx="370.7" cy="1702.09" r="5.3" fill="#0000ff"/>
<circle cx="404.97" cy="1500.18" r="5.3" fill="#0000ff"/>
<circle cx="439.23" cy="1503.99" r="5.3" fill="#0000ff"/>
<circle cx="473.49" cy="1506.3" r="5.3" fill="#0000ff"/>
<circle cx="507.76" cy="1717.65" r="5.3" fill="#0000ff"/>
<circle cx="542.02" cy="1715.17" r="5.3" fill="#0000ff"/>
<circle cx="576.28" cy="1717.15" r="5.3" fill="#0000ff"/>
<line x1="336.44" y1="1725.59" x2="336.44" y2="1735.52" stroke="#00ff00" stroke-width="1.8" stroke-linecap="butt"/>
<line x1="331.24" y1="1725.59" x2="341.64" y2="1725.59" stroke="#00ff00" stroke-width="1.8" stroke-linecap="butt"/>
<line x1="331.24" y1="1735.52" x2="341.64" y2="1735.52" stroke="#00ff00" stroke-width="1.8" stroke-linecap="butt"/>
<line x1="404.97" y1="1731.05" x2="404.97" y2="1739.33" stroke="#00ff00" stroke-width="1.8" stroke-linecap="butt"/>
<line x1="399.77" y1="1731.05" x2="410.17" y2="1731.05" stroke="#00ff00" stroke-width="1.8" stroke-linecap="butt"/>
<line x1="399.77" y1="1739.33" x2="410.17" y2="1739.33" stroke="#00ff00" stroke-width="1.8" stroke-linecap="butt"/>
<line x1="473.49" y1="1729.4" x2="473.49" y2="1737.67" stroke="#00ff00" stroke-width="1.8" stroke-linecap="butt"/>
<line x1="468.29" y1="1729.4" x2="478.69" y2="1729.4" stroke="#00ff00" stroke-width="1.8" stroke-linecap="butt"/>
<line x1="468.29" y1="1737.67" x2="478.69" y2="1737.67" stroke="#00ff00" stroke-width="1.8" stroke-linecap="butt"/>
<polyline points="199.39,1727.91 233.65,1727.58 267.92,1727.58 302.18,1735.69 336.44,1730.56 370.7,1730.56 404.97,1735.19 439.23,1732.71 473.49,1733.54 507.76,1736.51 542.02,1733.04 576.28,1734.86" fill="none" stroke="#00ff00" stroke-width="2" stroke-linejoin="miter"/>
<circle cx="199.39" cy="1727.91" r="5.3" fill="#00ff00"/>
<circle cx="233.65" cy="1727.58" r="5.3" fill="#00ff00"/>
<circle cx="267.92" cy="1727.58" r="5.3" fill="#00ff00"/>
<circle cx="302.18" cy="1735.69" r="5.3" fill="#00ff00"/>
<circle cx="336.44" cy="1730.56" r="5.3" fill="#00ff00"/>
<circle cx="370.7" cy="1730.56" r="5.3" fill="#00ff00"/>
<circle cx="404.97" cy="1735.19" r="5.3" fill="#00ff00"/>
<circle cx="439.23" cy="1732.71" r="5.3" fill="#00ff00"/>
<circle cx="473.49" cy="1733.54" r="5.3" fill="#00ff00"/>
<circle cx="507.76" cy="1736.51" r="5.3" fill="#00ff00"/>
<circle cx="542.02" cy="1733.04" r="5.3" fill="#00ff00"/>
<circle cx="576.28" cy="1734.86" r="5.3" fill="#00ff00"/>
<line x1="192.9" y1="1416.3" x2="192.9" y2="1749" stroke="#000" stroke-width="2" stroke-linecap="butt"/>
<line x1="183.4" y1="1748.1" x2="615" y2="1748.1" stroke="#000" stroke-width="2" stroke-linecap="butt"/>
<line x1="183.4" y1="1417.1" x2="192.9" y2="1417.1" stroke="#000" stroke-width="2" stroke-linecap="butt"/>
<line x1="183.4" y1="1499.8" x2="192.9" y2="1499.8" stroke="#000" stroke-width="2" stroke-linecap="butt"/>
<line x1="183.4" y1="1582.3" x2="192.9" y2="1582.3" stroke="#000" stroke-width="2" stroke-linecap="butt"/>
<line x1="183.4" y1="1665.1" x2="192.9" y2="1665.1" stroke="#000" stroke-width="2" stroke-linecap="butt"/>
<line x1="183.4" y1="1748.1" x2="192.9" y2="1748.1" stroke="#000" stroke-width="2" stroke-linecap="butt"/>
<line x1="192.8" y1="1748.1" x2="192.8" y2="1757.1" stroke="#000" stroke-width="2" stroke-linecap="butt"/>
<line x1="297.8" y1="1748.1" x2="297.8" y2="1757.1" stroke="#000" stroke-width="2" stroke-linecap="butt"/>
<line x1="403.9" y1="1748.1" x2="403.9" y2="1757.1" stroke="#000" stroke-width="2" stroke-linecap="butt"/>
<line x1="509.2" y1="1748.1" x2="509.2" y2="1757.1" stroke="#000" stroke-width="2" stroke-linecap="butt"/>
<line x1="614.5" y1="1748.1" x2="614.5" y2="1757.1" stroke="#000" stroke-width="2" stroke-linecap="butt"/>
<text x="114.24" y="1430.74" style="font-family:'Liberation Sans', Arial, sans-serif;font-weight:bold;font-size:36.72px" fill="#000" textLength="65.37" lengthAdjust="spacingAndGlyphs">200</text>
<text x="114.75" y="1513.44" style="font-family:'Liberation Sans', Arial, sans-serif;font-weight:bold;font-size:36.72px" fill="#000" textLength="64.84" lengthAdjust="spacingAndGlyphs">150</text>
<text x="114.75" y="1595.94" style="font-family:'Liberation Sans', Arial, sans-serif;font-weight:bold;font-size:36.72px" fill="#000" textLength="64.84" lengthAdjust="spacingAndGlyphs">100</text>
<text x="136.2" y="1678.74" style="font-family:'Liberation Sans', Arial, sans-serif;font-weight:bold;font-size:36.72px" fill="#000" textLength="43.4" lengthAdjust="spacingAndGlyphs">50</text>
<text x="157.96" y="1761.74" style="font-family:'Liberation Sans', Arial, sans-serif;font-weight:bold;font-size:36.72px" fill="#000" textLength="21.63" lengthAdjust="spacingAndGlyphs">0</text>
<text x="181.98" y="1796.44" style="font-family:'Liberation Sans', Arial, sans-serif;font-weight:bold;font-size:37.01px" fill="#000" textLength="21.4" lengthAdjust="spacingAndGlyphs">0</text>
<text x="276.45" y="1796.44" style="font-family:'Liberation Sans', Arial, sans-serif;font-weight:bold;font-size:37.01px" fill="#000" textLength="43.35" lengthAdjust="spacingAndGlyphs">20</text>
<text x="382" y="1796.44" style="font-family:'Liberation Sans', Arial, sans-serif;font-weight:bold;font-size:37.01px" fill="#000" textLength="43.81" lengthAdjust="spacingAndGlyphs">40</text>
<text x="486.45" y="1796.44" style="font-family:'Liberation Sans', Arial, sans-serif;font-weight:bold;font-size:37.01px" fill="#000" textLength="43.97" lengthAdjust="spacingAndGlyphs">60</text>
<text x="592.44" y="1796.44" style="font-family:'Liberation Sans', Arial, sans-serif;font-weight:bold;font-size:37.01px" fill="#000" textLength="44.08" lengthAdjust="spacingAndGlyphs">80</text>
<text x="267.07" y="1840.07" style="font-family:'Liberation Sans', Arial, sans-serif;font-weight:bold;font-size:38.19px" fill="#000" textLength="275.16" lengthAdjust="spacingAndGlyphs">Time (minutes)</text>
<text transform="translate(96.18 1714.7) rotate(-90)" style="font-family:'Liberation Sans', Arial, sans-serif;font-weight:bold;font-size:39.59px" fill="#000" textLength="279.03" lengthAdjust="spacingAndGlyphs">OCR (pmol/min)</text>
<text x="57.17" y="1382" style="font-family:'Liberation Sans', Arial, sans-serif;font-weight:bold;font-size:45.06px" fill="#000" textLength="11.77" lengthAdjust="spacingAndGlyphs">I</text>
<line x1="527.1" y1="1417.3" x2="564.9" y2="1417.3" stroke="#0000ff" stroke-width="2" stroke-linecap="butt"/>
<circle cx="545.6" cy="1417.3" r="5.5" fill="#0000ff"/>
<text x="585.49" y="1430.24" style="font-family:'Liberation Sans', Arial, sans-serif;font-weight:normal;font-size:36.9px" fill="#000" textLength="191.43" lengthAdjust="spacingAndGlyphs">M2 Control</text>
<line x1="527.1" y1="1461.9" x2="564.9" y2="1461.9" stroke="#00ff00" stroke-width="2" stroke-linecap="butt"/>
<circle cx="545.6" cy="1461.9" r="5.5" fill="#00ff00"/>
<text x="585.48" y="1474.56" style="font-family:'Liberation Sans', Arial, sans-serif;font-weight:normal;font-size:37.32px" fill="#000" textLength="186.24" lengthAdjust="spacingAndGlyphs">M2 + 0 Mg</text>
<text x="854.54" y="501.9" style="font-family:'Liberation Sans', Arial, sans-serif;font-weight:bold;font-size:43.02px" fill="#000" textLength="26.13" lengthAdjust="spacingAndGlyphs">F</text>
<text x="860.2" y="931" style="font-family:'Liberation Sans', Arial, sans-serif;font-weight:bold;font-size:43.31px" fill="#000" textLength="31.32" lengthAdjust="spacingAndGlyphs">H</text>
<text x="861.05" y="1381.68" style="font-family:'Liberation Sans', Arial, sans-serif;font-weight:bold;font-size:43.14px" fill="#000" textLength="24" lengthAdjust="spacingAndGlyphs">J</text>
<polyline points="1008.95,844.7 1008.95,642.85 1069.15,642.85 1069.15,844.7" fill="none" stroke="#5f5f5f" stroke-width="3.3" stroke-linejoin="miter"/>
<polyline points="1103.85,844.7 1103.85,802.25 1163.85,802.25 1163.85,844.7" fill="none" stroke="#00ff00" stroke-width="3.3" stroke-linejoin="miter"/>
<line x1="1039.1" y1="641.5" x2="1039.1" y2="599" stroke="#5f5f5f" stroke-width="1.8" stroke-linecap="butt"/>
<line x1="1023.1" y1="599" x2="1054.7" y2="599" stroke="#5f5f5f" stroke-width="1.8" stroke-linecap="butt"/>
<line x1="1133.9" y1="801" x2="1133.9" y2="798.1" stroke="#00ff00" stroke-width="1.8" stroke-linecap="butt"/>
<line x1="1118.4" y1="798.1" x2="1149.8" y2="798.1" stroke="#00ff00" stroke-width="1.8" stroke-linecap="butt"/>
<line x1="975.7" y1="531.8" x2="975.7" y2="845.6" stroke="#000" stroke-width="2" stroke-linecap="butt"/>
<line x1="963.6" y1="844.7" x2="1198.6" y2="844.7" stroke="#000" stroke-width="2" stroke-linecap="butt"/>
<line x1="963.6" y1="532.8" x2="975.7" y2="532.8" stroke="#000" stroke-width="2" stroke-linecap="butt"/>
<line x1="963.6" y1="610.8" x2="975.7" y2="610.8" stroke="#000" stroke-width="2" stroke-linecap="butt"/>
<line x1="963.6" y1="688.8" x2="975.7" y2="688.8" stroke="#000" stroke-width="2" stroke-linecap="butt"/>
<line x1="963.6" y1="766.7" x2="975.7" y2="766.7" stroke="#000" stroke-width="2" stroke-linecap="butt"/>
<line x1="963.6" y1="844.7" x2="975.7" y2="844.7" stroke="#000" stroke-width="2" stroke-linecap="butt"/>
<text x="923.5" y="546.02" style="font-family:'Liberation Sans', Arial, sans-serif;font-weight:bold;font-size:28.53px" fill="#000" textLength="36.76" lengthAdjust="spacingAndGlyphs">40</text>
<text x="923.24" y="623.98" style="font-family:'Liberation Sans', Arial, sans-serif;font-weight:bold;font-size:28.47px" fill="#000" textLength="37.03" lengthAdjust="spacingAndGlyphs">30</text>
<text x="922.83" y="702.02" style="font-family:'Liberation Sans', Arial, sans-serif;font-weight:bold;font-size:28.53px" fill="#000" textLength="37.45" lengthAdjust="spacingAndGlyphs">20</text>
<text x="922.88" y="779.92" style="font-family:'Liberation Sans', Arial, sans-serif;font-weight:bold;font-size:28.53px" fill="#000" textLength="37.4" lengthAdjust="spacingAndGlyphs">10</text>
<text x="943.09" y="857.92" style="font-family:'Liberation Sans', Arial, sans-serif;font-weight:bold;font-size:28.53px" fill="#000" textLength="17.07" lengthAdjust="spacingAndGlyphs">0</text>
<text x="1115.22" y="776.22" style="font-family:'Liberation Sans', Arial, sans-serif;font-weight:bold;font-size:26.34px" fill="#111" textLength="10.25" lengthAdjust="spacingAndGlyphs">*</text>
<text x="1129" y="776.22" style="font-family:'Liberation Sans', Arial, sans-serif;font-weight:bold;font-size:26.34px" fill="#111" textLength="10.25" lengthAdjust="spacingAndGlyphs">*</text>
<text x="1142.78" y="776.22" style="font-family:'Liberation Sans', Arial, sans-serif;font-weight:bold;font-size:26.34px" fill="#111" textLength="10.25" lengthAdjust="spacingAndGlyphs">*</text>
<text x="1010.02" y="885.16" style="font-family:Carlito, Calibri, 'Liberation Sans', sans-serif;font-weight:normal;font-size:34.46px" fill="#000" textLength="77.53" lengthAdjust="spacingAndGlyphs">CTRL</text>
<text x="1131.32" y="885.85" style="font-family:Carlito, Calibri, 'Liberation Sans', sans-serif;font-weight:normal;font-size:36.6px" fill="#00b050" textLength="19.16" lengthAdjust="spacingAndGlyphs">0</text>
<text transform="translate(907.01 812.31) rotate(-90)" style="font-family:'Liberation Sans', Arial, sans-serif;font-weight:bold;font-size:33.69px" fill="#000" textLength="261.42" lengthAdjust="spacingAndGlyphs">OCR (pmol/min)</text>
<text x="1030.66" y="529.68" style="font-family:Carlito, Calibri, 'Liberation Sans', sans-serif;font-weight:normal;font-size:44.04px" fill="#4c12ee" textLength="97.74" lengthAdjust="spacingAndGlyphs">Basal</text>
<polyline points="1369.35,849.3 1369.35,620.65 1427.45,620.65 1427.45,849.3" fill="none" stroke="#5f5f5f" stroke-width="3.3" stroke-linejoin="miter"/>
<polyline points="1461.85,849.3 1461.85,845.65 1520.85,845.65 1520.85,849.3" fill="none" stroke="#00ff00" stroke-width="3.3" stroke-linejoin="miter"/>
<line x1="1398.4" y1="619.5" x2="1398.4" y2="590.9" stroke="#5f5f5f" stroke-width="1.8" stroke-linecap="butt"/>
<line x1="1383.2" y1="590.9" x2="1413.2" y2="590.9" stroke="#5f5f5f" stroke-width="1.8" stroke-linecap="butt"/>
<line x1="1491" y1="844.5" x2="1491" y2="843.4" stroke="#00ff00" stroke-width="1.8" stroke-linecap="butt"/>
<line x1="1476.4" y1="843.4" x2="1505.2" y2="843.4" stroke="#00ff00" stroke-width="1.8" stroke-linecap="butt"/>
<line x1="1336.6" y1="528.7" x2="1336.6" y2="850.2" stroke="#000" stroke-width="2" stroke-linecap="butt"/>
<line x1="1324.1" y1="849.3" x2="1553.4" y2="849.3" stroke="#000" stroke-width="2" stroke-linecap="butt"/>
<line x1="1324.1" y1="529.3" x2="1336.6" y2="529.3" stroke="#000" stroke-width="2" stroke-linecap="butt"/>
<line x1="1324.1" y1="583.4" x2="1336.6" y2="583.4" stroke="#000" stroke-width="2" stroke-linecap="butt"/>
<line x1="1324.1" y1="636.4" x2="1336.6" y2="636.4" stroke="#000" stroke-width="2" stroke-linecap="butt"/>
<line x1="1324.1" y1="689.5" x2="1336.6" y2="689.5" stroke="#000" stroke-width="2" stroke-linecap="butt"/>
<line x1="1324.1" y1="743" x2="1336.6" y2="743" stroke="#000" stroke-width="2" stroke-linecap="butt"/>
<line x1="1324.1" y1="795.9" x2="1336.6" y2="795.9" stroke="#000" stroke-width="2" stroke-linecap="butt"/>
<line x1="1324.1" y1="849.3" x2="1336.6" y2="849.3" stroke="#000" stroke-width="2" stroke-linecap="butt"/>
<text x="1282.83" y="543" style="font-family:'Liberation Sans', Arial, sans-serif;font-weight:bold;font-size:31.51px" fill="#000" textLength="38.04" lengthAdjust="spacingAndGlyphs">72</text>
<text x="1283.05" y="596.8" style="font-family:'Liberation Sans', Arial, sans-serif;font-weight:bold;font-size:31.07px" fill="#000" textLength="37.84" lengthAdjust="spacingAndGlyphs">60</text>
<text x="1283.8" y="649.8" style="font-family:'Liberation Sans', Arial, sans-serif;font-weight:bold;font-size:31.07px" fill="#000" textLength="36.72" lengthAdjust="spacingAndGlyphs">48</text>
<text x="1283.53" y="702.85" style="font-family:'Liberation Sans', Arial, sans-serif;font-weight:bold;font-size:31.01px" fill="#000" textLength="37.17" lengthAdjust="spacingAndGlyphs">36</text>
<text x="1283.16" y="756.7" style="font-family:'Liberation Sans', Arial, sans-serif;font-weight:bold;font-size:31.51px" fill="#000" textLength="36.51" lengthAdjust="spacingAndGlyphs">24</text>
<text x="1282.1" y="809.6" style="font-family:'Liberation Sans', Arial, sans-serif;font-weight:bold;font-size:31.51px" fill="#000" textLength="38.79" lengthAdjust="spacingAndGlyphs">12</text>
<text x="1302.82" y="862.7" style="font-family:'Liberation Sans', Arial, sans-serif;font-weight:bold;font-size:31.07px" fill="#000" textLength="18.01" lengthAdjust="spacingAndGlyphs">0</text>
<text x="1472.23" y="810.03" style="font-family:'Liberation Sans', Arial, sans-serif;font-weight:bold;font-size:24.46px" fill="#111" textLength="9.52" lengthAdjust="spacingAndGlyphs">*</text>
<text x="1486.27" y="810.03" style="font-family:'Liberation Sans', Arial, sans-serif;font-weight:bold;font-size:24.46px" fill="#111" textLength="9.52" lengthAdjust="spacingAndGlyphs">*</text>
<text x="1500.31" y="810.03" style="font-family:'Liberation Sans', Arial, sans-serif;font-weight:bold;font-size:24.46px" fill="#111" textLength="9.52" lengthAdjust="spacingAndGlyphs">*</text>
<text x="1366.06" y="885.47" style="font-family:Carlito, Calibri, 'Liberation Sans', sans-serif;font-weight:normal;font-size:32.94px" fill="#000" textLength="75.07" lengthAdjust="spacingAndGlyphs">CTRL</text>
<text x="1476.99" y="885.96" style="font-family:Carlito, Calibri, 'Liberation Sans', sans-serif;font-weight:normal;font-size:34.62px" fill="#00b050" textLength="19.71" lengthAdjust="spacingAndGlyphs">0</text>
<text transform="translate(1267.18 816.65) rotate(-90)" style="font-family:'Liberation Sans', Arial, sans-serif;font-weight:bold;font-size:35.3px" fill="#000" textLength="269.11" lengthAdjust="spacingAndGlyphs">OCR (pmol/min)</text>
<text x="1359.04" y="529.87" style="font-family:Carlito, Calibri, 'Liberation Sans', sans-serif;font-weight:normal;font-size:45.32px" fill="#066a06" textLength="161.57" lengthAdjust="spacingAndGlyphs">Maximal</text>
<polyline points="1719.15,848.2 1719.15,613.05 1784.05,613.05 1784.05,848.2" fill="none" stroke="#5f5f5f" stroke-width="3.3" stroke-linejoin="miter"/>
<polyline points="1820.75,848.2 1820.75,790.25 1886.55,790.25 1886.55,848.2" fill="none" stroke="#00ff00" stroke-width="3.3" stroke-linejoin="miter"/>
<line x1="1750.9" y1="612" x2="1750.9" y2="578.2" stroke="#5f5f5f" stroke-width="1.8" stroke-linecap="butt"/>
<line x1="1734.5" y1="578.2" x2="1767.5" y2="578.2" stroke="#5f5f5f" stroke-width="1.8" stroke-linecap="butt"/>
<line x1="1853.4" y1="789" x2="1853.4" y2="781.1" stroke="#00ff00" stroke-width="1.8" stroke-linecap="butt"/>
<line x1="1836.8" y1="781.1" x2="1869.8" y2="781.1" stroke="#00ff00" stroke-width="1.8" stroke-linecap="butt"/>
<line x1="1683.4" y1="536.2" x2="1683.4" y2="849.1" stroke="#000" stroke-width="2" stroke-linecap="butt"/>
<line x1="1672" y1="848.2" x2="1922" y2="848.2" stroke="#000" stroke-width="2" stroke-linecap="butt"/>
<line x1="1672" y1="536.8" x2="1683.4" y2="536.8" stroke="#000" stroke-width="2" stroke-linecap="butt"/>
<line x1="1672" y1="614.5" x2="1683.4" y2="614.5" stroke="#000" stroke-width="2" stroke-linecap="butt"/>
<line x1="1672" y1="692.7" x2="1683.4" y2="692.7" stroke="#000" stroke-width="2" stroke-linecap="butt"/>
<line x1="1672" y1="770.5" x2="1683.4" y2="770.5" stroke="#000" stroke-width="2" stroke-linecap="butt"/>
<line x1="1672" y1="848.2" x2="1683.4" y2="848.2" stroke="#000" stroke-width="2" stroke-linecap="butt"/>
<text x="1634.46" y="550.5" style="font-family:'Liberation Sans', Arial, sans-serif;font-weight:bold;font-size:30.08px" fill="#000" textLength="34.27" lengthAdjust="spacingAndGlyphs">12</text>
<text x="1652.18" y="627.91" style="font-family:'Liberation Sans', Arial, sans-serif;font-weight:bold;font-size:29.66px" fill="#000" textLength="16.42" lengthAdjust="spacingAndGlyphs">9</text>
<text x="1652.12" y="706.11" style="font-family:'Liberation Sans', Arial, sans-serif;font-weight:bold;font-size:29.66px" fill="#000" textLength="16.45" lengthAdjust="spacingAndGlyphs">6</text>
<text x="1652.54" y="783.87" style="font-family:'Liberation Sans', Arial, sans-serif;font-weight:bold;font-size:29.6px" fill="#000" textLength="16" lengthAdjust="spacingAndGlyphs">3</text>
<text x="1652.01" y="861.61" style="font-family:'Liberation Sans', Arial, sans-serif;font-weight:bold;font-size:29.66px" fill="#000" textLength="16.72" lengthAdjust="spacingAndGlyphs">0</text>
<text x="1840.12" y="770.82" style="font-family:'Liberation Sans', Arial, sans-serif;font-weight:bold;font-size:26.34px" fill="#111" textLength="10.25" lengthAdjust="spacingAndGlyphs">*</text>
<text x="1852.9" y="770.82" style="font-family:'Liberation Sans', Arial, sans-serif;font-weight:bold;font-size:26.34px" fill="#111" textLength="10.25" lengthAdjust="spacingAndGlyphs">*</text>
<text x="1865.68" y="770.82" style="font-family:'Liberation Sans', Arial, sans-serif;font-weight:bold;font-size:26.34px" fill="#111" textLength="10.25" lengthAdjust="spacingAndGlyphs">*</text>
<text x="1718.53" y="885.47" style="font-family:Carlito, Calibri, 'Liberation Sans', sans-serif;font-weight:normal;font-size:32.94px" fill="#000" textLength="76.91" lengthAdjust="spacingAndGlyphs">CTRL</text>
<text x="1848.33" y="885.96" style="font-family:Carlito, Calibri, 'Liberation Sans', sans-serif;font-weight:normal;font-size:34.62px" fill="#00b050" textLength="19.04" lengthAdjust="spacingAndGlyphs">0</text>
<text transform="translate(1618.91 816.61) rotate(-90)" style="font-family:'Liberation Sans', Arial, sans-serif;font-weight:bold;font-size:31.76px" fill="#000" textLength="262.23" lengthAdjust="spacingAndGlyphs">OCR (pmol/min)</text>
<text x="1699" y="529.19" style="font-family:Carlito, Calibri, 'Liberation Sans', sans-serif;font-weight:normal;font-size:42.04px" fill="#c00000" textLength="223.57" lengthAdjust="spacingAndGlyphs">Proton Leak</text>
<polyline points="1042.15,1276.7 1042.15,1007.65 1106.65,1007.65 1106.65,1276.7" fill="none" stroke="#ff0000" stroke-width="3.3" stroke-linejoin="miter"/>
<polyline points="1144.05,1276.7 1144.05,1244.55 1207.85,1244.55 1207.85,1276.7" fill="none" stroke="#00ff00" stroke-width="3.3" stroke-linejoin="miter"/>
<line x1="1073.8" y1="1006.5" x2="1073.8" y2="996.9" stroke="#ff0000" stroke-width="1.8" stroke-linecap="butt"/>
<line x1="1057.6" y1="996.9" x2="1090.5" y2="996.9" stroke="#ff0000" stroke-width="1.8" stroke-linecap="butt"/>
<line x1="1175.5" y1="1243.5" x2="1175.5" y2="1231.7" stroke="#00ff00" stroke-width="1.8" stroke-linecap="butt"/>
<line x1="1159" y1="1231.7" x2="1191.7" y2="1231.7" stroke="#00ff00" stroke-width="1.8" stroke-linecap="butt"/>
<line x1="1007.1" y1="957.7" x2="1007.1" y2="1277.6" stroke="#000" stroke-width="2" stroke-linecap="butt"/>
<line x1="995.7" y1="1276.7" x2="1243.3" y2="1276.7" stroke="#000" stroke-width="2" stroke-linecap="butt"/>
<line x1="995.7" y1="958.3" x2="1007.1" y2="958.3" stroke="#000" stroke-width="2" stroke-linecap="butt"/>
<line x1="995.7" y1="1038.1" x2="1007.1" y2="1038.1" stroke="#000" stroke-width="2" stroke-linecap="butt"/>
<line x1="995.7" y1="1117.4" x2="1007.1" y2="1117.4" stroke="#000" stroke-width="2" stroke-linecap="butt"/>
<line x1="995.7" y1="1196.9" x2="1007.1" y2="1196.9" stroke="#000" stroke-width="2" stroke-linecap="butt"/>
<line x1="995.7" y1="1276.7" x2="1007.1" y2="1276.7" stroke="#000" stroke-width="2" stroke-linecap="butt"/>
<text x="956.6" y="971.07" style="font-family:'Liberation Sans', Arial, sans-serif;font-weight:bold;font-size:33.62px" fill="#000" textLength="35.2" lengthAdjust="spacingAndGlyphs">80</text>
<text x="956.44" y="1050.87" style="font-family:'Liberation Sans', Arial, sans-serif;font-weight:bold;font-size:33.62px" fill="#000" textLength="35.37" lengthAdjust="spacingAndGlyphs">60</text>
<text x="957.13" y="1130.17" style="font-family:'Liberation Sans', Arial, sans-serif;font-weight:bold;font-size:33.62px" fill="#000" textLength="34.65" lengthAdjust="spacingAndGlyphs">40</text>
<text x="956.5" y="1209.67" style="font-family:'Liberation Sans', Arial, sans-serif;font-weight:bold;font-size:33.62px" fill="#000" textLength="35.3" lengthAdjust="spacingAndGlyphs">20</text>
<text x="975.01" y="1289.47" style="font-family:'Liberation Sans', Arial, sans-serif;font-weight:bold;font-size:33.62px" fill="#000" textLength="16.72" lengthAdjust="spacingAndGlyphs">0</text>
<text x="1158.23" y="1197.37" style="font-family:'Liberation Sans', Arial, sans-serif;font-weight:bold;font-size:25.53px" fill="#111" textLength="9.94" lengthAdjust="spacingAndGlyphs">*</text>
<text x="1171.16" y="1197.37" style="font-family:'Liberation Sans', Arial, sans-serif;font-weight:bold;font-size:25.53px" fill="#111" textLength="9.94" lengthAdjust="spacingAndGlyphs">*</text>
<text x="1184.09" y="1197.37" style="font-family:'Liberation Sans', Arial, sans-serif;font-weight:bold;font-size:25.53px" fill="#111" textLength="9.94" lengthAdjust="spacingAndGlyphs">*</text>
<text x="1035.65" y="1317.66" style="font-family:Carlito, Calibri, 'Liberation Sans', sans-serif;font-weight:normal;font-size:34.62px" fill="#ff0000" textLength="75.68" lengthAdjust="spacingAndGlyphs">CTRL</text>
<text x="1164.56" y="1318.25" style="font-family:Carlito, Calibri, 'Liberation Sans', sans-serif;font-weight:normal;font-size:36.45px" fill="#00b050" textLength="18.49" lengthAdjust="spacingAndGlyphs">0</text>
<text transform="translate(942.17 1244.35) rotate(-90)" style="font-family:'Liberation Sans', Arial, sans-serif;font-weight:bold;font-size:31.97px" fill="#000" textLength="268.71" lengthAdjust="spacingAndGlyphs">OCR (pmol/min)</text>
<polyline points="1389.35,1272.3 1389.35,1045.95 1449.75,1045.95 1449.75,1272.3" fill="none" stroke="#ff0000" stroke-width="3.3" stroke-linejoin="miter"/>
<polyline points="1485.95,1272.3 1485.95,1269.45 1545.65,1269.45 1545.65,1272.3" fill="none" stroke="#00ff00" stroke-width="3.3" stroke-linejoin="miter"/>
<line x1="1419.5" y1="1044.8" x2="1419.5" y2="1030.2" stroke="#ff0000" stroke-width="1.8" stroke-linecap="butt"/>
<line x1="1403.6" y1="1030.2" x2="1435" y2="1030.2" stroke="#ff0000" stroke-width="1.8" stroke-linecap="butt"/>
<line x1="1515.8" y1="1268" x2="1515.8" y2="1267.2" stroke="#00ff00" stroke-width="1.8" stroke-linecap="butt"/>
<line x1="1500.2" y1="1267.2" x2="1531.4" y2="1267.2" stroke="#00ff00" stroke-width="1.8" stroke-linecap="butt"/>
<line x1="1355.9" y1="962.6" x2="1355.9" y2="1273.2" stroke="#000" stroke-width="2" stroke-linecap="butt"/>
<line x1="1344.5" y1="1272.3" x2="1580.9" y2="1272.3" stroke="#000" stroke-width="2" stroke-linecap="butt"/>
<line x1="1344.5" y1="963.2" x2="1355.9" y2="963.2" stroke="#000" stroke-width="2" stroke-linecap="butt"/>
<line x1="1344.5" y1="1066.6" x2="1355.9" y2="1066.6" stroke="#000" stroke-width="2" stroke-linecap="butt"/>
<line x1="1344.5" y1="1169.3" x2="1355.9" y2="1169.3" stroke="#000" stroke-width="2" stroke-linecap="butt"/>
<line x1="1344.5" y1="1272.3" x2="1355.9" y2="1272.3" stroke="#000" stroke-width="2" stroke-linecap="butt"/>
<text x="1289.86" y="975.87" style="font-family:'Liberation Sans', Arial, sans-serif;font-weight:bold;font-size:33.33px" fill="#000" textLength="51.4" lengthAdjust="spacingAndGlyphs">150</text>
<text x="1289.86" y="1079.27" style="font-family:'Liberation Sans', Arial, sans-serif;font-weight:bold;font-size:33.33px" fill="#000" textLength="51.4" lengthAdjust="spacingAndGlyphs">100</text>
<text x="1308.39" y="1181.97" style="font-family:'Liberation Sans', Arial, sans-serif;font-weight:bold;font-size:33.33px" fill="#000" textLength="32.82" lengthAdjust="spacingAndGlyphs">50</text>
<text x="1324.73" y="1284.97" style="font-family:'Liberation Sans', Arial, sans-serif;font-weight:bold;font-size:33.33px" fill="#000" textLength="16.49" lengthAdjust="spacingAndGlyphs">0</text>
<text x="1495.63" y="1231.83" style="font-family:'Liberation Sans', Arial, sans-serif;font-weight:bold;font-size:24.46px" fill="#111" textLength="9.52" lengthAdjust="spacingAndGlyphs">*</text>
<text x="1507.37" y="1231.83" style="font-family:'Liberation Sans', Arial, sans-serif;font-weight:bold;font-size:24.46px" fill="#111" textLength="9.52" lengthAdjust="spacingAndGlyphs">*</text>
<text x="1519.11" y="1231.83" style="font-family:'Liberation Sans', Arial, sans-serif;font-weight:bold;font-size:24.46px" fill="#111" textLength="9.52" lengthAdjust="spacingAndGlyphs">*</text>
<text x="1389.23" y="1317.47" style="font-family:Carlito, Calibri, 'Liberation Sans', sans-serif;font-weight:normal;font-size:32.94px" fill="#ff0000" textLength="77.12" lengthAdjust="spacingAndGlyphs">CTRL</text>
<text x="1501.56" y="1318.06" style="font-family:Carlito, Calibri, 'Liberation Sans', sans-serif;font-weight:normal;font-size:34.77px" fill="#00b050" textLength="18.49" lengthAdjust="spacingAndGlyphs">0</text>
<text transform="translate(1276.61 1240.71) rotate(-90)" style="font-family:'Liberation Sans', Arial, sans-serif;font-weight:bold;font-size:31.76px" fill="#000" textLength="261.01" lengthAdjust="spacingAndGlyphs">OCR (pmol/min)</text>
<polyline points="1735.95,1273 1735.95,1067.75 1799.25,1067.75 1799.25,1273" fill="none" stroke="#ff0000" stroke-width="3.3" stroke-linejoin="miter"/>
<polyline points="1835.25,1273 1835.25,1222.75 1899.05,1222.75 1899.05,1273" fill="none" stroke="#00ff00" stroke-width="3.3" stroke-linejoin="miter"/>
<line x1="1767.7" y1="1066.5" x2="1767.7" y2="1027.5" stroke="#ff0000" stroke-width="1.8" stroke-linecap="butt"/>
<line x1="1750.9" y1="1027.5" x2="1783.9" y2="1027.5" stroke="#ff0000" stroke-width="1.8" stroke-linecap="butt"/>
<line x1="1866.8" y1="1221.5" x2="1866.8" y2="1203.6" stroke="#00ff00" stroke-width="1.8" stroke-linecap="butt"/>
<line x1="1850.9" y1="1203.6" x2="1883.2" y2="1203.6" stroke="#00ff00" stroke-width="1.8" stroke-linecap="butt"/>
<line x1="1700.9" y1="955.8" x2="1700.9" y2="1273.9" stroke="#000" stroke-width="2" stroke-linecap="butt"/>
<line x1="1689.5" y1="1273" x2="1934.3" y2="1273" stroke="#000" stroke-width="2" stroke-linecap="butt"/>
<line x1="1689.5" y1="956.4" x2="1700.9" y2="956.4" stroke="#000" stroke-width="2" stroke-linecap="butt"/>
<line x1="1689.5" y1="1020" x2="1700.9" y2="1020" stroke="#000" stroke-width="2" stroke-linecap="butt"/>
<line x1="1689.5" y1="1083.2" x2="1700.9" y2="1083.2" stroke="#000" stroke-width="2" stroke-linecap="butt"/>
<line x1="1689.5" y1="1146.1" x2="1700.9" y2="1146.1" stroke="#000" stroke-width="2" stroke-linecap="butt"/>
<line x1="1689.5" y1="1209.8" x2="1700.9" y2="1209.8" stroke="#000" stroke-width="2" stroke-linecap="butt"/>
<line x1="1689.5" y1="1273" x2="1700.9" y2="1273" stroke="#000" stroke-width="2" stroke-linecap="butt"/>
<text x="1649.8" y="969.58" style="font-family:'Liberation Sans', Arial, sans-serif;font-weight:bold;font-size:32.49px" fill="#000" textLength="35.39" lengthAdjust="spacingAndGlyphs">25</text>
<text x="1649.78" y="1033.18" style="font-family:'Liberation Sans', Arial, sans-serif;font-weight:bold;font-size:32.49px" fill="#000" textLength="35.84" lengthAdjust="spacingAndGlyphs">20</text>
<text x="1648.84" y="1096.38" style="font-family:'Liberation Sans', Arial, sans-serif;font-weight:bold;font-size:32.96px" fill="#000" textLength="36.37" lengthAdjust="spacingAndGlyphs">15</text>
<text x="1648.81" y="1159.28" style="font-family:'Liberation Sans', Arial, sans-serif;font-weight:bold;font-size:32.49px" fill="#000" textLength="36.85" lengthAdjust="spacingAndGlyphs">10</text>
<text x="1668.58" y="1222.98" style="font-family:'Liberation Sans', Arial, sans-serif;font-weight:bold;font-size:32.96px" fill="#000" textLength="16.54" lengthAdjust="spacingAndGlyphs">5</text>
<text x="1668.27" y="1286.18" style="font-family:'Liberation Sans', Arial, sans-serif;font-weight:bold;font-size:32.49px" fill="#000" textLength="17.31" lengthAdjust="spacingAndGlyphs">0</text>
<text x="1852.42" y="1192.26" style="font-family:'Liberation Sans', Arial, sans-serif;font-weight:bold;font-size:27.41px" fill="#111" textLength="10.67" lengthAdjust="spacingAndGlyphs">*</text>
<text x="1864.74" y="1192.26" style="font-family:'Liberation Sans', Arial, sans-serif;font-weight:bold;font-size:27.41px" fill="#111" textLength="10.67" lengthAdjust="spacingAndGlyphs">*</text>
<text x="1877.06" y="1192.26" style="font-family:'Liberation Sans', Arial, sans-serif;font-weight:bold;font-size:27.41px" fill="#111" textLength="10.67" lengthAdjust="spacingAndGlyphs">*</text>
<text x="1728.53" y="1306.17" style="font-family:Carlito, Calibri, 'Liberation Sans', sans-serif;font-weight:normal;font-size:32.94px" fill="#ff0000" textLength="76.91" lengthAdjust="spacingAndGlyphs">CTRL</text>
<text x="1858.36" y="1306.76" style="font-family:Carlito, Calibri, 'Liberation Sans', sans-serif;font-weight:normal;font-size:34.77px" fill="#00b050" textLength="18.49" lengthAdjust="spacingAndGlyphs">0</text>
<text transform="translate(1634.53 1239.63) rotate(-90)" style="font-family:'Liberation Sans', Arial, sans-serif;font-weight:bold;font-size:31.65px" fill="#000" textLength="265.67" lengthAdjust="spacingAndGlyphs">OCR (pmol/min)</text>
<polyline points="1033.75,1726.1 1033.75,1489.45 1099.65,1489.45 1099.65,1726.1" fill="none" stroke="#0000ff" stroke-width="3.3" stroke-linejoin="miter"/>
<polyline points="1136.95,1726.1 1136.95,1700.55 1203.55,1700.55 1203.55,1726.1" fill="none" stroke="#00ff00" stroke-width="3.3" stroke-linejoin="miter"/>
<line x1="1066.2" y1="1488.3" x2="1066.2" y2="1482.2" stroke="#0000ff" stroke-width="1.8" stroke-linecap="butt"/>
<line x1="1049.6" y1="1482.2" x2="1083.2" y2="1482.2" stroke="#0000ff" stroke-width="1.8" stroke-linecap="butt"/>
<line x1="1170.1" y1="1699.5" x2="1170.1" y2="1694.5" stroke="#00ff00" stroke-width="1.8" stroke-linecap="butt"/>
<line x1="1153.1" y1="1694.5" x2="1186.5" y2="1694.5" stroke="#00ff00" stroke-width="1.8" stroke-linecap="butt"/>
<line x1="997.8" y1="1413.2" x2="997.8" y2="1727" stroke="#000" stroke-width="2" stroke-linecap="butt"/>
<line x1="986.8" y1="1726.1" x2="1239.5" y2="1726.1" stroke="#000" stroke-width="2" stroke-linecap="butt"/>
<line x1="986.8" y1="1413.8" x2="997.8" y2="1413.8" stroke="#000" stroke-width="2" stroke-linecap="butt"/>
<line x1="986.8" y1="1476.1" x2="997.8" y2="1476.1" stroke="#000" stroke-width="2" stroke-linecap="butt"/>
<line x1="986.8" y1="1538.9" x2="997.8" y2="1538.9" stroke="#000" stroke-width="2" stroke-linecap="butt"/>
<line x1="986.8" y1="1601.2" x2="997.8" y2="1601.2" stroke="#000" stroke-width="2" stroke-linecap="butt"/>
<line x1="986.8" y1="1664.1" x2="997.8" y2="1664.1" stroke="#000" stroke-width="2" stroke-linecap="butt"/>
<line x1="986.8" y1="1726.1" x2="997.8" y2="1726.1" stroke="#000" stroke-width="2" stroke-linecap="butt"/>
<text x="950.04" y="1427.4" style="font-family:'Liberation Sans', Arial, sans-serif;font-weight:bold;font-size:30.79px" fill="#000" textLength="34.64" lengthAdjust="spacingAndGlyphs">50</text>
<text x="950.54" y="1489.7" style="font-family:'Liberation Sans', Arial, sans-serif;font-weight:bold;font-size:30.79px" fill="#000" textLength="34.12" lengthAdjust="spacingAndGlyphs">40</text>
<text x="950.29" y="1552.45" style="font-family:'Liberation Sans', Arial, sans-serif;font-weight:bold;font-size:30.73px" fill="#000" textLength="34.38" lengthAdjust="spacingAndGlyphs">30</text>
<text x="949.92" y="1614.8" style="font-family:'Liberation Sans', Arial, sans-serif;font-weight:bold;font-size:30.79px" fill="#000" textLength="34.77" lengthAdjust="spacingAndGlyphs">20</text>
<text x="948.98" y="1677.7" style="font-family:'Liberation Sans', Arial, sans-serif;font-weight:bold;font-size:30.79px" fill="#000" textLength="35.74" lengthAdjust="spacingAndGlyphs">10</text>
<text x="966.83" y="1739.7" style="font-family:'Liberation Sans', Arial, sans-serif;font-weight:bold;font-size:30.79px" fill="#000" textLength="17.89" lengthAdjust="spacingAndGlyphs">0</text>
<text x="1153.02" y="1670.72" style="font-family:'Liberation Sans', Arial, sans-serif;font-weight:bold;font-size:26.34px" fill="#111" textLength="10.25" lengthAdjust="spacingAndGlyphs">*</text>
<text x="1165" y="1670.72" style="font-family:'Liberation Sans', Arial, sans-serif;font-weight:bold;font-size:26.34px" fill="#111" textLength="10.25" lengthAdjust="spacingAndGlyphs">*</text>
<text x="1176.98" y="1670.72" style="font-family:'Liberation Sans', Arial, sans-serif;font-weight:bold;font-size:26.34px" fill="#111" textLength="10.25" lengthAdjust="spacingAndGlyphs">*</text>
<text x="1030.15" y="1768.06" style="font-family:Carlito, Calibri, 'Liberation Sans', sans-serif;font-weight:normal;font-size:34.62px" fill="#0000cc" textLength="76.09" lengthAdjust="spacingAndGlyphs">CTRL</text>
<text x="1151.67" y="1768.65" style="font-family:Carlito, Calibri, 'Liberation Sans', sans-serif;font-weight:normal;font-size:36.45px" fill="#00b050" textLength="18.15" lengthAdjust="spacingAndGlyphs">0</text>
<text transform="translate(935.34 1693.51) rotate(-90)" style="font-family:'Liberation Sans', Arial, sans-serif;font-weight:bold;font-size:32.08px" fill="#000" textLength="262.43" lengthAdjust="spacingAndGlyphs">OCR (pmol/min)</text>
<polyline points="1395.75,1727.7 1395.75,1459.35 1450.15,1459.35 1450.15,1727.7" fill="none" stroke="#0000ff" stroke-width="3.3" stroke-linejoin="miter"/>
<polyline points="1483.05,1727.7 1483.05,1725.05 1536.55,1725.05 1536.55,1727.7" fill="none" stroke="#00ff00" stroke-width="3.3" stroke-linejoin="miter"/>
<line x1="1423" y1="1458.2" x2="1423" y2="1447.5" stroke="#0000ff" stroke-width="1.8" stroke-linecap="butt"/>
<line x1="1408.6" y1="1447.5" x2="1437.3" y2="1447.5" stroke="#0000ff" stroke-width="1.8" stroke-linecap="butt"/>
<line x1="1509.3" y1="1724" x2="1509.3" y2="1720.9" stroke="#00ff00" stroke-width="1.8" stroke-linecap="butt"/>
<line x1="1495.7" y1="1720.9" x2="1523.6" y2="1720.9" stroke="#00ff00" stroke-width="1.8" stroke-linecap="butt"/>
<line x1="1365" y1="1413" x2="1365" y2="1728.6" stroke="#000" stroke-width="2" stroke-linecap="butt"/>
<line x1="1353.6" y1="1727.7" x2="1568.4" y2="1727.7" stroke="#000" stroke-width="2" stroke-linecap="butt"/>
<line x1="1353.6" y1="1413.6" x2="1365" y2="1413.6" stroke="#000" stroke-width="2" stroke-linecap="butt"/>
<line x1="1353.6" y1="1518.6" x2="1365" y2="1518.6" stroke="#000" stroke-width="2" stroke-linecap="butt"/>
<line x1="1353.6" y1="1623.2" x2="1365" y2="1623.2" stroke="#000" stroke-width="2" stroke-linecap="butt"/>
<line x1="1353.6" y1="1727.7" x2="1365" y2="1727.7" stroke="#000" stroke-width="2" stroke-linecap="butt"/>
<text x="1294.79" y="1425.87" style="font-family:'Liberation Sans', Arial, sans-serif;font-weight:bold;font-size:33.9px" fill="#000" textLength="53.32" lengthAdjust="spacingAndGlyphs">150</text>
<text x="1294.79" y="1530.87" style="font-family:'Liberation Sans', Arial, sans-serif;font-weight:bold;font-size:33.9px" fill="#000" textLength="53.32" lengthAdjust="spacingAndGlyphs">100</text>
<text x="1315.19" y="1635.47" style="font-family:'Liberation Sans', Arial, sans-serif;font-weight:bold;font-size:33.9px" fill="#000" textLength="32.82" lengthAdjust="spacingAndGlyphs">50</text>
<text x="1332.07" y="1739.97" style="font-family:'Liberation Sans', Arial, sans-serif;font-weight:bold;font-size:33.9px" fill="#000" textLength="15.9" lengthAdjust="spacingAndGlyphs">0</text>
<text x="1489.93" y="1690.77" style="font-family:'Liberation Sans', Arial, sans-serif;font-weight:bold;font-size:25.53px" fill="#111" textLength="9.94" lengthAdjust="spacingAndGlyphs">*</text>
<text x="1503.76" y="1690.77" style="font-family:'Liberation Sans', Arial, sans-serif;font-weight:bold;font-size:25.53px" fill="#111" textLength="9.94" lengthAdjust="spacingAndGlyphs">*</text>
<text x="1517.59" y="1690.77" style="font-family:'Liberation Sans', Arial, sans-serif;font-weight:bold;font-size:25.53px" fill="#111" textLength="9.94" lengthAdjust="spacingAndGlyphs">*</text>
<text x="1384.23" y="1767.97" style="font-family:Carlito, Calibri, 'Liberation Sans', sans-serif;font-weight:normal;font-size:34.01px" fill="#0000cc" textLength="76.91" lengthAdjust="spacingAndGlyphs">CTRL</text>
<text x="1496.32" y="1768.56" style="font-family:Carlito, Calibri, 'Liberation Sans', sans-serif;font-weight:normal;font-size:35.84px" fill="#00b050" textLength="19.16" lengthAdjust="spacingAndGlyphs">0</text>
<text transform="translate(1279.88 1696.23) rotate(-90)" style="font-family:'Liberation Sans', Arial, sans-serif;font-weight:bold;font-size:32.4px" fill="#000" textLength="264.56" lengthAdjust="spacingAndGlyphs">OCR (pmol/min)</text>
<polyline points="1749.15,1724.3 1749.15,1491.15 1815.65,1491.15 1815.65,1724.3" fill="none" stroke="#0000ff" stroke-width="3.3" stroke-linejoin="miter"/>
<polyline points="1853.65,1724.3 1853.65,1677.55 1920.65,1677.55 1920.65,1724.3" fill="none" stroke="#00ff00" stroke-width="3.3" stroke-linejoin="miter"/>
<line x1="1782.7" y1="1490" x2="1782.7" y2="1443.6" stroke="#0000ff" stroke-width="1.8" stroke-linecap="butt"/>
<line x1="1765" y1="1443.6" x2="1799.5" y2="1443.6" stroke="#0000ff" stroke-width="1.8" stroke-linecap="butt"/>
<line x1="1886.6" y1="1676.5" x2="1886.6" y2="1651.6" stroke="#00ff00" stroke-width="1.8" stroke-linecap="butt"/>
<line x1="1870" y1="1651.6" x2="1904.3" y2="1651.6" stroke="#00ff00" stroke-width="1.8" stroke-linecap="butt"/>
<line x1="1712.7" y1="1412.4" x2="1712.7" y2="1725.2" stroke="#000" stroke-width="2" stroke-linecap="butt"/>
<line x1="1700.2" y1="1724.3" x2="1935.5" y2="1724.3" stroke="#000" stroke-width="2" stroke-linecap="butt"/>
<line x1="1700.2" y1="1413" x2="1712.7" y2="1413" stroke="#000" stroke-width="2" stroke-linecap="butt"/>
<line x1="1700.2" y1="1517" x2="1712.7" y2="1517" stroke="#000" stroke-width="2" stroke-linecap="butt"/>
<line x1="1700.2" y1="1620.5" x2="1712.7" y2="1620.5" stroke="#000" stroke-width="2" stroke-linecap="butt"/>
<line x1="1700.2" y1="1724.3" x2="1712.7" y2="1724.3" stroke="#000" stroke-width="2" stroke-linecap="butt"/>
<text x="1657.07" y="1425" style="font-family:'Liberation Sans', Arial, sans-serif;font-weight:bold;font-size:31.51px" fill="#000" textLength="39.34" lengthAdjust="spacingAndGlyphs">12</text>
<text x="1676.37" y="1530.47" style="font-family:'Liberation Sans', Arial, sans-serif;font-weight:bold;font-size:28.95px" fill="#000" textLength="19.72" lengthAdjust="spacingAndGlyphs">8</text>
<text x="1677.01" y="1634.25" style="font-family:'Liberation Sans', Arial, sans-serif;font-weight:bold;font-size:29.8px" fill="#000" textLength="18.17" lengthAdjust="spacingAndGlyphs">4</text>
<text x="1676.04" y="1737.77" style="font-family:'Liberation Sans', Arial, sans-serif;font-weight:bold;font-size:28.95px" fill="#000" textLength="20.46" lengthAdjust="spacingAndGlyphs">0</text>
<text x="1867.22" y="1636.36" style="font-family:'Liberation Sans', Arial, sans-serif;font-weight:bold;font-size:27.41px" fill="#111" textLength="10.67" lengthAdjust="spacingAndGlyphs">*</text>
<text x="1882.14" y="1636.36" style="font-family:'Liberation Sans', Arial, sans-serif;font-weight:bold;font-size:27.41px" fill="#111" textLength="10.67" lengthAdjust="spacingAndGlyphs">*</text>
<text x="1897.06" y="1636.36" style="font-family:'Liberation Sans', Arial, sans-serif;font-weight:bold;font-size:27.41px" fill="#111" textLength="10.67" lengthAdjust="spacingAndGlyphs">*</text>
<text x="1743.23" y="1767.26" style="font-family:Carlito, Calibri, 'Liberation Sans', sans-serif;font-weight:normal;font-size:34.62px" fill="#0000cc" textLength="76.91" lengthAdjust="spacingAndGlyphs">CTRL</text>
<text x="1873.13" y="1767.85" style="font-family:Carlito, Calibri, 'Liberation Sans', sans-serif;font-weight:normal;font-size:36.45px" fill="#00b050" textLength="18.93" lengthAdjust="spacingAndGlyphs">0</text>
<text transform="translate(1641.51 1691.61) rotate(-90)" style="font-family:'Liberation Sans', Arial, sans-serif;font-weight:bold;font-size:36.58px" fill="#000" textLength="261.01" lengthAdjust="spacingAndGlyphs">OCR (pmol/min)</text>
</svg>
</body></html>
